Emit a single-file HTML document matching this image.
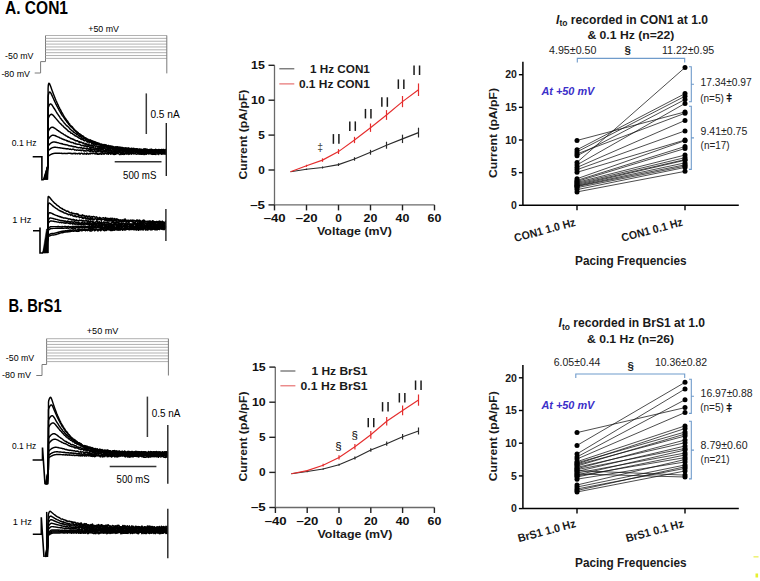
<!DOCTYPE html>
<html><head><meta charset="utf-8"><style>
html,body{margin:0;padding:0;background:#fff;}
svg{display:block;font-family:"Liberation Sans", sans-serif;}
</style></head><body>
<svg width="760" height="581" viewBox="0 0 760 581">
<rect width="760" height="581" fill="#fff"/>
<text x="5" y="14" font-size="17.8" font-weight="bold" fill="#000" text-anchor="start" textLength="63" lengthAdjust="spacingAndGlyphs" >A. CON1</text>
<text x="8.4" y="312.2" font-size="18" font-weight="bold" fill="#000" text-anchor="start" textLength="53.2" lengthAdjust="spacingAndGlyphs" >B. BrS1</text>
<path d="M34.7,73 H40.6 V61.6 H45.5 V35.5" stroke="#7a7a7a" stroke-width="1" fill="none" />
<line x1="45.5" y1="35.5" x2="166.8" y2="35.5" stroke="#a8a8a8" stroke-width="0.9"/>
<line x1="45.5" y1="38.3625" x2="166.8" y2="38.3625" stroke="#a8a8a8" stroke-width="0.9"/>
<line x1="45.5" y1="41.225" x2="166.8" y2="41.225" stroke="#a8a8a8" stroke-width="0.9"/>
<line x1="45.5" y1="44.0875" x2="166.8" y2="44.0875" stroke="#a8a8a8" stroke-width="0.9"/>
<line x1="45.5" y1="46.95" x2="166.8" y2="46.95" stroke="#a8a8a8" stroke-width="0.9"/>
<line x1="45.5" y1="49.8125" x2="166.8" y2="49.8125" stroke="#a8a8a8" stroke-width="0.9"/>
<line x1="45.5" y1="52.675" x2="166.8" y2="52.675" stroke="#a8a8a8" stroke-width="0.9"/>
<line x1="45.5" y1="55.537499999999994" x2="166.8" y2="55.537499999999994" stroke="#a8a8a8" stroke-width="0.9"/>
<line x1="45.5" y1="58.4" x2="166.8" y2="58.4" stroke="#a8a8a8" stroke-width="0.9"/>
<line x1="166.8" y1="35.5" x2="166.8" y2="73.4" stroke="#7a7a7a" stroke-width="1"/>
<text x="88.3" y="32" font-size="9.2" font-weight="normal" fill="#000" text-anchor="start" textLength="30.7" lengthAdjust="spacingAndGlyphs" >+50 mV</text>
<text x="5.1" y="59" font-size="9.2" font-weight="normal" fill="#000" text-anchor="start" textLength="28.4" lengthAdjust="spacingAndGlyphs" >-50 mV</text>
<text x="1.4" y="76.6" font-size="9.2" font-weight="normal" fill="#000" text-anchor="start" textLength="28.6" lengthAdjust="spacingAndGlyphs" >-80 mV</text>
<path d="M36.3,375.5 H42 V364.5 H46.6 V338.7" stroke="#7a7a7a" stroke-width="1" fill="none" />
<line x1="46.6" y1="338.7" x2="168.4" y2="338.7" stroke="#a8a8a8" stroke-width="0.9"/>
<line x1="46.6" y1="341.5625" x2="168.4" y2="341.5625" stroke="#a8a8a8" stroke-width="0.9"/>
<line x1="46.6" y1="344.425" x2="168.4" y2="344.425" stroke="#a8a8a8" stroke-width="0.9"/>
<line x1="46.6" y1="347.2875" x2="168.4" y2="347.2875" stroke="#a8a8a8" stroke-width="0.9"/>
<line x1="46.6" y1="350.15" x2="168.4" y2="350.15" stroke="#a8a8a8" stroke-width="0.9"/>
<line x1="46.6" y1="353.0125" x2="168.4" y2="353.0125" stroke="#a8a8a8" stroke-width="0.9"/>
<line x1="46.6" y1="355.875" x2="168.4" y2="355.875" stroke="#a8a8a8" stroke-width="0.9"/>
<line x1="46.6" y1="358.7375" x2="168.4" y2="358.7375" stroke="#a8a8a8" stroke-width="0.9"/>
<line x1="46.6" y1="361.6" x2="168.4" y2="361.6" stroke="#a8a8a8" stroke-width="0.9"/>
<line x1="168.4" y1="338.7" x2="168.4" y2="375.5" stroke="#7a7a7a" stroke-width="1"/>
<text x="86.8" y="334.2" font-size="9.2" font-weight="normal" fill="#000" text-anchor="start" textLength="31.6" lengthAdjust="spacingAndGlyphs" >+50 mV</text>
<text x="5.8" y="360.6" font-size="9.2" font-weight="normal" fill="#000" text-anchor="start" textLength="28.4" lengthAdjust="spacingAndGlyphs" >-50 mV</text>
<text x="2" y="377.7" font-size="9.2" font-weight="normal" fill="#000" text-anchor="start" textLength="29" lengthAdjust="spacingAndGlyphs" >-80 mV</text>
<path d="M32.7,156.8 H41.9 V179.7 H43.8" stroke="#000" stroke-width="1.6" fill="none" stroke-linejoin="miter"/>
<path d="M43.50,179.70 L47.90,165.70 L48.10,88.20 L48.30,85.22 L48.60,83.86 L48.90,83.24 L49.00,83.20 L49.60,83.84 L50.20,85.22 L50.80,86.84 L51.40,88.51 L52.00,90.17 L52.60,91.82 L53.20,93.43 L53.80,95.01 L54.40,96.55 L55.00,98.01 L55.60,99.42 L56.20,100.97 L56.80,102.19 L57.40,103.67 L57.90,104.71 L58.40,105.66 L58.90,106.87 L59.40,107.70 L59.90,108.85 L60.40,109.67 L60.90,110.62 L61.40,111.69 L61.90,112.79 L62.40,113.33 L62.90,114.24 L63.40,115.29 L63.90,116.30 L64.40,116.90 L64.90,117.58 L65.40,118.70 L65.90,118.87 L66.40,120.12 L66.90,120.46 L67.40,121.06 L67.90,121.71 L68.40,122.51 L68.90,123.53 L69.40,123.69 L69.90,124.62 L70.40,125.27 L70.90,125.64 L71.40,126.37 L71.90,126.52 L72.40,127.05 L72.90,127.72 L73.40,128.67 L73.90,128.95 L74.40,129.34 L74.90,130.09 L75.40,130.44 L75.90,130.75 L76.40,131.71 L76.90,132.06 L77.40,132.01 L77.90,132.79 L78.40,133.15 L78.90,133.94 L79.40,134.18 L79.90,134.06 L80.40,135.25 L80.90,134.59 L81.40,135.31 L81.90,136.07 L82.40,135.66 L82.90,136.42 L83.40,136.16 L83.90,137.30 L84.40,137.74 L84.90,137.79 L85.40,138.50 L85.90,138.02 L86.40,138.83 L86.90,138.97 L87.40,139.22 L87.90,139.31 L88.40,140.13 L88.90,140.54 L89.40,140.08 L89.90,140.61 L90.40,139.94 L90.90,141.13 L91.40,141.27 L91.90,142.00 L92.40,141.96 L92.90,141.36 L93.40,141.72 L93.90,142.34 L94.40,141.56 L94.90,142.41 L95.40,142.15 L95.90,142.26 L96.40,142.35 L96.90,143.58 L97.40,142.79 L97.90,143.13 L98.40,143.51 L98.90,144.38 L99.40,143.35 L99.90,144.05 L100.40,144.35 L100.90,144.99 L101.40,145.03 L101.90,145.23 L102.40,144.49 L102.90,144.82 L103.40,144.86 L103.90,145.77 L104.40,146.00 L104.90,144.91 L105.40,145.06 L105.90,145.26 L106.40,145.37 L106.90,145.85 L107.40,146.11 L107.90,145.73 L108.40,145.44 L108.90,146.16 L109.40,146.18 L109.90,146.57 L110.40,147.24 L110.90,146.93 L111.40,146.75 L111.90,146.99 L112.40,147.16 L112.90,146.31 L113.40,147.65 L113.90,147.55 L114.40,147.77 L114.90,147.72 L115.40,147.19 L115.90,147.27 L116.40,146.89 L116.90,147.75 L117.40,146.96 L117.90,147.03 L118.40,147.30 L118.90,147.30 L119.40,147.62 L119.90,147.25 L120.40,147.22 L120.90,147.51 L121.40,147.48 L121.90,147.93 L122.40,147.47 L122.90,148.80 L123.40,148.45 L123.90,147.80 L124.40,148.01 L124.90,148.19 L125.40,148.26 L125.90,147.94 L126.40,149.08 L126.90,149.33 L127.40,148.58 L127.90,148.65 L128.40,148.09 L128.90,148.15 L129.40,148.55 L129.90,148.47 L130.40,149.35 L130.90,148.38 L131.40,148.21 L131.90,149.63 L132.40,149.03 L132.90,148.49 L133.40,149.11 L133.90,148.37 L134.40,149.15 L134.90,149.85 L135.40,149.71 L135.90,149.48 L136.40,148.86 L136.90,149.04 L137.40,148.77 L137.90,149.70 L138.40,149.36 L138.90,149.75 L139.40,149.10 L139.90,148.97 L140.40,149.87 L140.90,150.15 L141.40,149.97 L141.90,149.92 L142.40,149.96 L142.90,149.86 L143.40,149.11 L143.90,149.57 L144.40,149.34 L144.90,148.87 L145.40,148.88 L145.90,149.28 L146.40,149.26 L146.90,149.93 L147.40,150.34 L147.90,149.59 L148.40,150.34 L148.90,150.43 L149.40,150.40 L149.90,149.53 L150.40,149.32 L150.90,149.35 L151.40,149.31 L151.90,149.34 L152.40,149.98 L152.90,150.41 L153.40,150.33 L153.90,149.80 L154.40,150.07 L154.90,150.30 L155.40,149.24 L155.90,150.11 L156.40,150.50 L156.90,150.31 L157.40,150.28 L157.90,149.88 L158.40,149.44 L158.90,150.36 L159.40,149.69 L159.90,150.40 L160.40,150.66 L160.90,149.81 L161.40,149.82 L161.90,150.65 L162.40,150.32 L162.90,149.50 L163.40,149.44 L163.90,149.48 L164.40,150.62 L164.90,150.48 L165.40,149.50 L165.90,150.52 L166.30,150.52" stroke="#000" stroke-width="1.45" fill="none" stroke-linejoin="round"/>
<path d="M44.00,179.70 L47.90,165.70 L48.10,97.00 L48.30,95.12 L48.60,93.99 L48.90,93.12 L49.20,92.50 L49.50,92.12 L49.80,92.00 L49.80,92.00 L50.40,92.40 L51.00,93.36 L51.60,94.58 L52.20,95.88 L52.80,97.22 L53.40,98.56 L54.00,99.88 L54.60,101.18 L55.20,102.45 L55.80,103.80 L56.40,104.95 L57.00,106.06 L57.60,107.28 L58.20,108.28 L58.70,109.16 L59.20,110.39 L59.70,111.16 L60.20,111.98 L60.70,113.00 L61.20,113.62 L61.70,114.63 L62.20,115.40 L62.70,115.89 L63.20,116.66 L63.70,117.42 L64.20,118.12 L64.70,119.02 L65.20,119.53 L65.70,120.30 L66.20,120.78 L66.70,121.92 L67.20,122.20 L67.70,122.89 L68.20,123.59 L68.70,124.41 L69.20,124.65 L69.70,125.59 L70.20,125.84 L70.70,126.41 L71.20,126.94 L71.70,127.04 L72.20,127.90 L72.70,128.18 L73.20,128.50 L73.70,129.68 L74.20,129.58 L74.70,130.32 L75.20,131.00 L75.70,131.28 L76.20,131.48 L76.70,132.09 L77.20,132.54 L77.70,133.18 L78.20,132.85 L78.70,133.72 L79.20,133.75 L79.70,134.14 L80.20,135.06 L80.70,135.11 L81.20,135.52 L81.70,136.09 L82.20,136.61 L82.70,136.36 L83.20,136.88 L83.70,137.06 L84.20,137.36 L84.70,137.89 L85.20,137.86 L85.70,138.25 L86.20,138.45 L86.70,139.36 L87.20,139.29 L87.70,139.81 L88.20,140.16 L88.70,139.42 L89.20,140.10 L89.70,140.91 L90.20,140.98 L90.70,140.15 L91.20,140.35 L91.70,141.04 L92.20,140.70 L92.70,141.16 L93.20,141.11 L93.70,142.20 L94.20,142.56 L94.70,142.92 L95.20,141.99 L95.70,143.01 L96.20,143.11 L96.70,142.50 L97.20,143.78 L97.70,144.07 L98.20,143.11 L98.70,144.37 L99.20,143.69 L99.70,143.97 L100.20,144.88 L100.70,144.78 L101.20,143.92 L101.70,144.46 L102.20,144.72 L102.70,144.59 L103.20,144.50 L103.70,144.81 L104.20,145.54 L104.70,144.61 L105.20,145.53 L105.70,145.47 L106.20,144.95 L106.70,145.53 L107.20,146.08 L107.70,146.02 L108.20,145.45 L108.70,146.93 L109.20,146.74 L109.70,147.11 L110.20,145.90 L110.70,146.24 L111.20,145.99 L111.70,147.18 L112.20,146.51 L112.70,146.38 L113.20,146.90 L113.70,147.72 L114.20,147.66 L114.70,146.89 L115.20,146.81 L115.70,148.03 L116.20,147.58 L116.70,147.85 L117.20,147.00 L117.70,147.02 L118.20,148.03 L118.70,147.71 L119.20,147.24 L119.70,148.60 L120.20,148.20 L120.70,148.51 L121.20,147.50 L121.70,148.71 L122.20,147.58 L122.70,148.83 L123.20,148.27 L123.70,148.15 L124.20,148.52 L124.70,149.13 L125.20,148.19 L125.70,148.03 L126.20,148.67 L126.70,148.29 L127.20,148.14 L127.70,148.26 L128.20,148.14 L128.70,148.40 L129.20,148.61 L129.70,148.64 L130.20,149.36 L130.70,148.69 L131.20,149.05 L131.70,148.60 L132.20,148.89 L132.70,148.43 L133.20,148.81 L133.70,148.49 L134.20,149.60 L134.70,149.36 L135.20,148.85 L135.70,149.31 L136.20,150.03 L136.70,148.81 L137.20,149.91 L137.70,149.36 L138.20,149.48 L138.70,150.02 L139.20,149.38 L139.70,149.58 L140.20,149.87 L140.70,150.34 L141.20,149.40 L141.70,150.16 L142.20,150.00 L142.70,149.91 L143.20,149.59 L143.70,149.52 L144.20,149.10 L144.70,149.24 L145.20,149.17 L145.70,150.19 L146.20,149.48 L146.70,149.36 L147.20,149.26 L147.70,150.42 L148.20,150.48 L148.70,150.20 L149.20,149.63 L149.70,149.59 L150.20,149.68 L150.70,149.94 L151.20,149.51 L151.70,149.95 L152.20,149.69 L152.70,150.76 L153.20,150.79 L153.70,150.16 L154.20,149.72 L154.70,150.82 L155.20,149.85 L155.70,149.93 L156.20,149.41 L156.70,149.99 L157.20,150.14 L157.70,150.19 L158.20,149.75 L158.70,150.22 L159.20,149.48 L159.70,149.88 L160.20,149.63 L160.70,150.10 L161.20,149.58 L161.70,149.56 L162.20,149.99 L162.70,149.89 L163.20,150.43 L163.70,150.35 L164.20,150.69 L164.70,150.56 L165.20,150.66 L165.70,150.91 L166.20,150.19 L166.30,150.19" stroke="#000" stroke-width="1.45" fill="none" stroke-linejoin="round"/>
<path d="M44.50,179.70 L47.90,165.70 L48.10,108.90 L48.30,107.53 L48.60,106.64 L48.90,105.88 L49.20,105.24 L49.50,104.73 L49.80,104.34 L50.10,104.07 L50.40,103.93 L50.60,103.90 L51.20,104.14 L51.80,104.76 L52.40,105.60 L53.00,106.53 L53.60,107.51 L54.20,108.50 L54.80,109.49 L55.40,110.47 L56.00,111.44 L56.60,112.35 L57.20,113.45 L57.80,114.15 L58.40,115.20 L59.00,116.06 L59.50,116.57 L60.00,117.54 L60.50,118.26 L61.00,118.84 L61.50,119.54 L62.00,120.23 L62.50,120.57 L63.00,121.36 L63.50,121.96 L64.00,122.73 L64.50,123.30 L65.00,123.89 L65.50,124.33 L66.00,125.06 L66.50,125.48 L67.00,126.02 L67.50,126.25 L68.00,126.62 L68.50,127.17 L69.00,127.81 L69.50,128.10 L70.00,129.10 L70.50,129.35 L71.00,129.85 L71.50,130.29 L72.00,130.77 L72.50,131.04 L73.00,131.04 L73.50,132.12 L74.00,132.48 L74.50,132.65 L75.00,133.06 L75.50,133.55 L76.00,133.35 L76.50,134.35 L77.00,134.23 L77.50,134.38 L78.00,134.91 L78.50,135.72 L79.00,135.48 L79.50,136.37 L80.00,136.95 L80.50,136.72 L81.00,136.89 L81.50,137.29 L82.00,137.81 L82.50,138.19 L83.00,138.29 L83.50,138.59 L84.00,138.14 L84.50,138.48 L85.00,138.86 L85.50,139.74 L86.00,139.41 L86.50,139.99 L87.00,139.47 L87.50,139.75 L88.00,140.26 L88.50,141.04 L89.00,141.29 L89.50,141.47 L90.00,141.11 L90.50,141.64 L91.00,141.76 L91.50,141.96 L92.00,141.62 L92.50,142.97 L93.00,142.11 L93.50,143.45 L94.00,143.56 L94.50,142.35 L95.00,143.18 L95.50,143.88 L96.00,144.26 L96.50,143.64 L97.00,143.52 L97.50,143.58 L98.00,144.83 L98.50,143.87 L99.00,144.57 L99.50,144.05 L100.00,144.75 L100.50,145.53 L101.00,144.43 L101.50,145.58 L102.00,145.24 L102.50,145.93 L103.00,145.77 L103.50,145.18 L104.00,146.29 L104.50,145.79 L105.00,145.20 L105.50,145.28 L106.00,146.12 L106.50,146.16 L107.00,146.03 L107.50,145.89 L108.00,146.29 L108.50,146.34 L109.00,147.22 L109.50,146.06 L110.00,147.27 L110.50,147.49 L111.00,146.49 L111.50,147.79 L112.00,147.55 L112.50,147.91 L113.00,147.07 L113.50,147.27 L114.00,147.38 L114.50,148.36 L115.00,147.82 L115.50,147.54 L116.00,147.71 L116.50,147.55 L117.00,147.28 L117.50,147.42 L118.00,148.59 L118.50,147.83 L119.00,148.86 L119.50,147.89 L120.00,147.97 L120.50,148.40 L121.00,147.97 L121.50,148.30 L122.00,149.23 L122.50,149.18 L123.00,149.12 L123.50,148.90 L124.00,149.37 L124.50,149.46 L125.00,148.92 L125.50,149.22 L126.00,148.26 L126.50,149.33 L127.00,148.95 L127.50,149.45 L128.00,149.33 L128.50,148.83 L129.00,148.52 L129.50,149.87 L130.00,148.71 L130.50,149.27 L131.00,149.11 L131.50,149.08 L132.00,149.78 L132.50,150.17 L133.00,149.13 L133.50,149.75 L134.00,149.25 L134.50,149.67 L135.00,149.46 L135.50,149.15 L136.00,149.17 L136.50,149.27 L137.00,150.34 L137.50,149.76 L138.00,149.37 L138.50,150.43 L139.00,150.59 L139.50,149.79 L140.00,149.35 L140.50,149.46 L141.00,149.33 L141.50,149.73 L142.00,149.38 L142.50,149.62 L143.00,149.67 L143.50,150.16 L144.00,150.66 L144.50,150.47 L145.00,149.99 L145.50,150.01 L146.00,150.20 L146.50,150.00 L147.00,149.96 L147.50,149.56 L148.00,149.90 L148.50,150.96 L149.00,149.71 L149.50,150.29 L150.00,150.50 L150.50,150.87 L151.00,149.91 L151.50,150.01 L152.00,149.99 L152.50,150.23 L153.00,150.32 L153.50,151.09 L154.00,150.95 L154.50,151.00 L155.00,149.74 L155.50,149.77 L156.00,150.80 L156.50,151.09 L157.00,150.47 L157.50,150.65 L158.00,149.78 L158.50,150.38 L159.00,151.19 L159.50,151.05 L160.00,151.11 L160.50,151.30 L161.00,150.22 L161.50,150.02 L162.00,150.10 L162.50,150.66 L163.00,150.91 L163.50,151.31 L164.00,150.99 L164.50,150.89 L165.00,151.07 L165.50,150.62 L166.00,150.77 L166.30,150.77" stroke="#000" stroke-width="1.45" fill="none" stroke-linejoin="round"/>
<path d="M45.00,179.70 L47.90,165.70 L48.10,119.30 L48.30,118.22 L48.60,117.50 L48.90,116.85 L49.20,116.28 L49.50,115.77 L49.80,115.34 L50.10,114.99 L50.40,114.71 L50.70,114.50 L51.00,114.37 L51.30,114.30 L51.40,114.30 L52.00,114.45 L52.60,114.84 L53.20,115.39 L53.80,116.03 L54.40,116.72 L55.00,117.42 L55.60,118.14 L56.20,118.85 L56.80,119.56 L57.40,120.15 L58.00,121.01 L58.60,121.55 L59.20,122.41 L59.80,122.98 L60.30,123.41 L60.80,123.87 L61.30,124.42 L61.80,125.07 L62.30,125.60 L62.80,125.84 L63.30,126.30 L63.80,126.97 L64.30,127.46 L64.80,127.82 L65.30,128.18 L65.80,128.82 L66.30,128.92 L66.80,129.50 L67.30,130.01 L67.80,130.72 L68.30,130.93 L68.80,131.48 L69.30,131.60 L69.80,131.81 L70.30,132.18 L70.80,133.06 L71.30,133.23 L71.80,133.28 L72.30,133.40 L72.80,134.11 L73.30,134.58 L73.80,134.69 L74.30,134.87 L74.80,135.54 L75.30,136.08 L75.80,135.75 L76.30,135.86 L76.80,136.43 L77.30,136.79 L77.80,137.32 L78.30,137.11 L78.80,137.99 L79.30,138.20 L79.80,138.21 L80.30,138.14 L80.80,139.22 L81.30,138.74 L81.80,139.55 L82.30,139.11 L82.80,139.32 L83.30,140.19 L83.80,139.85 L84.30,140.87 L84.80,140.52 L85.30,140.34 L85.80,140.58 L86.30,141.03 L86.80,141.56 L87.30,142.14 L87.80,141.24 L88.30,141.76 L88.80,141.69 L89.30,142.94 L89.80,141.93 L90.30,141.96 L90.80,142.14 L91.30,142.79 L91.80,143.71 L92.30,143.85 L92.80,143.78 L93.30,144.33 L93.80,144.38 L94.30,143.63 L94.80,143.56 L95.30,144.82 L95.80,144.68 L96.30,143.74 L96.80,144.83 L97.30,144.53 L97.80,144.65 L98.30,144.72 L98.80,144.60 L99.30,144.47 L99.80,145.00 L100.30,145.23 L100.80,146.25 L101.30,145.12 L101.80,146.49 L102.30,145.46 L102.80,145.79 L103.30,146.59 L103.80,146.70 L104.30,146.21 L104.80,145.74 L105.30,146.47 L105.80,146.41 L106.30,147.33 L106.80,146.33 L107.30,146.67 L107.80,147.56 L108.30,146.35 L108.80,147.00 L109.30,147.69 L109.80,147.70 L110.30,146.69 L110.80,146.76 L111.30,146.88 L111.80,148.24 L112.30,147.32 L112.80,148.13 L113.30,148.43 L113.80,147.66 L114.30,147.63 L114.80,148.72 L115.30,148.28 L115.80,147.81 L116.30,148.56 L116.80,148.02 L117.30,148.02 L117.80,147.67 L118.30,148.86 L118.80,149.15 L119.30,148.79 L119.80,149.31 L120.30,147.98 L120.80,148.35 L121.30,148.76 L121.80,149.54 L122.30,149.58 L122.80,148.78 L123.30,148.63 L123.80,148.94 L124.30,149.09 L124.80,149.78 L125.30,148.71 L125.80,149.68 L126.30,149.63 L126.80,149.80 L127.30,149.77 L127.80,149.56 L128.30,149.18 L128.80,149.21 L129.30,149.31 L129.80,149.98 L130.30,148.96 L130.80,149.17 L131.30,150.04 L131.80,149.32 L132.30,149.08 L132.80,149.07 L133.30,149.88 L133.80,149.57 L134.30,150.58 L134.80,150.47 L135.30,150.66 L135.80,149.60 L136.30,149.36 L136.80,149.41 L137.30,150.04 L137.80,150.38 L138.30,150.02 L138.80,149.72 L139.30,150.03 L139.80,150.36 L140.30,150.46 L140.80,150.60 L141.30,150.77 L141.80,150.52 L142.30,149.73 L142.80,150.83 L143.30,150.03 L143.80,150.46 L144.30,150.20 L144.80,150.76 L145.30,149.98 L145.80,150.07 L146.30,150.09 L146.80,149.97 L147.30,151.08 L147.80,150.64 L148.30,150.28 L148.80,150.41 L149.30,151.32 L149.80,150.61 L150.30,150.21 L150.80,151.09 L151.30,150.88 L151.80,151.40 L152.30,150.08 L152.80,150.66 L153.30,151.19 L153.80,151.24 L154.30,151.36 L154.80,150.07 L155.30,150.46 L155.80,150.21 L156.30,150.33 L156.80,151.52 L157.30,150.95 L157.80,151.48 L158.30,150.66 L158.80,151.41 L159.30,150.80 L159.80,150.53 L160.30,151.31 L160.80,151.58 L161.30,150.33 L161.80,151.08 L162.30,151.12 L162.80,150.53 L163.30,150.77 L163.80,150.44 L164.30,150.54 L164.80,150.63 L165.30,151.15 L165.80,151.24 L166.30,150.58 L166.30,150.58" stroke="#000" stroke-width="1.45" fill="none" stroke-linejoin="round"/>
<path d="M45.50,179.70 L47.90,165.70 L48.10,132.20 L48.30,131.31 L48.60,130.70 L48.90,130.14 L49.20,129.63 L49.50,129.17 L49.80,128.76 L50.10,128.39 L50.40,128.08 L50.70,127.81 L51.00,127.59 L51.30,127.42 L51.60,127.30 L51.90,127.22 L52.20,127.20 L52.20,127.20 L52.80,127.28 L53.40,127.49 L54.00,127.80 L54.60,128.17 L55.20,128.58 L55.80,129.00 L56.40,129.43 L57.00,129.87 L57.60,130.30 L58.20,130.62 L58.80,131.12 L59.40,131.63 L60.00,131.91 L60.60,132.35 L61.10,132.65 L61.60,133.18 L62.10,133.42 L62.60,133.56 L63.10,133.88 L63.60,134.31 L64.10,134.68 L64.60,135.03 L65.10,135.06 L65.60,135.38 L66.10,135.94 L66.60,136.07 L67.10,136.27 L67.60,136.55 L68.10,137.20 L68.60,137.08 L69.10,137.50 L69.60,137.61 L70.10,137.90 L70.60,138.45 L71.10,138.80 L71.60,138.58 L72.10,138.69 L72.60,139.32 L73.10,139.13 L73.60,139.19 L74.10,140.13 L74.60,139.95 L75.10,140.50 L75.60,140.35 L76.10,140.98 L76.60,140.80 L77.10,140.71 L77.60,140.76 L78.10,141.46 L78.60,141.73 L79.10,142.19 L79.60,141.53 L80.10,142.26 L80.60,142.17 L81.10,142.48 L81.60,142.25 L82.10,142.56 L82.60,142.99 L83.10,143.61 L83.60,142.82 L84.10,143.42 L84.60,143.95 L85.10,144.30 L85.60,143.49 L86.10,143.54 L86.60,144.72 L87.10,144.91 L87.60,144.40 L88.10,143.95 L88.60,145.27 L89.10,144.66 L89.60,145.50 L90.10,145.23 L90.60,145.65 L91.10,144.80 L91.60,145.84 L92.10,145.12 L92.60,145.50 L93.10,146.27 L93.60,146.36 L94.10,145.49 L94.60,145.65 L95.10,146.03 L95.60,146.31 L96.10,146.20 L96.60,145.91 L97.10,146.19 L97.60,147.00 L98.10,147.35 L98.60,146.16 L99.10,147.03 L99.60,147.41 L100.10,146.42 L100.60,147.70 L101.10,146.71 L101.60,147.51 L102.10,147.52 L102.60,147.71 L103.10,147.31 L103.60,147.55 L104.10,147.87 L104.60,147.71 L105.10,148.13 L105.60,147.89 L106.10,147.94 L106.60,147.39 L107.10,148.35 L107.60,148.22 L108.10,147.90 L108.60,148.76 L109.10,148.85 L109.60,148.43 L110.10,148.07 L110.60,148.57 L111.10,148.08 L111.60,148.17 L112.10,148.68 L112.60,148.22 L113.10,148.80 L113.60,148.96 L114.10,148.31 L114.60,149.25 L115.10,148.47 L115.60,149.50 L116.10,149.61 L116.60,149.26 L117.10,148.62 L117.60,149.34 L118.10,149.20 L118.60,150.10 L119.10,148.92 L119.60,150.05 L120.10,150.30 L120.60,149.94 L121.10,150.11 L121.60,149.22 L122.10,150.44 L122.60,149.74 L123.10,150.48 L123.60,150.45 L124.10,149.36 L124.60,150.34 L125.10,150.58 L125.60,149.32 L126.10,149.78 L126.60,150.43 L127.10,149.56 L127.60,150.70 L128.10,149.80 L128.60,150.64 L129.10,149.66 L129.60,150.23 L130.10,150.89 L130.60,149.85 L131.10,149.96 L131.60,150.35 L132.10,150.10 L132.60,149.70 L133.10,149.95 L133.60,149.94 L134.10,151.13 L134.60,150.77 L135.10,151.12 L135.60,150.05 L136.10,151.00 L136.60,150.02 L137.10,150.67 L137.60,150.85 L138.10,150.46 L138.60,151.25 L139.10,150.79 L139.60,150.85 L140.10,151.33 L140.60,150.18 L141.10,151.53 L141.60,151.01 L142.10,150.67 L142.60,151.30 L143.10,150.52 L143.60,151.62 L144.10,151.02 L144.60,150.71 L145.10,151.34 L145.60,150.87 L146.10,150.49 L146.60,151.36 L147.10,150.33 L147.60,151.50 L148.10,150.67 L148.60,151.26 L149.10,151.79 L149.60,151.21 L150.10,151.34 L150.60,150.83 L151.10,150.38 L151.60,150.44 L152.10,150.63 L152.60,151.34 L153.10,151.08 L153.60,151.21 L154.10,151.80 L154.60,150.66 L155.10,150.82 L155.60,151.47 L156.10,150.53 L156.60,150.52 L157.10,151.06 L157.60,150.69 L158.10,151.08 L158.60,150.89 L159.10,151.44 L159.60,151.46 L160.10,150.89 L160.60,151.53 L161.10,151.32 L161.60,150.82 L162.10,152.03 L162.60,151.00 L163.10,150.87 L163.60,150.80 L164.10,151.62 L164.60,151.98 L165.10,151.85 L165.60,151.29 L166.10,151.09 L166.30,151.09" stroke="#000" stroke-width="1.45" fill="none" stroke-linejoin="round"/>
<path d="M46.00,179.70 L47.90,165.70 L48.10,140.20 L48.30,139.45 L48.60,138.92 L48.90,138.43 L49.20,137.98 L49.50,137.55 L49.80,137.17 L50.10,136.82 L50.40,136.50 L50.70,136.22 L51.00,135.97 L51.30,135.76 L51.60,135.58 L51.90,135.43 L52.20,135.32 L52.50,135.25 L52.80,135.21 L53.00,135.20 L53.60,135.24 L54.20,135.37 L54.80,135.55 L55.40,135.77 L56.00,136.02 L56.60,136.29 L57.20,136.56 L57.80,136.84 L58.40,137.12 L59.00,137.29 L59.60,137.71 L60.20,137.97 L60.80,138.18 L61.40,138.54 L61.90,138.69 L62.40,139.08 L62.90,139.23 L63.40,139.26 L63.90,139.73 L64.40,139.58 L64.90,139.99 L65.40,140.13 L65.90,140.24 L66.40,140.34 L66.90,140.90 L67.40,140.68 L67.90,141.16 L68.40,141.57 L68.90,141.28 L69.40,141.48 L69.90,141.91 L70.40,142.02 L70.90,142.28 L71.40,142.57 L71.90,142.28 L72.40,142.53 L72.90,142.68 L73.40,142.64 L73.90,143.44 L74.40,143.52 L74.90,143.62 L75.40,143.17 L75.90,144.02 L76.40,144.08 L76.90,143.98 L77.40,144.36 L77.90,144.23 L78.40,144.15 L78.90,144.16 L79.40,144.40 L79.90,144.33 L80.40,144.75 L80.90,145.30 L81.40,145.37 L81.90,145.65 L82.40,145.62 L82.90,145.24 L83.40,145.68 L83.90,145.65 L84.40,146.18 L84.90,145.97 L85.40,145.76 L85.90,146.33 L86.40,146.83 L86.90,145.99 L87.40,146.94 L87.90,145.91 L88.40,146.32 L88.90,146.38 L89.40,147.16 L89.90,147.53 L90.40,147.35 L90.90,146.85 L91.40,147.73 L91.90,147.01 L92.40,146.96 L92.90,148.04 L93.40,147.70 L93.90,147.88 L94.40,147.91 L94.90,148.46 L95.40,147.77 L95.90,148.40 L96.40,148.26 L96.90,148.57 L97.40,148.01 L97.90,148.51 L98.40,148.35 L98.90,148.02 L99.40,147.94 L99.90,148.62 L100.40,147.87 L100.90,149.18 L101.40,148.10 L101.90,147.98 L102.40,148.16 L102.90,149.45 L103.40,148.63 L103.90,148.38 L104.40,148.27 L104.90,148.34 L105.40,149.38 L105.90,149.34 L106.40,149.49 L106.90,149.60 L107.40,148.64 L107.90,149.48 L108.40,149.19 L108.90,149.92 L109.40,149.97 L109.90,150.12 L110.40,148.93 L110.90,150.18 L111.40,150.29 L111.90,150.38 L112.40,149.17 L112.90,149.36 L113.40,149.26 L113.90,149.18 L114.40,150.44 L114.90,150.43 L115.40,150.20 L115.90,150.52 L116.40,150.27 L116.90,149.79 L117.40,149.54 L117.90,149.58 L118.40,150.60 L118.90,149.81 L119.40,150.01 L119.90,150.20 L120.40,149.63 L120.90,150.02 L121.40,150.09 L121.90,150.77 L122.40,150.28 L122.90,150.24 L123.40,151.23 L123.90,150.57 L124.40,151.12 L124.90,150.80 L125.40,149.95 L125.90,150.55 L126.40,150.61 L126.90,151.14 L127.40,150.53 L127.90,151.09 L128.40,150.86 L128.90,150.41 L129.40,151.40 L129.90,150.27 L130.40,151.38 L130.90,150.43 L131.40,150.20 L131.90,150.52 L132.40,151.39 L132.90,151.73 L133.40,150.29 L133.90,151.04 L134.40,151.06 L134.90,151.54 L135.40,150.64 L135.90,151.13 L136.40,150.93 L136.90,151.67 L137.40,150.83 L137.90,151.88 L138.40,150.91 L138.90,150.82 L139.40,151.56 L139.90,151.28 L140.40,150.71 L140.90,151.52 L141.40,150.70 L141.90,151.78 L142.40,151.66 L142.90,151.81 L143.40,151.59 L143.90,151.19 L144.40,151.28 L144.90,151.28 L145.40,152.04 L145.90,150.85 L146.40,152.06 L146.90,150.78 L147.40,151.07 L147.90,151.16 L148.40,152.13 L148.90,151.55 L149.40,151.38 L149.90,152.15 L150.40,151.18 L150.90,151.54 L151.40,151.65 L151.90,152.00 L152.40,152.01 L152.90,151.86 L153.40,151.42 L153.90,151.40 L154.40,151.15 L154.90,152.20 L155.40,151.94 L155.90,152.07 L156.40,151.22 L156.90,151.63 L157.40,152.14 L157.90,151.86 L158.40,151.19 L158.90,151.70 L159.40,152.35 L159.90,151.38 L160.40,151.32 L160.90,151.50 L161.40,152.11 L161.90,152.33 L162.40,151.30 L162.90,151.31 L163.40,151.46 L163.90,151.58 L164.40,151.88 L164.90,151.35 L165.40,151.61 L165.90,151.41 L166.30,151.41" stroke="#000" stroke-width="1.45" fill="none" stroke-linejoin="round"/>
<path d="M46.50,179.70 L47.90,165.70 L48.10,146.52 L48.30,145.93 L48.60,145.51 L48.90,145.12 L49.20,144.75 L49.50,144.40 L49.80,144.08 L50.10,143.78 L50.40,143.50 L50.70,143.25 L51.00,143.02 L51.30,142.81 L51.60,142.63 L51.90,142.47 L52.20,142.33 L52.50,142.22 L52.80,142.13 L53.10,142.06 L53.40,142.02 L53.70,142.00 L53.80,142.00 L54.40,142.02 L55.00,142.09 L55.60,142.19 L56.20,142.31 L56.80,142.45 L57.40,142.60 L58.00,142.76 L58.60,142.92 L59.20,143.09 L59.80,143.36 L60.40,143.47 L61.00,143.47 L61.60,143.88 L62.20,143.77 L62.70,143.99 L63.20,144.33 L63.70,144.40 L64.20,144.51 L64.70,144.52 L65.20,144.54 L65.70,144.86 L66.20,144.73 L66.70,144.89 L67.20,145.10 L67.70,145.03 L68.20,145.33 L68.70,145.66 L69.20,145.72 L69.70,145.72 L70.20,145.91 L70.70,145.91 L71.20,145.81 L71.70,146.21 L72.20,146.18 L72.70,146.52 L73.20,146.74 L73.70,146.49 L74.20,146.70 L74.70,146.93 L75.20,146.76 L75.70,146.70 L76.20,147.20 L76.70,147.43 L77.20,147.43 L77.70,147.45 L78.20,147.68 L78.70,147.61 L79.20,147.66 L79.70,147.56 L80.20,147.50 L80.70,147.90 L81.20,147.43 L81.70,147.84 L82.20,148.30 L82.70,148.30 L83.20,148.29 L83.70,147.93 L84.20,148.20 L84.70,148.30 L85.20,148.57 L85.70,148.38 L86.20,148.77 L86.70,149.15 L87.20,148.29 L87.70,148.95 L88.20,149.17 L88.70,148.73 L89.20,148.92 L89.70,149.64 L90.20,148.42 L90.70,149.17 L91.20,148.69 L91.70,149.63 L92.20,149.92 L92.70,149.36 L93.20,148.80 L93.70,149.55 L94.20,149.56 L94.70,149.87 L95.20,149.61 L95.70,149.85 L96.20,150.19 L96.70,149.77 L97.20,149.65 L97.70,150.51 L98.20,149.45 L98.70,150.20 L99.20,149.81 L99.70,150.41 L100.20,149.49 L100.70,150.83 L101.20,149.93 L101.70,149.52 L102.20,149.89 L102.70,150.11 L103.20,149.57 L103.70,150.22 L104.20,150.26 L104.70,150.72 L105.20,150.23 L105.70,150.14 L106.20,150.11 L106.70,150.92 L107.20,151.26 L107.70,150.67 L108.20,150.24 L108.70,151.15 L109.20,150.57 L109.70,150.33 L110.20,150.24 L110.70,151.24 L111.20,151.32 L111.70,151.09 L112.20,150.87 L112.70,151.04 L113.20,150.56 L113.70,151.70 L114.20,150.81 L114.70,151.26 L115.20,151.56 L115.70,151.58 L116.20,151.09 L116.70,150.85 L117.20,151.26 L117.70,150.65 L118.20,151.74 L118.70,151.04 L119.20,151.81 L119.70,150.96 L120.20,151.15 L120.70,150.98 L121.20,151.27 L121.70,150.93 L122.20,150.67 L122.70,151.77 L123.20,151.13 L123.70,151.10 L124.20,151.21 L124.70,151.49 L125.20,151.44 L125.70,151.77 L126.20,151.82 L126.70,151.39 L127.20,152.26 L127.70,152.17 L128.20,150.99 L128.70,152.17 L129.20,152.30 L129.70,152.13 L130.20,151.19 L130.70,152.24 L131.20,151.96 L131.70,151.05 L132.20,151.06 L132.70,152.48 L133.20,152.06 L133.70,151.46 L134.20,151.25 L134.70,151.33 L135.20,151.48 L135.70,152.31 L136.20,151.68 L136.70,151.40 L137.20,152.54 L137.70,152.39 L138.20,151.46 L138.70,152.56 L139.20,152.15 L139.70,152.42 L140.20,152.27 L140.70,152.62 L141.20,152.47 L141.70,152.56 L142.20,151.61 L142.70,152.36 L143.20,152.13 L143.70,152.46 L144.20,152.01 L144.70,152.69 L145.20,152.21 L145.70,151.78 L146.20,151.75 L146.70,151.62 L147.20,152.16 L147.70,151.52 L148.20,152.14 L148.70,151.66 L149.20,152.19 L149.70,152.21 L150.20,152.28 L150.70,152.78 L151.20,151.50 L151.70,152.76 L152.20,152.21 L152.70,152.36 L153.20,152.52 L153.70,152.80 L154.20,152.10 L154.70,152.18 L155.20,153.00 L155.70,151.68 L156.20,152.53 L156.70,152.53 L157.20,151.63 L157.70,152.51 L158.20,152.63 L158.70,153.01 L159.20,152.11 L159.70,153.09 L160.20,152.39 L160.70,152.36 L161.20,152.99 L161.70,151.70 L162.20,152.73 L162.70,152.60 L163.20,152.17 L163.70,152.97 L164.20,152.23 L164.70,152.40 L165.20,152.48 L165.70,152.85 L166.20,152.02 L166.30,152.02" stroke="#000" stroke-width="1.45" fill="none" stroke-linejoin="round"/>
<path d="M47.00,179.70 L47.90,165.70 L48.10,151.19 L48.30,150.74 L48.60,150.42 L48.90,150.11 L49.20,149.83 L49.50,149.55 L49.80,149.30 L50.10,149.05 L50.40,148.83 L50.70,148.62 L51.00,148.42 L51.30,148.24 L51.60,148.08 L51.90,147.93 L52.20,147.80 L52.50,147.68 L52.80,147.58 L53.10,147.49 L53.40,147.42 L53.70,147.37 L54.00,147.33 L54.30,147.31 L54.60,147.30 L54.60,147.30 L55.20,147.31 L55.80,147.34 L56.40,147.39 L57.00,147.45 L57.60,147.52 L58.20,147.60 L58.80,147.68 L59.40,147.76 L60.00,147.84 L60.60,147.91 L61.20,147.99 L61.80,148.11 L62.40,148.28 L63.00,148.20 L63.50,148.45 L64.00,148.37 L64.50,148.48 L65.00,148.45 L65.50,148.61 L66.00,148.88 L66.50,148.81 L67.00,148.94 L67.50,148.79 L68.00,148.84 L68.50,148.89 L69.00,149.10 L69.50,149.19 L70.00,149.34 L70.50,148.96 L71.00,149.43 L71.50,149.60 L72.00,149.44 L72.50,149.16 L73.00,149.38 L73.50,149.23 L74.00,149.40 L74.50,150.00 L75.00,149.82 L75.50,149.91 L76.00,150.07 L76.50,150.22 L77.00,150.03 L77.50,150.09 L78.00,150.15 L78.50,150.26 L79.00,150.22 L79.50,150.34 L80.00,149.95 L80.50,150.43 L81.00,150.27 L81.50,150.62 L82.00,149.98 L82.50,150.10 L83.00,149.98 L83.50,150.82 L84.00,151.02 L84.50,150.77 L85.00,150.49 L85.50,151.05 L86.00,151.05 L86.50,150.83 L87.00,150.50 L87.50,150.58 L88.00,150.76 L88.50,150.67 L89.00,150.84 L89.50,151.15 L90.00,151.58 L90.50,150.44 L91.00,151.16 L91.50,150.46 L92.00,150.60 L92.50,151.60 L93.00,151.30 L93.50,151.84 L94.00,151.18 L94.50,150.56 L95.00,151.15 L95.50,151.48 L96.00,152.03 L96.50,152.12 L97.00,151.39 L97.50,151.32 L98.00,150.89 L98.50,151.73 L99.00,151.10 L99.50,151.04 L100.00,150.86 L100.50,150.87 L101.00,151.91 L101.50,151.09 L102.00,152.38 L102.50,151.09 L103.00,152.28 L103.50,151.20 L104.00,151.05 L104.50,152.13 L105.00,151.43 L105.50,152.19 L106.00,151.39 L106.50,151.21 L107.00,152.32 L107.50,152.24 L108.00,152.48 L108.50,152.31 L109.00,151.36 L109.50,152.20 L110.00,152.34 L110.50,151.98 L111.00,152.71 L111.50,151.71 L112.00,152.79 L112.50,152.44 L113.00,151.40 L113.50,151.42 L114.00,152.39 L114.50,152.66 L115.00,151.57 L115.50,151.93 L116.00,152.57 L116.50,151.74 L117.00,152.80 L117.50,152.25 L118.00,151.63 L118.50,152.11 L119.00,152.43 L119.50,152.24 L120.00,152.61 L120.50,151.83 L121.00,152.82 L121.50,152.18 L122.00,152.62 L122.50,152.61 L123.00,152.30 L123.50,152.27 L124.00,152.88 L124.50,153.13 L125.00,152.90 L125.50,152.59 L126.00,152.19 L126.50,151.85 L127.00,153.24 L127.50,152.84 L128.00,153.04 L128.50,152.31 L129.00,152.73 L129.50,153.30 L130.00,153.09 L130.50,152.75 L131.00,152.32 L131.50,152.51 L132.00,153.21 L132.50,152.46 L133.00,152.93 L133.50,152.81 L134.00,153.26 L134.50,153.14 L135.00,152.36 L135.50,151.95 L136.00,152.35 L136.50,152.60 L137.00,152.85 L137.50,153.20 L138.00,153.32 L138.50,152.06 L139.00,153.25 L139.50,153.23 L140.00,153.32 L140.50,152.89 L141.00,152.45 L141.50,153.32 L142.00,153.26 L142.50,153.09 L143.00,153.44 L143.50,152.59 L144.00,152.21 L144.50,152.92 L145.00,153.29 L145.50,152.40 L146.00,153.23 L146.50,153.51 L147.00,152.47 L147.50,153.04 L148.00,153.15 L148.50,152.84 L149.00,152.45 L149.50,152.53 L150.00,153.28 L150.50,153.35 L151.00,152.86 L151.50,152.30 L152.00,153.39 L152.50,153.34 L153.00,152.54 L153.50,153.06 L154.00,153.54 L154.50,153.53 L155.00,152.99 L155.50,152.93 L156.00,153.10 L156.50,152.51 L157.00,152.52 L157.50,152.50 L158.00,153.29 L158.50,152.79 L159.00,153.09 L159.50,152.86 L160.00,153.03 L160.50,152.48 L161.00,152.33 L161.50,153.76 L162.00,152.83 L162.50,152.44 L163.00,153.23 L163.50,153.47 L164.00,152.52 L164.50,153.19 L165.00,152.81 L165.50,153.08 L166.00,152.33 L166.30,152.33" stroke="#000" stroke-width="1.45" fill="none" stroke-linejoin="round"/>
<path d="M47.50,179.70 L47.90,165.70 L48.10,156.47 L48.30,156.14 L48.60,155.90 L48.90,155.68 L49.20,155.46 L49.50,155.26 L49.80,155.07 L50.10,154.88 L50.40,154.71 L50.70,154.54 L51.00,154.39 L51.30,154.25 L51.60,154.11 L51.90,153.99 L52.20,153.88 L52.50,153.77 L52.80,153.68 L53.10,153.60 L53.40,153.53 L53.70,153.46 L54.00,153.41 L54.30,153.37 L54.60,153.34 L54.90,153.31 L55.20,153.30 L55.40,153.30 L56.00,153.30 L56.60,153.30 L57.20,153.31 L57.80,153.31 L58.40,153.32 L59.00,153.33 L59.60,153.33 L60.20,153.34 L60.80,153.35 L61.40,153.25 L62.00,153.49 L62.60,153.47 L63.20,153.38 L63.80,153.41 L64.30,153.32 L64.80,153.50 L65.30,153.38 L65.80,153.59 L66.30,153.53 L66.80,153.56 L67.30,153.64 L67.80,153.33 L68.30,153.22 L68.80,153.30 L69.30,153.29 L69.80,153.24 L70.30,153.22 L70.80,153.51 L71.30,153.70 L71.80,153.46 L72.30,153.78 L72.80,153.77 L73.30,153.21 L73.80,153.58 L74.30,153.44 L74.80,153.24 L75.30,153.87 L75.80,153.34 L76.30,153.59 L76.80,153.65 L77.30,153.92 L77.80,153.69 L78.30,153.46 L78.80,153.51 L79.30,153.26 L79.80,154.00 L80.30,154.03 L80.80,153.31 L81.30,153.13 L81.80,153.35 L82.30,153.44 L82.80,154.01 L83.30,154.02 L83.80,153.96 L84.30,153.12 L84.80,153.93 L85.30,153.85 L85.80,153.79 L86.30,154.19 L86.80,153.10 L87.30,153.21 L87.80,153.94 L88.30,154.18 L88.80,153.86 L89.30,153.39 L89.80,153.77 L90.30,153.99 L90.80,153.13 L91.30,153.42 L91.80,153.33 L92.30,153.15 L92.80,153.64 L93.30,153.20 L93.80,153.30 L94.30,153.16 L94.80,153.94 L95.30,152.96 L95.80,154.01 L96.30,153.23 L96.80,153.00 L97.30,154.34 L97.80,153.28 L98.30,154.35 L98.80,154.25 L99.30,154.29 L99.80,153.17 L100.30,153.63 L100.80,153.11 L101.30,154.36 L101.80,154.23 L102.30,153.91 L102.80,153.65 L103.30,153.49 L103.80,154.21 L104.30,153.70 L104.80,153.93 L105.30,153.20 L105.80,153.32 L106.30,153.08 L106.80,154.06 L107.30,153.83 L107.80,153.21 L108.30,154.31 L108.80,153.40 L109.30,153.62 L109.80,153.24 L110.30,153.41 L110.80,154.27 L111.30,153.51 L111.80,153.27 L112.30,153.75 L112.80,153.49 L113.30,154.37 L113.80,153.19 L114.30,154.49 L114.80,153.11 L115.30,154.37 L115.80,154.03 L116.30,153.35 L116.80,153.75 L117.30,153.46 L117.80,153.42 L118.30,153.34 L118.80,153.58 L119.30,154.53 L119.80,154.54 L120.30,154.43 L120.80,153.19 L121.30,153.48 L121.80,154.39 L122.30,153.13 L122.80,154.14 L123.30,153.49 L123.80,154.52 L124.30,153.08 L124.80,154.27 L125.30,153.57 L125.80,153.27 L126.30,153.06 L126.80,154.31 L127.30,153.85 L127.80,153.34 L128.30,153.72 L128.80,154.43 L129.30,153.39 L129.80,153.92 L130.30,153.28 L130.80,153.34 L131.30,154.23 L131.80,154.14 L132.30,153.37 L132.80,153.19 L133.30,153.21 L133.80,153.99 L134.30,153.82 L134.80,153.49 L135.30,153.39 L135.80,154.00 L136.30,154.14 L136.80,154.30 L137.30,153.96 L137.80,153.39 L138.30,153.18 L138.80,154.18 L139.30,153.70 L139.80,154.17 L140.30,153.17 L140.80,154.30 L141.30,153.59 L141.80,154.35 L142.30,154.39 L142.80,153.83 L143.30,153.12 L143.80,154.46 L144.30,153.81 L144.80,154.40 L145.30,153.50 L145.80,153.38 L146.30,154.35 L146.80,153.65 L147.30,153.34 L147.80,153.66 L148.30,153.99 L148.80,153.11 L149.30,153.88 L149.80,153.77 L150.30,153.88 L150.80,153.28 L151.30,154.18 L151.80,154.33 L152.30,154.40 L152.80,153.59 L153.30,154.17 L153.80,153.68 L154.30,154.23 L154.80,153.20 L155.30,154.42 L155.80,154.54 L156.30,153.85 L156.80,153.88 L157.30,153.91 L157.80,153.92 L158.30,153.14 L158.80,154.56 L159.30,153.45 L159.80,153.39 L160.30,153.27 L160.80,153.49 L161.30,154.34 L161.80,153.16 L162.30,153.26 L162.80,154.17 L163.30,153.41 L163.80,153.14 L164.30,154.02 L164.80,153.98 L165.30,153.90 L165.80,154.17 L166.30,153.27 L166.30,153.27" stroke="#000" stroke-width="1.45" fill="none" stroke-linejoin="round"/>
<line x1="166.3" y1="123" x2="166.3" y2="176" stroke="#222" stroke-width="1.4"/>
<path d="M42.7,253 L46.5,229 L48.3,229 L48.3,253 Z" stroke="#000" stroke-width="0.5" fill="#000" />
<path d="M33,230.7 H40 V227.4 V253 H43" stroke="#000" stroke-width="1.6" fill="none" stroke-linejoin="miter"/>
<path d="M42.80,253.00 L47.70,239.00 L47.90,201.40 L48.10,196.96 L48.30,196.40 L48.90,196.69 L49.50,197.31 L50.10,198.03 L50.70,198.77 L51.30,199.49 L51.90,200.19 L52.50,200.87 L53.10,201.52 L53.70,202.15 L54.30,202.86 L54.90,203.40 L55.50,203.72 L56.10,204.27 L56.70,204.92 L57.20,205.33 L57.70,205.63 L58.20,205.92 L58.70,206.43 L59.20,206.64 L59.70,207.24 L60.20,207.73 L60.70,207.62 L61.20,208.20 L61.70,208.62 L62.20,208.52 L62.70,209.27 L63.20,209.63 L63.70,209.49 L64.20,209.77 L64.70,210.36 L65.20,210.34 L65.70,210.47 L66.20,211.18 L66.70,211.26 L67.20,211.06 L67.70,211.17 L68.20,211.46 L68.70,211.75 L69.20,212.51 L69.70,212.52 L70.20,212.83 L70.70,212.90 L71.20,213.11 L71.70,212.36 L72.20,213.06 L72.70,213.75 L73.20,213.89 L73.70,213.18 L74.20,213.54 L74.70,213.95 L75.20,213.73 L75.70,214.09 L76.20,213.57 L76.70,214.21 L77.20,214.43 L77.70,213.84 L78.20,214.12 L78.70,215.49 L79.20,215.31 L79.70,215.68 L80.20,215.31 L80.70,215.71 L81.20,215.94 L81.70,216.05 L82.20,214.72 L82.70,215.84 L83.20,215.28 L83.70,216.10 L84.20,215.47 L84.70,216.04 L85.20,216.83 L85.70,216.36 L86.20,215.74 L86.70,216.33 L87.20,216.25 L87.70,217.34 L88.20,216.11 L88.70,216.22 L89.20,216.97 L89.70,215.99 L90.20,217.01 L90.70,217.80 L91.20,216.99 L91.70,216.57 L92.20,217.03 L92.70,217.23 L93.20,216.52 L93.70,216.54 L94.20,216.61 L94.70,217.00 L95.20,217.29 L95.70,217.11 L96.20,217.08 L96.70,216.83 L97.20,217.80 L97.70,218.44 L98.20,218.04 L98.70,218.01 L99.20,218.23 L99.70,217.38 L100.20,218.45 L100.70,218.01 L101.20,218.23 L101.70,218.41 L102.20,218.17 L102.70,217.91 L103.20,217.82 L103.70,217.83 L104.20,218.46 L104.70,218.24 L105.20,218.70 L105.70,217.59 L106.20,218.32 L106.70,219.38 L107.20,218.18 L107.70,218.86 L108.20,218.77 L108.70,218.40 L109.20,219.85 L109.70,218.51 L110.20,219.51 L110.70,218.32 L111.20,218.18 L111.70,219.83 L112.20,219.00 L112.70,218.29 L113.20,218.98 L113.70,219.12 L114.20,219.75 L114.70,218.54 L115.20,218.81 L115.70,220.31 L116.20,219.91 L116.70,218.77 L117.20,219.18 L117.70,219.24 L118.20,219.92 L118.70,219.84 L119.20,220.34 L119.70,220.32 L120.20,219.75 L120.70,220.22 L121.20,220.27 L121.70,220.33 L122.20,219.80 L122.70,220.45 L123.20,220.33 L123.70,220.77 L124.20,219.23 L124.70,220.75 L125.20,219.05 L125.70,220.60 L126.20,220.27 L126.70,220.13 L127.20,221.09 L127.70,220.34 L128.20,220.06 L128.70,220.82 L129.20,221.03 L129.70,220.53 L130.20,220.10 L130.70,220.27 L131.20,220.31 L131.70,220.87 L132.20,220.04 L132.70,220.26 L133.20,220.62 L133.70,220.31 L134.20,220.21 L134.70,221.17 L135.20,221.32 L135.70,220.64 L136.20,220.56 L136.70,220.07 L137.20,220.33 L137.70,220.04 L138.20,220.93 L138.70,220.96 L139.20,220.00 L139.70,221.69 L140.20,220.52 L140.70,221.59 L141.20,221.60 L141.70,221.87 L142.20,220.38 L142.70,220.85 L143.20,221.84 L143.70,220.07 L144.20,220.16 L144.70,221.22 L145.20,221.11 L145.70,221.98 L146.20,221.71 L146.70,221.26 L147.20,222.20 L147.70,221.26 L148.20,221.28 L148.70,221.64 L149.20,221.07 L149.70,221.03 L150.20,221.52 L150.70,221.06 L151.20,222.27 L151.70,221.75 L152.20,221.47 L152.70,220.64 L153.20,221.21 L153.70,221.28 L154.20,221.62 L154.70,221.67 L155.20,222.30 L155.70,222.49 L156.20,221.55 L156.70,221.48 L157.20,221.87 L157.70,222.63 L158.20,221.34 L158.70,221.74 L159.20,222.33 L159.70,221.05 L160.20,221.37 L160.70,222.71 L161.20,222.42 L161.70,221.81 L162.20,221.02 L162.70,222.61 L163.20,222.22 L163.70,222.50 L164.20,222.85 L164.70,222.67 L165.20,221.75 L165.70,221.24 L165.90,221.24" stroke="#000" stroke-width="1.45" fill="none" stroke-linejoin="round"/>
<path d="M43.42,253.00 L47.70,239.00 L47.90,208.00 L48.10,205.22 L48.40,203.87 L48.70,203.14 L48.90,203.00 L49.50,203.16 L50.10,203.55 L50.70,204.04 L51.30,204.55 L51.90,205.07 L52.50,205.59 L53.10,206.09 L53.70,206.58 L54.30,207.05 L54.90,207.44 L55.50,207.95 L56.10,208.37 L56.70,208.65 L57.30,209.04 L57.80,209.54 L58.30,209.84 L58.80,210.02 L59.30,210.64 L59.80,210.73 L60.30,210.67 L60.80,211.14 L61.30,211.63 L61.80,211.57 L62.30,212.07 L62.80,211.83 L63.30,212.26 L63.80,212.87 L64.30,212.89 L64.80,213.17 L65.30,212.99 L65.80,213.43 L66.30,213.67 L66.80,213.59 L67.30,214.12 L67.80,214.18 L68.30,214.81 L68.80,214.56 L69.30,214.56 L69.80,214.41 L70.30,214.59 L70.80,215.38 L71.30,214.80 L71.80,214.92 L72.30,215.13 L72.80,215.67 L73.30,216.17 L73.80,216.04 L74.30,216.41 L74.80,215.58 L75.30,215.61 L75.80,216.74 L76.30,216.24 L76.80,216.89 L77.30,216.49 L77.80,216.32 L78.30,216.55 L78.80,216.40 L79.30,217.70 L79.80,217.31 L80.30,217.04 L80.80,217.28 L81.30,217.27 L81.80,216.80 L82.30,218.27 L82.80,217.84 L83.30,218.57 L83.80,217.75 L84.30,218.15 L84.80,217.56 L85.30,217.25 L85.80,218.95 L86.30,218.89 L86.80,217.95 L87.30,219.13 L87.80,219.05 L88.30,218.11 L88.80,218.76 L89.30,219.54 L89.80,218.68 L90.30,219.64 L90.80,218.29 L91.30,218.64 L91.80,219.36 L92.30,218.42 L92.80,218.65 L93.30,219.84 L93.80,219.11 L94.30,219.78 L94.80,218.73 L95.30,218.64 L95.80,219.06 L96.30,218.77 L96.80,220.39 L97.30,219.08 L97.80,219.67 L98.30,218.82 L98.80,219.70 L99.30,219.45 L99.80,219.53 L100.30,218.90 L100.80,219.06 L101.30,220.51 L101.80,219.60 L102.30,219.43 L102.80,219.36 L103.30,219.59 L103.80,219.54 L104.30,219.17 L104.80,220.47 L105.30,219.86 L105.80,219.53 L106.30,220.67 L106.80,219.48 L107.30,219.87 L107.80,221.03 L108.30,219.66 L108.80,220.32 L109.30,221.14 L109.80,221.12 L110.30,219.86 L110.80,220.28 L111.30,221.05 L111.80,220.39 L112.30,221.59 L112.80,220.12 L113.30,221.64 L113.80,220.78 L114.30,220.25 L114.80,220.74 L115.30,220.12 L115.80,221.31 L116.30,220.44 L116.80,221.75 L117.30,221.16 L117.80,220.75 L118.30,220.53 L118.80,221.29 L119.30,220.52 L119.80,221.87 L120.30,220.40 L120.80,221.21 L121.30,221.29 L121.80,220.78 L122.30,221.81 L122.80,221.06 L123.30,221.63 L123.80,221.48 L124.30,220.99 L124.80,221.17 L125.30,220.59 L125.80,220.80 L126.30,222.17 L126.80,221.14 L127.30,221.84 L127.80,220.76 L128.30,221.69 L128.80,221.31 L129.30,221.61 L129.80,221.23 L130.30,220.79 L130.80,221.31 L131.30,221.16 L131.80,220.98 L132.30,222.19 L132.80,221.34 L133.30,221.60 L133.80,222.64 L134.30,222.39 L134.80,222.63 L135.30,222.61 L135.80,221.17 L136.30,221.48 L136.80,221.01 L137.30,222.33 L137.80,222.31 L138.30,221.71 L138.80,221.85 L139.30,222.37 L139.80,222.47 L140.30,221.59 L140.80,222.80 L141.30,221.83 L141.80,222.40 L142.30,221.53 L142.80,221.42 L143.30,223.03 L143.80,222.69 L144.30,222.67 L144.80,221.34 L145.30,221.36 L145.80,221.62 L146.30,221.71 L146.80,221.94 L147.30,222.11 L147.80,221.45 L148.30,222.01 L148.80,222.68 L149.30,221.78 L149.80,223.12 L150.30,222.59 L150.80,222.90 L151.30,222.00 L151.80,222.37 L152.30,222.89 L152.80,222.24 L153.30,221.56 L153.80,223.24 L154.30,223.14 L154.80,222.17 L155.30,221.70 L155.80,223.34 L156.30,222.86 L156.80,221.76 L157.30,222.17 L157.80,221.92 L158.30,223.29 L158.80,222.14 L159.30,223.57 L159.80,223.25 L160.30,221.94 L160.80,223.17 L161.30,222.58 L161.80,223.31 L162.30,223.48 L162.80,222.40 L163.30,222.03 L163.80,223.76 L164.30,222.73 L164.80,223.76 L165.30,223.29 L165.80,223.40 L165.90,223.40" stroke="#000" stroke-width="1.45" fill="none" stroke-linejoin="round"/>
<path d="M44.05,253.00 L47.70,239.00 L47.90,217.54 L48.10,215.63 L48.40,214.51 L48.70,213.66 L49.00,213.07 L49.30,212.76 L49.50,212.70 L50.10,212.77 L50.70,212.95 L51.30,213.19 L51.90,213.46 L52.50,213.74 L53.10,214.01 L53.70,214.29 L54.30,214.56 L54.90,214.82 L55.50,215.17 L56.10,215.36 L56.70,215.54 L57.30,215.61 L57.90,216.09 L58.40,216.16 L58.90,216.37 L59.40,216.75 L59.90,216.51 L60.40,217.01 L60.90,216.76 L61.40,217.29 L61.90,217.51 L62.40,217.31 L62.90,217.63 L63.40,218.06 L63.90,217.97 L64.40,218.03 L64.90,217.93 L65.40,217.90 L65.90,218.25 L66.40,218.40 L66.90,218.33 L67.40,218.53 L67.90,218.47 L68.40,219.10 L68.90,219.18 L69.40,218.85 L69.90,218.94 L70.40,219.31 L70.90,219.33 L71.40,219.95 L71.90,219.39 L72.40,219.41 L72.90,220.18 L73.40,219.38 L73.90,219.96 L74.40,219.75 L74.90,220.43 L75.40,220.17 L75.90,220.52 L76.40,219.80 L76.90,220.54 L77.40,220.52 L77.90,220.39 L78.40,220.89 L78.90,221.05 L79.40,220.05 L79.90,220.36 L80.40,220.53 L80.90,220.34 L81.40,220.15 L81.90,220.55 L82.40,220.46 L82.90,221.35 L83.40,220.97 L83.90,220.44 L84.40,220.85 L84.90,221.15 L85.40,221.00 L85.90,220.69 L86.40,220.55 L86.90,220.47 L87.40,222.36 L87.90,221.95 L88.40,220.70 L88.90,221.98 L89.40,222.55 L89.90,221.75 L90.40,220.88 L90.90,221.68 L91.40,221.61 L91.90,221.15 L92.40,221.90 L92.90,220.86 L93.40,222.72 L93.90,222.20 L94.40,222.20 L94.90,222.85 L95.40,222.32 L95.90,221.54 L96.40,221.56 L96.90,221.38 L97.40,221.19 L97.90,222.71 L98.40,222.87 L98.90,221.81 L99.40,221.62 L99.90,222.55 L100.40,222.99 L100.90,223.18 L101.40,221.69 L101.90,222.95 L102.40,223.07 L102.90,222.92 L103.40,222.11 L103.90,221.85 L104.40,223.16 L104.90,222.17 L105.40,222.29 L105.90,222.68 L106.40,222.34 L106.90,223.29 L107.40,222.13 L107.90,221.75 L108.40,222.83 L108.90,222.97 L109.40,223.38 L109.90,223.17 L110.40,223.59 L110.90,223.69 L111.40,222.81 L111.90,222.84 L112.40,222.17 L112.90,222.48 L113.40,223.06 L113.90,222.08 L114.40,223.31 L114.90,222.28 L115.40,222.86 L115.90,223.93 L116.40,222.19 L116.90,222.11 L117.40,222.93 L117.90,222.45 L118.40,223.53 L118.90,222.11 L119.40,223.80 L119.90,223.85 L120.40,223.73 L120.90,223.02 L121.40,222.75 L121.90,223.52 L122.40,223.25 L122.90,223.08 L123.40,222.93 L123.90,223.14 L124.40,223.61 L124.90,223.95 L125.40,224.12 L125.90,222.65 L126.40,222.93 L126.90,223.24 L127.40,223.50 L127.90,223.08 L128.40,222.79 L128.90,222.58 L129.40,223.07 L129.90,223.36 L130.40,224.40 L130.90,224.29 L131.40,224.21 L131.90,224.45 L132.40,224.43 L132.90,223.76 L133.40,224.16 L133.90,222.67 L134.40,223.92 L134.90,223.79 L135.40,223.18 L135.90,223.74 L136.40,224.52 L136.90,223.59 L137.40,223.93 L137.90,223.25 L138.40,223.35 L138.90,224.44 L139.40,222.74 L139.90,223.08 L140.40,224.07 L140.90,223.62 L141.40,222.90 L141.90,224.07 L142.40,223.50 L142.90,223.93 L143.40,223.61 L143.90,223.85 L144.40,223.93 L144.90,223.60 L145.40,223.05 L145.90,223.19 L146.40,224.62 L146.90,223.95 L147.40,223.09 L147.90,224.60 L148.40,223.39 L148.90,223.09 L149.40,223.97 L149.90,223.42 L150.40,223.90 L150.90,224.04 L151.40,223.40 L151.90,224.10 L152.40,223.19 L152.90,224.00 L153.40,224.16 L153.90,223.15 L154.40,223.82 L154.90,223.16 L155.40,223.90 L155.90,224.76 L156.40,224.14 L156.90,224.48 L157.40,224.57 L157.90,223.30 L158.40,225.06 L158.90,224.53 L159.40,223.30 L159.90,224.76 L160.40,223.89 L160.90,223.46 L161.40,225.05 L161.90,224.26 L162.40,224.69 L162.90,223.43 L163.40,224.71 L163.90,223.28 L164.40,223.65 L164.90,223.93 L165.40,223.22 L165.90,223.22" stroke="#000" stroke-width="1.45" fill="none" stroke-linejoin="round"/>
<path d="M44.67,253.00 L47.70,239.00 L47.90,222.20 L48.10,220.92 L48.40,220.11 L48.70,219.43 L49.00,218.88 L49.30,218.47 L49.60,218.18 L49.90,218.03 L50.10,218.00 L50.70,218.03 L51.30,218.13 L51.90,218.25 L52.50,218.40 L53.10,218.56 L53.70,218.72 L54.30,218.88 L54.90,219.03 L55.50,219.19 L56.10,219.37 L56.70,219.39 L57.30,219.56 L57.90,219.85 L58.50,219.87 L59.00,220.19 L59.50,220.18 L60.00,220.41 L60.50,220.36 L61.00,220.65 L61.50,220.73 L62.00,220.42 L62.50,220.86 L63.00,220.69 L63.50,221.06 L64.00,221.09 L64.50,221.28 L65.00,220.85 L65.50,221.11 L66.00,221.47 L66.50,221.73 L67.00,221.62 L67.50,221.10 L68.00,221.66 L68.50,221.27 L69.00,221.75 L69.50,222.06 L70.00,221.44 L70.50,222.32 L71.00,222.13 L71.50,221.74 L72.00,221.73 L72.50,222.06 L73.00,222.56 L73.50,222.32 L74.00,221.81 L74.50,221.74 L75.00,221.89 L75.50,222.80 L76.00,222.06 L76.50,222.58 L77.00,222.27 L77.50,222.86 L78.00,222.48 L78.50,222.18 L79.00,223.27 L79.50,222.82 L80.00,223.09 L80.50,223.31 L81.00,223.57 L81.50,222.15 L82.00,222.70 L82.50,222.42 L83.00,223.02 L83.50,223.68 L84.00,223.59 L84.50,222.32 L85.00,222.59 L85.50,223.74 L86.00,223.53 L86.50,223.04 L87.00,223.22 L87.50,222.66 L88.00,223.98 L88.50,223.15 L89.00,224.11 L89.50,223.62 L90.00,222.59 L90.50,223.12 L91.00,222.92 L91.50,224.29 L92.00,223.71 L92.50,222.64 L93.00,222.92 L93.50,223.32 L94.00,223.56 L94.50,223.80 L95.00,223.44 L95.50,223.40 L96.00,222.72 L96.50,223.89 L97.00,223.42 L97.50,222.81 L98.00,223.71 L98.50,224.78 L99.00,222.92 L99.50,223.14 L100.00,224.21 L100.50,223.43 L101.00,223.45 L101.50,223.92 L102.00,223.46 L102.50,224.09 L103.00,224.03 L103.50,224.90 L104.00,224.99 L104.50,223.09 L105.00,224.16 L105.50,224.59 L106.00,224.81 L106.50,224.63 L107.00,224.36 L107.50,224.38 L108.00,223.85 L108.50,223.70 L109.00,224.75 L109.50,224.92 L110.00,225.06 L110.50,224.56 L111.00,223.82 L111.50,224.75 L112.00,224.72 L112.50,224.27 L113.00,224.53 L113.50,223.98 L114.00,224.39 L114.50,224.11 L115.00,223.43 L115.50,224.00 L116.00,223.98 L116.50,225.33 L117.00,224.32 L117.50,224.11 L118.00,223.87 L118.50,223.87 L119.00,224.11 L119.50,223.69 L120.00,223.44 L120.50,225.18 L121.00,224.36 L121.50,224.35 L122.00,224.61 L122.50,224.09 L123.00,223.83 L123.50,223.64 L124.00,224.12 L124.50,224.14 L125.00,224.99 L125.50,224.65 L126.00,225.43 L126.50,224.24 L127.00,225.42 L127.50,224.75 L128.00,223.75 L128.50,223.96 L129.00,224.77 L129.50,225.59 L130.00,224.34 L130.50,225.19 L131.00,224.50 L131.50,225.39 L132.00,223.80 L132.50,224.64 L133.00,225.48 L133.50,224.24 L134.00,224.21 L134.50,223.75 L135.00,224.04 L135.50,224.26 L136.00,225.14 L136.50,224.18 L137.00,224.55 L137.50,224.15 L138.00,224.97 L138.50,225.50 L139.00,225.07 L139.50,224.18 L140.00,225.26 L140.50,225.73 L141.00,225.01 L141.50,223.97 L142.00,225.44 L142.50,225.58 L143.00,224.52 L143.50,224.12 L144.00,224.23 L144.50,224.93 L145.00,225.62 L145.50,225.15 L146.00,225.72 L146.50,224.31 L147.00,224.55 L147.50,225.40 L148.00,225.20 L148.50,224.72 L149.00,225.28 L149.50,224.60 L150.00,224.05 L150.50,224.77 L151.00,224.03 L151.50,225.20 L152.00,224.63 L152.50,224.95 L153.00,225.16 L153.50,224.49 L154.00,224.91 L154.50,224.01 L155.00,225.84 L155.50,225.13 L156.00,225.98 L156.50,224.12 L157.00,225.24 L157.50,225.47 L158.00,224.68 L158.50,224.22 L159.00,224.35 L159.50,224.33 L160.00,225.58 L160.50,224.23 L161.00,225.69 L161.50,224.91 L162.00,225.15 L162.50,225.25 L163.00,225.19 L163.50,225.40 L164.00,225.29 L164.50,224.76 L165.00,225.58 L165.50,224.62 L165.90,224.62" stroke="#000" stroke-width="1.45" fill="none" stroke-linejoin="round"/>
<path d="M45.30,253.00 L47.70,239.00 L47.90,224.84 L48.10,223.88 L48.40,223.26 L48.70,222.71 L49.00,222.23 L49.30,221.84 L49.60,221.52 L49.90,221.27 L50.20,221.11 L50.50,221.02 L50.70,221.00 L51.30,221.02 L51.90,221.07 L52.50,221.15 L53.10,221.24 L53.70,221.33 L54.30,221.43 L54.90,221.53 L55.50,221.63 L56.10,221.73 L56.70,221.90 L57.30,222.02 L57.90,222.12 L58.50,222.04 L59.10,222.32 L59.60,222.49 L60.10,222.33 L60.60,222.31 L61.10,222.50 L61.60,222.79 L62.10,222.41 L62.60,222.39 L63.10,222.73 L63.60,222.90 L64.10,223.05 L64.60,222.82 L65.10,223.33 L65.60,222.83 L66.10,223.28 L66.60,222.81 L67.10,222.80 L67.60,222.93 L68.10,222.90 L68.60,223.33 L69.10,223.43 L69.60,223.12 L70.10,223.89 L70.60,223.38 L71.10,223.19 L71.60,223.26 L72.10,223.89 L72.60,224.13 L73.10,223.33 L73.60,223.21 L74.10,224.11 L74.60,223.51 L75.10,224.44 L75.60,223.89 L76.10,224.10 L76.60,223.75 L77.10,224.38 L77.60,223.96 L78.10,223.81 L78.60,224.64 L79.10,223.55 L79.60,224.47 L80.10,223.53 L80.60,224.41 L81.10,224.07 L81.60,224.81 L82.10,223.58 L82.60,224.40 L83.10,224.18 L83.60,225.04 L84.10,225.11 L84.60,224.61 L85.10,223.94 L85.60,224.01 L86.10,224.04 L86.60,224.36 L87.10,224.01 L87.60,223.98 L88.10,225.03 L88.60,224.84 L89.10,224.20 L89.60,225.57 L90.10,224.06 L90.60,224.78 L91.10,223.97 L91.60,225.40 L92.10,225.43 L92.60,224.25 L93.10,225.23 L93.60,225.39 L94.10,224.33 L94.60,224.44 L95.10,224.77 L95.60,225.59 L96.10,224.15 L96.60,225.21 L97.10,225.05 L97.60,224.78 L98.10,225.04 L98.60,225.66 L99.10,224.33 L99.60,225.69 L100.10,224.66 L100.60,225.51 L101.10,225.69 L101.60,224.34 L102.10,225.72 L102.60,225.99 L103.10,224.61 L103.60,224.08 L104.10,224.26 L104.60,226.00 L105.10,224.08 L105.60,225.90 L106.10,224.39 L106.60,225.57 L107.10,224.30 L107.60,224.46 L108.10,225.49 L108.60,224.32 L109.10,224.83 L109.60,226.00 L110.10,225.60 L110.60,225.94 L111.10,226.15 L111.60,224.26 L112.10,224.68 L112.60,225.80 L113.10,225.61 L113.60,224.31 L114.10,225.26 L114.60,224.72 L115.10,225.12 L115.60,224.48 L116.10,224.32 L116.60,226.27 L117.10,224.93 L117.60,226.06 L118.10,224.56 L118.60,225.30 L119.10,224.60 L119.60,225.20 L120.10,224.70 L120.60,225.73 L121.10,224.66 L121.60,225.85 L122.10,225.38 L122.60,224.61 L123.10,225.10 L123.60,225.39 L124.10,226.24 L124.60,225.11 L125.10,224.85 L125.60,226.36 L126.10,226.20 L126.60,225.90 L127.10,224.99 L127.60,224.81 L128.10,224.99 L128.60,224.61 L129.10,224.56 L129.60,225.50 L130.10,225.30 L130.60,225.61 L131.10,225.23 L131.60,224.53 L132.10,225.89 L132.60,225.83 L133.10,225.61 L133.60,225.63 L134.10,225.92 L134.60,226.51 L135.10,226.30 L135.60,225.99 L136.10,225.36 L136.60,225.20 L137.10,225.41 L137.60,226.52 L138.10,225.36 L138.60,225.36 L139.10,225.41 L139.60,224.88 L140.10,226.60 L140.60,224.62 L141.10,225.83 L141.60,226.47 L142.10,225.13 L142.60,225.85 L143.10,225.39 L143.60,225.12 L144.10,225.04 L144.60,224.88 L145.10,226.34 L145.60,226.23 L146.10,226.48 L146.60,224.77 L147.10,226.06 L147.60,225.33 L148.10,225.97 L148.60,225.78 L149.10,225.32 L149.60,226.64 L150.10,224.70 L150.60,226.20 L151.10,226.42 L151.60,225.73 L152.10,225.90 L152.60,226.71 L153.10,225.20 L153.60,225.99 L154.10,226.22 L154.60,225.50 L155.10,226.17 L155.60,225.53 L156.10,225.80 L156.60,225.98 L157.10,226.11 L157.60,225.41 L158.10,226.02 L158.60,225.86 L159.10,225.22 L159.60,226.00 L160.10,225.31 L160.60,226.60 L161.10,225.74 L161.60,226.24 L162.10,225.84 L162.60,225.75 L163.10,225.25 L163.60,225.09 L164.10,226.67 L164.60,225.87 L165.10,225.87 L165.60,225.88 L165.90,225.88" stroke="#000" stroke-width="1.45" fill="none" stroke-linejoin="round"/>
<path d="M45.92,253.00 L47.70,239.00 L47.90,229.77 L48.10,229.10 L48.40,228.66 L48.70,228.25 L49.00,227.89 L49.30,227.58 L49.60,227.31 L49.90,227.08 L50.20,226.90 L50.50,226.76 L50.80,226.66 L51.10,226.61 L51.30,226.60 L51.90,226.60 L52.50,226.60 L53.10,226.60 L53.70,226.61 L54.30,226.61 L54.90,226.61 L55.50,226.62 L56.10,226.62 L56.70,226.63 L57.30,226.72 L57.90,226.55 L58.50,226.52 L59.10,226.76 L59.70,226.63 L60.20,226.71 L60.70,226.80 L61.20,226.85 L61.70,226.84 L62.20,226.41 L62.70,226.59 L63.20,226.86 L63.70,226.86 L64.20,226.42 L64.70,226.43 L65.20,226.50 L65.70,226.39 L66.20,226.57 L66.70,226.91 L67.20,226.69 L67.70,226.64 L68.20,226.33 L68.70,226.59 L69.20,227.13 L69.70,226.87 L70.20,226.64 L70.70,226.67 L71.20,226.99 L71.70,226.96 L72.20,226.33 L72.70,226.89 L73.20,226.55 L73.70,226.72 L74.20,226.40 L74.70,226.55 L75.20,226.51 L75.70,226.56 L76.20,226.11 L76.70,226.33 L77.20,226.80 L77.70,226.13 L78.20,226.28 L78.70,227.01 L79.20,226.40 L79.70,226.46 L80.20,226.34 L80.70,227.21 L81.20,226.11 L81.70,226.93 L82.20,227.27 L82.70,226.25 L83.20,226.60 L83.70,227.20 L84.20,226.92 L84.70,226.51 L85.20,225.95 L85.70,226.63 L86.20,226.50 L86.70,227.10 L87.20,226.36 L87.70,226.56 L88.20,227.00 L88.70,227.31 L89.20,226.45 L89.70,226.51 L90.20,226.89 L90.70,227.57 L91.20,226.12 L91.70,227.68 L92.20,227.16 L92.70,226.48 L93.20,227.07 L93.70,226.40 L94.20,225.88 L94.70,227.25 L95.20,226.50 L95.70,226.79 L96.20,226.74 L96.70,227.55 L97.20,227.26 L97.70,225.80 L98.20,226.93 L98.70,226.67 L99.20,226.67 L99.70,227.43 L100.20,226.58 L100.70,226.69 L101.20,227.53 L101.70,226.63 L102.20,226.73 L102.70,226.77 L103.20,227.40 L103.70,227.09 L104.20,227.23 L104.70,226.55 L105.20,225.83 L105.70,227.11 L106.20,226.86 L106.70,227.29 L107.20,227.29 L107.70,225.99 L108.20,226.20 L108.70,225.91 L109.20,227.39 L109.70,225.96 L110.20,225.93 L110.70,227.26 L111.20,226.89 L111.70,225.87 L112.20,227.12 L112.70,227.18 L113.20,226.72 L113.70,225.87 L114.20,227.14 L114.70,226.60 L115.20,226.93 L115.70,227.76 L116.20,227.39 L116.70,227.50 L117.20,226.05 L117.70,226.43 L118.20,226.80 L118.70,225.77 L119.20,227.74 L119.70,226.31 L120.20,226.29 L120.70,226.39 L121.20,226.27 L121.70,227.48 L122.20,226.88 L122.70,226.79 L123.20,226.61 L123.70,225.87 L124.20,226.37 L124.70,227.50 L125.20,227.37 L125.70,227.48 L126.20,226.28 L126.70,226.17 L127.20,225.87 L127.70,226.84 L128.20,226.52 L128.70,226.70 L129.20,226.75 L129.70,226.94 L130.20,226.50 L130.70,227.37 L131.20,226.17 L131.70,227.61 L132.20,226.88 L132.70,225.87 L133.20,226.40 L133.70,226.84 L134.20,226.59 L134.70,226.90 L135.20,226.42 L135.70,226.32 L136.20,227.36 L136.70,226.35 L137.20,227.19 L137.70,227.38 L138.20,226.96 L138.70,226.68 L139.20,227.64 L139.70,226.66 L140.20,227.53 L140.70,225.89 L141.20,226.64 L141.70,227.05 L142.20,225.87 L142.70,227.50 L143.20,225.92 L143.70,226.97 L144.20,226.14 L144.70,227.62 L145.20,226.90 L145.70,227.38 L146.20,226.77 L146.70,227.12 L147.20,227.13 L147.70,226.37 L148.20,226.20 L148.70,227.45 L149.20,226.07 L149.70,227.61 L150.20,226.19 L150.70,225.98 L151.20,225.97 L151.70,227.35 L152.20,227.68 L152.70,226.61 L153.20,227.10 L153.70,226.29 L154.20,227.59 L154.70,227.15 L155.20,226.09 L155.70,225.89 L156.20,227.17 L156.70,225.86 L157.20,227.45 L157.70,226.37 L158.20,226.24 L158.70,226.94 L159.20,226.42 L159.70,226.90 L160.20,226.09 L160.70,227.60 L161.20,226.43 L161.70,227.46 L162.20,226.08 L162.70,227.38 L163.20,227.74 L163.70,226.56 L164.20,225.85 L164.70,226.54 L165.20,227.06 L165.70,226.23 L165.90,226.23" stroke="#000" stroke-width="1.45" fill="none" stroke-linejoin="round"/>
<path d="M46.55,253.00 L47.70,239.00 L47.90,231.35 L48.10,230.82 L48.40,230.45 L48.70,230.11 L49.00,229.81 L49.30,229.53 L49.60,229.29 L49.90,229.07 L50.20,228.88 L50.50,228.73 L50.80,228.60 L51.10,228.51 L51.40,228.44 L51.70,228.41 L51.90,228.40 L52.50,228.40 L53.10,228.39 L53.70,228.38 L54.30,228.36 L54.90,228.35 L55.50,228.33 L56.10,228.31 L56.70,228.29 L57.30,228.27 L57.90,228.27 L58.50,228.10 L59.10,228.20 L59.70,228.29 L60.30,228.15 L60.80,228.25 L61.30,227.97 L61.80,228.30 L62.30,227.93 L62.80,228.34 L63.30,228.38 L63.80,228.35 L64.30,228.09 L64.80,227.93 L65.30,227.95 L65.80,228.21 L66.30,228.02 L66.80,228.34 L67.30,227.69 L67.80,227.98 L68.30,228.28 L68.80,228.06 L69.30,228.00 L69.80,227.58 L70.30,227.61 L70.80,227.72 L71.30,228.31 L71.80,228.26 L72.30,227.63 L72.80,228.34 L73.30,227.39 L73.80,227.99 L74.30,228.40 L74.80,227.69 L75.30,228.38 L75.80,228.04 L76.30,227.29 L76.80,227.63 L77.30,227.76 L77.80,227.49 L78.30,228.13 L78.80,227.37 L79.30,228.19 L79.80,227.51 L80.30,227.17 L80.80,227.86 L81.30,227.18 L81.80,227.84 L82.30,228.20 L82.80,227.90 L83.30,227.69 L83.80,227.00 L84.30,227.76 L84.80,227.07 L85.30,227.97 L85.80,227.10 L86.30,227.85 L86.80,227.45 L87.30,227.48 L87.80,227.99 L88.30,227.09 L88.80,227.08 L89.30,228.51 L89.80,227.36 L90.30,228.34 L90.80,228.40 L91.30,227.63 L91.80,226.97 L92.30,226.85 L92.80,228.42 L93.30,226.89 L93.80,227.64 L94.30,227.72 L94.80,226.88 L95.30,227.57 L95.80,226.96 L96.30,227.70 L96.80,227.64 L97.30,227.36 L97.80,227.02 L98.30,227.42 L98.80,227.02 L99.30,226.86 L99.80,227.09 L100.30,228.35 L100.80,227.60 L101.30,228.38 L101.80,226.63 L102.30,228.48 L102.80,227.57 L103.30,228.17 L103.80,227.72 L104.30,227.96 L104.80,227.04 L105.30,228.08 L105.80,226.88 L106.30,227.10 L106.80,226.63 L107.30,227.35 L107.80,227.60 L108.30,227.14 L108.80,228.34 L109.30,226.72 L109.80,227.71 L110.30,227.02 L110.80,227.74 L111.30,228.11 L111.80,227.96 L112.30,226.67 L112.80,227.03 L113.30,227.73 L113.80,228.50 L114.30,226.61 L114.80,227.77 L115.30,227.91 L115.80,228.16 L116.30,227.21 L116.80,228.14 L117.30,227.44 L117.80,228.36 L118.30,226.54 L118.80,228.39 L119.30,227.34 L119.80,227.32 L120.30,226.68 L120.80,227.00 L121.30,227.97 L121.80,227.86 L122.30,226.80 L122.80,227.19 L123.30,226.78 L123.80,226.89 L124.30,226.93 L124.80,227.16 L125.30,228.44 L125.80,228.48 L126.30,228.07 L126.80,227.45 L127.30,227.48 L127.80,228.04 L128.30,228.30 L128.80,227.98 L129.30,227.75 L129.80,226.88 L130.30,227.73 L130.80,228.17 L131.30,228.05 L131.80,226.66 L132.30,227.91 L132.80,227.17 L133.30,226.79 L133.80,228.40 L134.30,227.81 L134.80,227.96 L135.30,226.73 L135.80,228.12 L136.30,228.33 L136.80,228.27 L137.30,227.95 L137.80,228.12 L138.30,228.06 L138.80,227.63 L139.30,227.32 L139.80,228.10 L140.30,228.02 L140.80,228.19 L141.30,227.05 L141.80,228.37 L142.30,227.51 L142.80,228.34 L143.30,226.68 L143.80,228.38 L144.30,228.02 L144.80,226.94 L145.30,228.12 L145.80,226.90 L146.30,226.83 L146.80,227.35 L147.30,226.91 L147.80,227.42 L148.30,228.25 L148.80,227.80 L149.30,227.85 L149.80,227.21 L150.30,228.00 L150.80,228.02 L151.30,227.79 L151.80,228.31 L152.30,228.08 L152.80,227.24 L153.30,226.60 L153.80,227.73 L154.30,228.09 L154.80,227.10 L155.30,227.61 L155.80,228.09 L156.30,228.00 L156.80,226.43 L157.30,227.39 L157.80,226.45 L158.30,226.64 L158.80,228.04 L159.30,227.25 L159.80,227.62 L160.30,227.33 L160.80,227.08 L161.30,226.84 L161.80,227.12 L162.30,228.10 L162.80,227.65 L163.30,226.99 L163.80,226.58 L164.30,226.95 L164.80,227.81 L165.30,227.29 L165.80,227.72 L165.90,227.72" stroke="#000" stroke-width="1.45" fill="none" stroke-linejoin="round"/>
<path d="M47.17,253.00 L47.70,239.00 L47.90,235.84 L48.10,235.47 L48.40,235.21 L48.70,234.97 L49.00,234.74 L49.30,234.54 L49.60,234.35 L49.90,234.19 L50.20,234.04 L50.50,233.91 L50.80,233.79 L51.10,233.70 L51.40,233.62 L51.70,233.56 L52.00,233.53 L52.30,233.50 L52.50,233.50 L53.10,233.47 L53.70,233.40 L54.30,233.29 L54.90,233.15 L55.50,232.99 L56.10,232.83 L56.70,232.67 L57.30,232.50 L57.90,232.34 L58.50,232.28 L59.10,231.92 L59.70,231.97 L60.30,231.59 L60.90,231.77 L61.40,231.40 L61.90,231.33 L62.40,231.57 L62.90,231.19 L63.40,231.03 L63.90,231.32 L64.40,231.08 L64.90,231.19 L65.40,230.81 L65.90,230.81 L66.40,231.06 L66.90,230.69 L67.40,230.99 L67.90,230.33 L68.40,230.78 L68.90,230.19 L69.40,230.44 L69.90,229.94 L70.40,230.04 L70.90,230.70 L71.40,230.20 L71.90,230.51 L72.40,229.92 L72.90,229.98 L73.40,229.68 L73.90,230.12 L74.40,230.43 L74.90,230.02 L75.40,229.83 L75.90,230.45 L76.40,230.39 L76.90,230.09 L77.40,229.34 L77.90,230.00 L78.40,229.74 L78.90,230.40 L79.40,229.58 L79.90,229.97 L80.40,229.91 L80.90,229.53 L81.40,229.72 L81.90,229.92 L82.40,230.25 L82.90,229.62 L83.40,229.40 L83.90,230.34 L84.40,228.87 L84.90,230.10 L85.40,229.84 L85.90,229.62 L86.40,229.42 L86.90,229.92 L87.40,230.16 L87.90,229.87 L88.40,229.90 L88.90,228.59 L89.40,229.10 L89.90,228.73 L90.40,230.25 L90.90,230.13 L91.40,228.67 L91.90,229.53 L92.40,229.49 L92.90,228.42 L93.40,229.10 L93.90,229.80 L94.40,229.57 L94.90,228.84 L95.40,229.79 L95.90,228.84 L96.40,229.33 L96.90,229.07 L97.40,230.18 L97.90,229.51 L98.40,229.81 L98.90,229.54 L99.40,228.94 L99.90,230.09 L100.40,229.58 L100.90,229.53 L101.40,228.69 L101.90,228.45 L102.40,229.27 L102.90,229.76 L103.40,229.69 L103.90,228.78 L104.40,228.36 L104.90,229.10 L105.40,229.82 L105.90,228.38 L106.40,229.52 L106.90,228.37 L107.40,228.65 L107.90,228.12 L108.40,228.60 L108.90,228.76 L109.40,229.92 L109.90,229.90 L110.40,228.35 L110.90,228.58 L111.40,229.84 L111.90,228.34 L112.40,228.58 L112.90,228.81 L113.40,228.14 L113.90,228.43 L114.40,228.69 L114.90,228.67 L115.40,229.82 L115.90,228.42 L116.40,228.28 L116.90,229.68 L117.40,228.76 L117.90,229.52 L118.40,229.12 L118.90,229.39 L119.40,228.46 L119.90,228.12 L120.40,229.33 L120.90,228.75 L121.40,228.92 L121.90,229.13 L122.40,229.29 L122.90,228.33 L123.40,228.50 L123.90,229.60 L124.40,228.82 L124.90,228.33 L125.40,229.00 L125.90,228.26 L126.40,229.27 L126.90,227.81 L127.40,229.37 L127.90,228.84 L128.40,228.41 L128.90,229.58 L129.40,228.22 L129.90,228.17 L130.40,227.82 L130.90,228.77 L131.40,229.17 L131.90,229.02 L132.40,228.48 L132.90,229.26 L133.40,227.86 L133.90,228.25 L134.40,228.92 L134.90,229.56 L135.40,228.89 L135.90,229.00 L136.40,229.16 L136.90,228.39 L137.40,229.48 L137.90,229.07 L138.40,228.27 L138.90,228.36 L139.40,229.18 L139.90,228.27 L140.40,227.93 L140.90,229.30 L141.40,228.61 L141.90,228.59 L142.40,228.88 L142.90,229.34 L143.40,227.80 L143.90,228.20 L144.40,227.65 L144.90,228.34 L145.40,228.51 L145.90,229.21 L146.40,228.83 L146.90,228.65 L147.40,228.30 L147.90,228.63 L148.40,228.03 L148.90,229.16 L149.40,229.05 L149.90,229.14 L150.40,227.76 L150.90,228.80 L151.40,228.96 L151.90,228.45 L152.40,229.24 L152.90,229.23 L153.40,228.92 L153.90,229.07 L154.40,228.72 L154.90,229.18 L155.40,227.68 L155.90,228.82 L156.40,228.81 L156.90,228.63 L157.40,227.95 L157.90,227.53 L158.40,228.60 L158.90,229.03 L159.40,227.93 L159.90,227.80 L160.40,227.82 L160.90,227.56 L161.40,228.72 L161.90,229.31 L162.40,228.96 L162.90,228.07 L163.40,228.75 L163.90,227.49 L164.40,229.02 L164.90,227.99 L165.40,227.34 L165.90,227.34" stroke="#000" stroke-width="1.45" fill="none" stroke-linejoin="round"/>
<path d="M47.80,253.00 L47.70,239.00 L47.90,237.16 L48.10,236.85 L48.40,236.64 L48.70,236.43 L49.00,236.25 L49.30,236.07 L49.60,235.91 L49.90,235.76 L50.20,235.62 L50.50,235.50 L50.80,235.39 L51.10,235.30 L51.40,235.21 L51.70,235.15 L52.00,235.09 L52.30,235.05 L52.60,235.02 L52.90,235.00 L53.10,235.00 L53.70,234.97 L54.30,234.89 L54.90,234.77 L55.50,234.62 L56.10,234.44 L56.70,234.26 L57.30,234.07 L57.90,233.88 L58.50,233.69 L59.10,233.55 L59.70,233.22 L60.30,233.09 L60.90,232.84 L61.50,232.84 L62.00,232.77 L62.50,232.77 L63.00,232.29 L63.50,232.58 L64.00,232.10 L64.50,232.06 L65.00,232.20 L65.50,231.94 L66.00,231.85 L66.50,231.92 L67.00,231.60 L67.50,231.94 L68.00,231.44 L68.50,231.85 L69.00,231.77 L69.50,231.50 L70.00,231.01 L70.50,231.60 L71.00,230.88 L71.50,231.25 L72.00,231.13 L72.50,230.73 L73.00,231.24 L73.50,231.29 L74.00,231.11 L74.50,230.88 L75.00,230.96 L75.50,231.01 L76.00,230.56 L76.50,231.27 L77.00,231.40 L77.50,231.15 L78.00,231.32 L78.50,230.50 L79.00,231.31 L79.50,230.09 L80.00,230.60 L80.50,230.10 L81.00,230.51 L81.50,230.81 L82.00,230.83 L82.50,230.44 L83.00,230.25 L83.50,229.99 L84.00,230.29 L84.50,230.08 L85.00,229.91 L85.50,230.76 L86.00,230.38 L86.50,230.23 L87.00,229.81 L87.50,230.65 L88.00,229.75 L88.50,229.85 L89.00,230.35 L89.50,230.60 L90.00,231.09 L90.50,230.66 L91.00,231.03 L91.50,230.97 L92.00,230.58 L92.50,230.57 L93.00,229.25 L93.50,229.51 L94.00,229.11 L94.50,230.80 L95.00,230.50 L95.50,230.31 L96.00,229.56 L96.50,229.73 L97.00,229.33 L97.50,230.26 L98.00,230.96 L98.50,229.58 L99.00,229.04 L99.50,229.29 L100.00,229.64 L100.50,230.71 L101.00,230.51 L101.50,229.80 L102.00,229.08 L102.50,229.08 L103.00,229.16 L103.50,230.40 L104.00,229.77 L104.50,230.80 L105.00,230.63 L105.50,230.39 L106.00,229.74 L106.50,230.42 L107.00,229.02 L107.50,228.97 L108.00,229.87 L108.50,229.75 L109.00,229.14 L109.50,229.22 L110.00,228.75 L110.50,230.51 L111.00,230.10 L111.50,230.56 L112.00,230.62 L112.50,229.53 L113.00,230.11 L113.50,229.40 L114.00,230.25 L114.50,230.30 L115.00,228.87 L115.50,228.62 L116.00,229.01 L116.50,229.75 L117.00,229.32 L117.50,228.58 L118.00,230.21 L118.50,230.11 L119.00,229.46 L119.50,228.61 L120.00,230.29 L120.50,229.57 L121.00,228.64 L121.50,229.13 L122.00,229.73 L122.50,230.24 L123.00,229.43 L123.50,229.73 L124.00,228.86 L124.50,228.92 L125.00,230.24 L125.50,229.19 L126.00,228.62 L126.50,229.59 L127.00,228.65 L127.50,228.79 L128.00,229.29 L128.50,229.55 L129.00,229.64 L129.50,229.77 L130.00,229.23 L130.50,228.48 L131.00,229.79 L131.50,228.44 L132.00,229.26 L132.50,229.11 L133.00,229.65 L133.50,229.73 L134.00,228.77 L134.50,229.58 L135.00,229.66 L135.50,229.22 L136.00,228.55 L136.50,230.08 L137.00,229.45 L137.50,228.37 L138.00,228.71 L138.50,230.20 L139.00,228.68 L139.50,229.00 L140.00,229.79 L140.50,229.85 L141.00,229.47 L141.50,229.68 L142.00,228.26 L142.50,228.37 L143.00,230.13 L143.50,229.77 L144.00,228.24 L144.50,228.25 L145.00,228.63 L145.50,230.00 L146.00,228.58 L146.50,229.47 L147.00,229.99 L147.50,229.40 L148.00,229.95 L148.50,228.63 L149.00,228.41 L149.50,228.13 L150.00,229.60 L150.50,228.29 L151.00,230.03 L151.50,229.49 L152.00,228.44 L152.50,229.68 L153.00,228.38 L153.50,229.08 L154.00,228.26 L154.50,229.61 L155.00,229.81 L155.50,229.86 L156.00,228.03 L156.50,229.72 L157.00,229.13 L157.50,229.65 L158.00,229.01 L158.50,229.24 L159.00,229.18 L159.50,229.59 L160.00,228.14 L160.50,228.09 L161.00,229.07 L161.50,228.55 L162.00,228.76 L162.50,227.98 L163.00,229.45 L163.50,228.00 L164.00,229.61 L164.50,229.57 L165.00,228.85 L165.50,228.18 L165.90,228.18" stroke="#000" stroke-width="1.45" fill="none" stroke-linejoin="round"/>
<line x1="165.9" y1="209" x2="165.9" y2="241" stroke="#222" stroke-width="1.4"/>
<path d="M32.6,460 H42.5 V447.6 L45,484.3" stroke="#000" stroke-width="1.6" fill="none" stroke-linejoin="miter"/>
<path d="M45.50,484.30 L48.30,470.30 L48.50,402.30 L48.70,400.71 L49.00,399.72 L49.30,398.90 L49.60,398.25 L49.90,397.76 L50.20,397.45 L50.50,397.31 L50.60,397.30 L51.20,398.01 L51.80,399.54 L52.40,401.31 L53.00,403.13 L53.60,404.93 L54.20,406.68 L54.80,408.39 L55.40,410.04 L56.00,411.63 L56.60,413.21 L57.20,414.55 L57.80,416.05 L58.40,417.30 L59.00,418.98 L59.50,419.86 L60.00,420.81 L60.50,421.68 L61.00,422.96 L61.50,423.97 L62.00,424.89 L62.50,425.34 L63.00,426.34 L63.50,427.13 L64.00,428.23 L64.50,428.58 L65.00,429.65 L65.50,430.66 L66.00,431.21 L66.50,431.30 L67.00,432.00 L67.50,432.66 L68.00,433.77 L68.50,434.29 L69.00,434.80 L69.50,435.31 L70.00,435.80 L70.50,436.53 L71.00,437.08 L71.50,437.86 L72.00,438.15 L72.50,438.69 L73.00,439.27 L73.50,439.63 L74.00,439.92 L74.50,439.51 L75.00,440.69 L75.50,441.29 L76.00,441.13 L76.50,442.07 L77.00,441.50 L77.50,442.86 L78.00,442.50 L78.50,443.19 L79.00,442.85 L79.50,443.21 L80.00,443.56 L80.50,443.80 L81.00,443.71 L81.50,444.50 L82.00,445.59 L82.50,445.33 L83.00,446.02 L83.50,445.98 L84.00,446.33 L84.50,446.82 L85.00,446.62 L85.50,445.99 L86.00,446.14 L86.50,446.61 L87.00,446.08 L87.50,446.63 L88.00,448.02 L88.50,448.26 L89.00,447.29 L89.50,448.30 L90.00,448.47 L90.50,448.85 L91.00,448.80 L91.50,448.41 L92.00,447.69 L92.50,449.26 L93.00,448.36 L93.50,449.11 L94.00,448.70 L94.50,449.15 L95.00,450.12 L95.50,448.62 L96.00,449.46 L96.50,449.79 L97.00,449.67 L97.50,450.56 L98.00,449.59 L98.50,450.68 L99.00,450.32 L99.50,450.96 L100.00,449.28 L100.50,449.60 L101.00,449.83 L101.50,451.14 L102.00,449.42 L102.50,449.98 L103.00,450.95 L103.50,451.57 L104.00,450.00 L104.50,450.58 L105.00,451.14 L105.50,451.20 L106.00,451.36 L106.50,451.43 L107.00,450.47 L107.50,450.54 L108.00,450.12 L108.50,451.50 L109.00,450.58 L109.50,450.72 L110.00,452.17 L110.50,451.57 L111.00,451.50 L111.50,451.67 L112.00,451.59 L112.50,451.82 L113.00,451.07 L113.50,450.62 L114.00,450.66 L114.50,450.59 L115.00,451.31 L115.50,450.90 L116.00,450.87 L116.50,451.66 L117.00,452.64 L117.50,452.10 L118.00,451.30 L118.50,452.31 L119.00,451.15 L119.50,451.02 L120.00,451.45 L120.50,451.68 L121.00,452.26 L121.50,451.79 L122.00,452.38 L122.50,451.13 L123.00,452.82 L123.50,451.66 L124.00,452.65 L124.50,451.07 L125.00,452.68 L125.50,451.49 L126.00,452.76 L126.50,452.67 L127.00,452.42 L127.50,451.65 L128.00,451.13 L128.50,451.50 L129.00,452.94 L129.50,451.46 L130.00,452.47 L130.50,452.34 L131.00,452.50 L131.50,451.55 L132.00,451.48 L132.50,451.40 L133.00,453.18 L133.50,451.99 L134.00,452.54 L134.50,452.38 L135.00,451.70 L135.50,451.39 L136.00,451.29 L136.50,452.98 L137.00,451.54 L137.50,453.21 L138.00,452.02 L138.50,452.75 L139.00,451.58 L139.50,452.89 L140.00,451.82 L140.50,452.06 L141.00,452.38 L141.50,451.56 L142.00,451.84 L142.50,452.94 L143.00,451.92 L143.50,452.12 L144.00,452.89 L144.50,451.81 L145.00,451.76 L145.50,451.81 L146.00,452.14 L146.50,452.11 L147.00,452.67 L147.50,452.33 L148.00,453.13 L148.50,451.50 L149.00,452.73 L149.50,453.07 L150.00,451.87 L150.50,451.47 L151.00,452.29 L151.50,451.65 L152.00,452.34 L152.50,452.84 L153.00,451.61 L153.50,451.66 L154.00,452.39 L154.50,451.78 L155.00,451.89 L155.50,452.31 L156.00,451.67 L156.50,451.57 L157.00,452.16 L157.50,452.38 L158.00,453.32 L158.50,452.55 L159.00,451.59 L159.50,451.89 L160.00,452.94 L160.50,452.58 L161.00,453.19 L161.50,453.38 L162.00,453.17 L162.50,451.68 L163.00,453.35 L163.50,452.51 L164.00,451.94 L164.50,451.80 L165.00,453.19 L165.50,451.89 L166.00,451.63 L166.50,452.00 L167.00,453.32 L167.50,452.39 L167.80,452.39" stroke="#000" stroke-width="1.45" fill="none" stroke-linejoin="round"/>
<path d="M45.79,484.30 L48.30,470.30 L48.50,409.90 L48.70,408.71 L49.00,407.92 L49.30,407.23 L49.60,406.62 L49.90,406.11 L50.20,405.69 L50.50,405.35 L50.80,405.11 L51.10,404.96 L51.40,404.90 L51.45,404.90 L52.05,405.34 L52.65,406.41 L53.25,407.75 L53.85,409.18 L54.45,410.62 L55.05,412.06 L55.65,413.46 L56.25,414.83 L56.85,416.16 L57.45,417.52 L58.05,418.56 L58.65,419.89 L59.25,421.00 L59.85,422.07 L60.35,423.18 L60.85,423.92 L61.35,424.66 L61.85,425.93 L62.35,426.48 L62.85,427.09 L63.35,427.74 L63.85,428.87 L64.35,429.50 L64.85,429.87 L65.35,430.84 L65.85,431.69 L66.35,432.18 L66.85,432.57 L67.35,433.37 L67.85,434.04 L68.35,434.64 L68.85,434.76 L69.35,435.87 L69.85,436.52 L70.35,436.84 L70.85,437.44 L71.35,437.44 L71.85,438.44 L72.35,438.14 L72.85,438.61 L73.35,439.42 L73.85,440.17 L74.35,439.63 L74.85,440.16 L75.35,440.31 L75.85,441.15 L76.35,441.12 L76.85,441.52 L77.35,442.56 L77.85,442.67 L78.35,443.45 L78.85,443.03 L79.35,443.70 L79.85,443.04 L80.35,444.66 L80.85,443.88 L81.35,444.50 L81.85,444.80 L82.35,445.72 L82.85,445.25 L83.35,446.27 L83.85,445.90 L84.35,445.46 L84.85,446.69 L85.35,445.83 L85.85,447.39 L86.35,446.64 L86.85,446.42 L87.35,447.91 L87.85,446.93 L88.35,447.25 L88.85,447.29 L89.35,448.06 L89.85,446.98 L90.35,447.80 L90.85,447.53 L91.35,448.99 L91.85,447.47 L92.35,448.82 L92.85,448.25 L93.35,448.76 L93.85,449.10 L94.35,449.52 L94.85,448.48 L95.35,448.80 L95.85,448.66 L96.35,450.45 L96.85,448.93 L97.35,449.00 L97.85,449.86 L98.35,450.07 L98.85,450.77 L99.35,449.20 L99.85,449.64 L100.35,449.59 L100.85,450.50 L101.35,450.31 L101.85,450.30 L102.35,451.33 L102.85,450.95 L103.35,451.41 L103.85,451.67 L104.35,450.36 L104.85,451.77 L105.35,450.76 L105.85,450.11 L106.35,451.89 L106.85,450.32 L107.35,450.20 L107.85,450.80 L108.35,450.85 L108.85,452.25 L109.35,452.11 L109.85,451.25 L110.35,451.51 L110.85,452.20 L111.35,452.15 L111.85,451.89 L112.35,451.65 L112.85,450.89 L113.35,451.18 L113.85,452.05 L114.35,451.94 L114.85,452.40 L115.35,452.63 L115.85,452.79 L116.35,451.28 L116.85,451.08 L117.35,452.75 L117.85,452.12 L118.35,451.37 L118.85,452.42 L119.35,451.57 L119.85,451.56 L120.35,451.84 L120.85,452.18 L121.35,452.51 L121.85,451.33 L122.35,452.68 L122.85,452.47 L123.35,452.19 L123.85,452.61 L124.35,452.88 L124.85,451.32 L125.35,452.27 L125.85,452.69 L126.35,452.77 L126.85,452.66 L127.35,451.74 L127.85,453.32 L128.35,452.99 L128.85,451.90 L129.35,452.30 L129.85,453.37 L130.35,451.88 L130.85,452.30 L131.35,453.42 L131.85,453.31 L132.35,451.98 L132.85,453.00 L133.35,452.26 L133.85,452.88 L134.35,453.10 L134.85,451.83 L135.35,452.03 L135.85,452.02 L136.35,452.13 L136.85,451.68 L137.35,451.89 L137.85,452.44 L138.35,452.48 L138.85,451.80 L139.35,452.82 L139.85,453.54 L140.35,452.82 L140.85,452.38 L141.35,453.09 L141.85,452.56 L142.35,452.04 L142.85,452.66 L143.35,451.74 L143.85,453.06 L144.35,452.04 L144.85,452.46 L145.35,453.65 L145.85,453.27 L146.35,453.41 L146.85,453.03 L147.35,453.02 L147.85,453.16 L148.35,453.69 L148.85,452.15 L149.35,453.30 L149.85,452.37 L150.35,452.28 L150.85,453.42 L151.35,452.98 L151.85,453.48 L152.35,453.54 L152.85,452.97 L153.35,452.19 L153.85,451.83 L154.35,452.87 L154.85,453.25 L155.35,452.35 L155.85,451.95 L156.35,451.82 L156.85,452.16 L157.35,453.21 L157.85,451.83 L158.35,452.28 L158.85,452.35 L159.35,453.25 L159.85,453.80 L160.35,451.87 L160.85,452.06 L161.35,453.70 L161.85,453.78 L162.35,452.14 L162.85,452.51 L163.35,452.89 L163.85,452.48 L164.35,452.68 L164.85,452.80 L165.35,452.37 L165.85,451.96 L166.35,452.02 L166.85,452.18 L167.35,452.04 L167.80,452.04" stroke="#000" stroke-width="1.45" fill="none" stroke-linejoin="round"/>
<path d="M46.08,484.30 L48.30,470.30 L48.50,420.70 L48.70,419.75 L49.00,419.10 L49.30,418.51 L49.60,417.98 L49.90,417.50 L50.20,417.08 L50.50,416.71 L50.80,416.40 L51.10,416.15 L51.40,415.95 L51.70,415.81 L52.00,415.73 L52.30,415.70 L52.30,415.70 L52.90,415.96 L53.50,416.62 L54.10,417.49 L54.70,418.47 L55.30,419.49 L55.90,420.51 L56.50,421.52 L57.10,422.52 L57.70,423.49 L58.30,424.48 L58.90,425.43 L59.50,426.18 L60.10,427.25 L60.70,428.07 L61.20,428.59 L61.70,429.33 L62.20,429.83 L62.70,430.84 L63.20,431.26 L63.70,431.57 L64.20,432.21 L64.70,433.10 L65.20,433.46 L65.70,434.22 L66.20,434.41 L66.70,435.32 L67.20,435.83 L67.70,435.77 L68.20,436.62 L68.70,436.76 L69.20,437.63 L69.70,438.15 L70.20,438.57 L70.70,438.47 L71.20,438.73 L71.70,439.66 L72.20,439.95 L72.70,439.88 L73.20,440.29 L73.70,441.04 L74.20,440.86 L74.70,441.77 L75.20,441.64 L75.70,441.97 L76.20,442.46 L76.70,442.89 L77.20,443.41 L77.70,442.81 L78.20,443.97 L78.70,443.58 L79.20,443.92 L79.70,444.64 L80.20,444.96 L80.70,445.09 L81.20,445.74 L81.70,444.94 L82.20,445.31 L82.70,446.05 L83.20,445.64 L83.70,445.67 L84.20,445.97 L84.70,447.03 L85.20,447.31 L85.70,447.32 L86.20,447.91 L86.70,447.80 L87.20,447.13 L87.70,447.30 L88.20,448.17 L88.70,447.12 L89.20,448.28 L89.70,447.45 L90.20,447.50 L90.70,448.52 L91.20,447.95 L91.70,449.60 L92.20,449.63 L92.70,448.92 L93.20,448.51 L93.70,448.47 L94.20,449.36 L94.70,449.49 L95.20,449.28 L95.70,450.09 L96.20,449.82 L96.70,450.41 L97.20,449.16 L97.70,449.18 L98.20,449.90 L98.70,450.18 L99.20,449.81 L99.70,450.72 L100.20,449.91 L100.70,450.18 L101.20,450.57 L101.70,451.11 L102.20,451.30 L102.70,450.57 L103.20,450.79 L103.70,451.82 L104.20,451.90 L104.70,451.33 L105.20,450.36 L105.70,451.12 L106.20,451.54 L106.70,450.88 L107.20,450.45 L107.70,452.39 L108.20,452.30 L108.70,450.79 L109.20,451.51 L109.70,451.87 L110.20,451.27 L110.70,450.85 L111.20,452.26 L111.70,452.34 L112.20,451.72 L112.70,451.05 L113.20,451.71 L113.70,451.15 L114.20,452.92 L114.70,451.13 L115.20,451.64 L115.70,452.64 L116.20,451.40 L116.70,451.38 L117.20,451.34 L117.70,451.55 L118.20,452.32 L118.70,452.95 L119.20,451.65 L119.70,451.69 L120.20,452.90 L120.70,452.24 L121.20,452.09 L121.70,451.69 L122.20,451.95 L122.70,453.43 L123.20,451.74 L123.70,452.05 L124.20,453.03 L124.70,453.36 L125.20,453.40 L125.70,452.56 L126.20,453.54 L126.70,452.86 L127.20,452.24 L127.70,452.61 L128.20,453.13 L128.70,453.19 L129.20,451.99 L129.70,452.14 L130.20,453.68 L130.70,451.99 L131.20,453.42 L131.70,452.48 L132.20,452.32 L132.70,452.34 L133.20,452.78 L133.70,453.84 L134.20,452.17 L134.70,453.59 L135.20,452.54 L135.70,452.25 L136.20,453.41 L136.70,452.61 L137.20,452.31 L137.70,452.78 L138.20,453.60 L138.70,453.69 L139.20,453.12 L139.70,452.00 L140.20,453.52 L140.70,453.21 L141.20,453.81 L141.70,453.92 L142.20,452.68 L142.70,453.73 L143.20,453.68 L143.70,452.58 L144.20,452.79 L144.70,452.81 L145.20,452.77 L145.70,452.83 L146.20,452.30 L146.70,452.54 L147.20,453.91 L147.70,452.92 L148.20,453.37 L148.70,453.88 L149.20,453.62 L149.70,452.61 L150.20,453.96 L150.70,453.74 L151.20,454.11 L151.70,453.59 L152.20,453.65 L152.70,453.77 L153.20,452.66 L153.70,453.47 L154.20,452.92 L154.70,453.84 L155.20,452.43 L155.70,453.25 L156.20,452.85 L156.70,453.82 L157.20,452.87 L157.70,453.87 L158.20,453.88 L158.70,453.95 L159.20,452.47 L159.70,454.07 L160.20,453.69 L160.70,453.56 L161.20,453.51 L161.70,452.30 L162.20,453.95 L162.70,453.31 L163.20,453.13 L163.70,452.90 L164.20,453.78 L164.70,453.79 L165.20,453.96 L165.70,452.65 L166.20,452.91 L166.70,452.73 L167.20,452.43 L167.70,452.89 L167.80,452.89" stroke="#000" stroke-width="1.45" fill="none" stroke-linejoin="round"/>
<path d="M46.36,484.30 L48.30,470.30 L48.50,427.90 L48.70,427.11 L49.00,426.56 L49.30,426.05 L49.60,425.58 L49.90,425.15 L50.20,424.75 L50.50,424.39 L50.80,424.07 L51.10,423.79 L51.40,423.55 L51.70,423.35 L52.00,423.18 L52.30,423.05 L52.60,422.96 L52.90,422.91 L53.15,422.90 L53.75,423.06 L54.35,423.50 L54.95,424.10 L55.55,424.80 L56.15,425.54 L56.75,426.30 L57.35,427.06 L57.95,427.82 L58.55,428.56 L59.15,429.15 L59.75,430.10 L60.35,430.61 L60.95,431.22 L61.55,431.86 L62.05,432.69 L62.55,432.97 L63.05,433.60 L63.55,434.07 L64.05,434.78 L64.55,435.35 L65.05,435.44 L65.55,436.09 L66.05,436.71 L66.55,436.87 L67.05,437.59 L67.55,437.89 L68.05,437.99 L68.55,438.81 L69.05,438.96 L69.55,438.95 L70.05,439.71 L70.55,440.28 L71.05,440.35 L71.55,440.66 L72.05,440.92 L72.55,441.69 L73.05,441.80 L73.55,441.64 L74.05,442.09 L74.55,442.38 L75.05,443.31 L75.55,443.30 L76.05,442.92 L76.55,444.09 L77.05,443.31 L77.55,444.22 L78.05,444.27 L78.55,444.87 L79.05,444.73 L79.55,444.51 L80.05,445.30 L80.55,445.92 L81.05,446.09 L81.55,445.68 L82.05,445.68 L82.55,446.64 L83.05,446.92 L83.55,446.22 L84.05,447.42 L84.55,447.77 L85.05,447.06 L85.55,447.14 L86.05,447.84 L86.55,448.37 L87.05,447.30 L87.55,447.61 L88.05,447.80 L88.55,448.65 L89.05,447.82 L89.55,448.60 L90.05,448.65 L90.55,449.09 L91.05,448.22 L91.55,449.90 L92.05,450.11 L92.55,449.37 L93.05,449.95 L93.55,448.84 L94.05,450.40 L94.55,449.79 L95.05,450.31 L95.55,450.62 L96.05,449.71 L96.55,450.92 L97.05,449.58 L97.55,449.30 L98.05,450.35 L98.55,451.23 L99.05,451.31 L99.55,451.50 L100.05,450.69 L100.55,451.61 L101.05,450.94 L101.55,450.18 L102.05,451.23 L102.55,451.64 L103.05,450.95 L103.55,451.37 L104.05,450.75 L104.55,450.85 L105.05,451.20 L105.55,451.44 L106.05,451.41 L106.55,450.71 L107.05,450.60 L107.55,451.32 L108.05,452.12 L108.55,452.24 L109.05,451.26 L109.55,451.35 L110.05,451.92 L110.55,451.28 L111.05,452.18 L111.55,452.83 L112.05,451.47 L112.55,452.28 L113.05,452.59 L113.55,452.68 L114.05,452.65 L114.55,452.68 L115.05,451.84 L115.55,453.01 L116.05,453.22 L116.55,451.51 L117.05,453.32 L117.55,452.35 L118.05,451.67 L118.55,451.67 L119.05,453.15 L119.55,452.94 L120.05,451.90 L120.55,452.56 L121.05,452.95 L121.55,453.69 L122.05,452.39 L122.55,453.28 L123.05,452.26 L123.55,452.19 L124.05,452.14 L124.55,452.66 L125.05,453.10 L125.55,452.49 L126.05,452.23 L126.55,452.36 L127.05,452.11 L127.55,452.35 L128.05,452.61 L128.55,453.01 L129.05,452.38 L129.55,452.99 L130.05,452.93 L130.55,454.01 L131.05,453.05 L131.55,453.99 L132.05,453.06 L132.55,452.52 L133.05,453.33 L133.55,452.45 L134.05,452.51 L134.55,452.33 L135.05,453.60 L135.55,454.14 L136.05,453.03 L136.55,452.94 L137.05,453.10 L137.55,452.96 L138.05,453.65 L138.55,453.06 L139.05,452.59 L139.55,454.03 L140.05,453.46 L140.55,452.33 L141.05,454.03 L141.55,453.80 L142.05,453.06 L142.55,453.62 L143.05,454.21 L143.55,453.18 L144.05,453.25 L144.55,452.99 L145.05,453.51 L145.55,453.73 L146.05,453.88 L146.55,454.32 L147.05,452.72 L147.55,453.17 L148.05,454.14 L148.55,454.03 L149.05,453.63 L149.55,453.82 L150.05,453.15 L150.55,454.36 L151.05,453.58 L151.55,453.29 L152.05,452.85 L152.55,452.73 L153.05,454.29 L153.55,454.11 L154.05,452.56 L154.55,453.16 L155.05,453.48 L155.55,453.52 L156.05,453.26 L156.55,454.32 L157.05,453.24 L157.55,453.61 L158.05,454.40 L158.55,453.83 L159.05,453.51 L159.55,453.22 L160.05,453.33 L160.55,453.78 L161.05,454.14 L161.55,453.09 L162.05,453.31 L162.55,453.35 L163.05,453.31 L163.55,454.41 L164.05,453.66 L164.55,453.14 L165.05,453.26 L165.55,454.24 L166.05,452.92 L166.55,453.98 L167.05,452.65 L167.55,452.99 L167.80,452.99" stroke="#000" stroke-width="1.45" fill="none" stroke-linejoin="round"/>
<path d="M46.65,484.30 L48.30,470.30 L48.50,438.70 L48.70,438.02 L49.00,437.55 L49.30,437.10 L49.60,436.68 L49.90,436.29 L50.20,435.92 L50.50,435.59 L50.80,435.28 L51.10,434.99 L51.40,434.74 L51.70,434.51 L52.00,434.32 L52.30,434.14 L52.60,434.00 L52.90,433.89 L53.20,433.80 L53.50,433.74 L53.80,433.71 L54.00,433.70 L54.60,433.79 L55.20,434.02 L55.80,434.36 L56.40,434.76 L57.00,435.20 L57.60,435.66 L58.20,436.12 L58.80,436.58 L59.40,437.04 L60.00,437.36 L60.60,438.04 L61.20,438.25 L61.80,438.70 L62.40,439.04 L62.90,439.46 L63.40,440.01 L63.90,440.34 L64.40,440.76 L64.90,441.11 L65.40,441.20 L65.90,441.72 L66.40,441.51 L66.90,442.32 L67.40,442.29 L67.90,442.39 L68.40,443.05 L68.90,443.40 L69.40,443.30 L69.90,443.32 L70.40,444.19 L70.90,444.34 L71.40,444.44 L71.90,445.01 L72.40,444.38 L72.90,444.60 L73.40,444.87 L73.90,444.97 L74.40,445.86 L74.90,445.98 L75.40,445.62 L75.90,445.86 L76.40,446.05 L76.90,446.72 L77.40,446.97 L77.90,447.50 L78.40,446.94 L78.90,447.87 L79.40,447.35 L79.90,447.45 L80.40,447.41 L80.90,447.53 L81.40,448.69 L81.90,448.87 L82.40,448.61 L82.90,447.98 L83.40,448.11 L83.90,448.19 L84.40,448.61 L84.90,449.33 L85.40,448.39 L85.90,449.25 L86.40,449.61 L86.90,448.66 L87.40,449.44 L87.90,450.14 L88.40,449.88 L88.90,449.77 L89.40,450.63 L89.90,450.23 L90.40,449.85 L90.90,450.05 L91.40,451.16 L91.90,451.10 L92.40,451.30 L92.90,450.71 L93.40,449.97 L93.90,450.10 L94.40,450.60 L94.90,451.29 L95.40,449.99 L95.90,451.66 L96.40,451.70 L96.90,451.23 L97.40,450.28 L97.90,451.93 L98.40,451.23 L98.90,451.80 L99.40,451.66 L99.90,452.04 L100.40,451.46 L100.90,452.62 L101.40,452.67 L101.90,452.67 L102.40,452.10 L102.90,451.55 L103.40,451.72 L103.90,451.56 L104.40,452.88 L104.90,452.70 L105.40,452.74 L105.90,452.85 L106.40,453.23 L106.90,452.67 L107.40,451.98 L107.90,452.90 L108.40,451.94 L108.90,452.68 L109.40,451.82 L109.90,453.25 L110.40,452.55 L110.90,452.16 L111.40,453.49 L111.90,451.84 L112.40,453.57 L112.90,453.26 L113.40,452.07 L113.90,453.33 L114.40,452.98 L114.90,453.68 L115.40,453.07 L115.90,452.78 L116.40,453.82 L116.90,452.15 L117.40,453.56 L117.90,452.24 L118.40,452.61 L118.90,452.31 L119.40,453.85 L119.90,453.01 L120.40,453.60 L120.90,452.69 L121.40,453.66 L121.90,453.51 L122.40,452.43 L122.90,453.25 L123.40,453.72 L123.90,452.73 L124.40,453.62 L124.90,452.89 L125.40,453.09 L125.90,454.21 L126.40,454.27 L126.90,454.40 L127.40,453.27 L127.90,453.58 L128.40,454.07 L128.90,453.98 L129.40,453.39 L129.90,454.22 L130.40,453.31 L130.90,454.42 L131.40,453.48 L131.90,452.79 L132.40,454.06 L132.90,452.87 L133.40,453.95 L133.90,452.71 L134.40,454.59 L134.90,453.71 L135.40,454.12 L135.90,452.91 L136.40,453.93 L136.90,453.42 L137.40,453.18 L137.90,454.32 L138.40,452.76 L138.90,453.66 L139.40,452.89 L139.90,454.43 L140.40,454.52 L140.90,452.81 L141.40,453.68 L141.90,453.70 L142.40,454.20 L142.90,454.23 L143.40,453.47 L143.90,454.66 L144.40,453.17 L144.90,453.08 L145.40,454.44 L145.90,453.06 L146.40,453.20 L146.90,453.83 L147.40,453.51 L147.90,453.17 L148.40,454.71 L148.90,453.80 L149.40,454.43 L149.90,453.37 L150.40,454.70 L150.90,453.32 L151.40,454.70 L151.90,454.11 L152.40,454.84 L152.90,454.44 L153.40,454.16 L153.90,453.97 L154.40,454.62 L154.90,453.80 L155.40,453.12 L155.90,454.75 L156.40,454.54 L156.90,454.30 L157.40,454.43 L157.90,453.40 L158.40,453.87 L158.90,454.59 L159.40,454.88 L159.90,454.80 L160.40,453.28 L160.90,454.33 L161.40,454.07 L161.90,453.78 L162.40,453.31 L162.90,453.25 L163.40,453.92 L163.90,453.97 L164.40,453.52 L164.90,453.72 L165.40,454.10 L165.90,454.52 L166.40,454.17 L166.90,453.32 L167.40,454.77 L167.80,454.77" stroke="#000" stroke-width="1.45" fill="none" stroke-linejoin="round"/>
<path d="M46.94,484.30 L48.30,470.30 L48.50,444.20 L48.70,443.61 L49.00,443.19 L49.30,442.79 L49.60,442.41 L49.90,442.06 L50.20,441.72 L50.50,441.41 L50.80,441.11 L51.10,440.84 L51.40,440.59 L51.70,440.36 L52.00,440.15 L52.30,439.96 L52.60,439.79 L52.90,439.64 L53.20,439.52 L53.50,439.41 L53.80,439.33 L54.10,439.27 L54.40,439.22 L54.70,439.20 L54.85,439.20 L55.45,439.25 L56.05,439.39 L56.65,439.61 L57.25,439.87 L57.85,440.15 L58.45,440.46 L59.05,440.77 L59.65,441.08 L60.25,441.40 L60.85,441.67 L61.45,442.17 L62.05,442.50 L62.65,442.49 L63.25,442.96 L63.75,443.37 L64.25,443.34 L64.75,443.65 L65.25,443.76 L65.75,443.83 L66.25,444.13 L66.75,444.29 L67.25,444.59 L67.75,445.02 L68.25,445.18 L68.75,445.65 L69.25,445.66 L69.75,445.62 L70.25,446.25 L70.75,446.20 L71.25,446.31 L71.75,446.75 L72.25,446.76 L72.75,446.66 L73.25,447.05 L73.75,446.92 L74.25,447.72 L74.75,447.17 L75.25,448.06 L75.75,447.27 L76.25,447.34 L76.75,448.07 L77.25,447.82 L77.75,448.29 L78.25,447.97 L78.75,448.95 L79.25,448.88 L79.75,449.03 L80.25,449.46 L80.75,449.68 L81.25,449.39 L81.75,449.56 L82.25,448.70 L82.75,448.86 L83.25,449.50 L83.75,450.38 L84.25,449.53 L84.75,450.01 L85.25,449.26 L85.75,449.97 L86.25,450.83 L86.75,450.43 L87.25,450.91 L87.75,449.67 L88.25,450.06 L88.75,450.10 L89.25,451.29 L89.75,450.11 L90.25,451.65 L90.75,450.54 L91.25,451.73 L91.75,451.14 L92.25,450.85 L92.75,452.14 L93.25,451.14 L93.75,451.78 L94.25,450.61 L94.75,452.18 L95.25,452.55 L95.75,450.87 L96.25,452.21 L96.75,451.31 L97.25,451.13 L97.75,451.62 L98.25,452.27 L98.75,452.91 L99.25,453.04 L99.75,453.09 L100.25,452.40 L100.75,452.51 L101.25,451.58 L101.75,452.76 L102.25,452.45 L102.75,452.12 L103.25,453.24 L103.75,452.00 L104.25,451.81 L104.75,451.89 L105.25,451.91 L105.75,452.83 L106.25,453.30 L106.75,452.05 L107.25,452.78 L107.75,452.96 L108.25,452.97 L108.75,452.71 L109.25,453.00 L109.75,451.98 L110.25,452.10 L110.75,452.86 L111.25,452.52 L111.75,453.59 L112.25,452.59 L112.75,453.79 L113.25,452.65 L113.75,452.38 L114.25,453.18 L114.75,453.03 L115.25,452.95 L115.75,453.84 L116.25,452.78 L116.75,453.70 L117.25,454.05 L117.75,453.31 L118.25,453.43 L118.75,454.30 L119.25,453.68 L119.75,452.86 L120.25,452.66 L120.75,452.70 L121.25,453.22 L121.75,452.76 L122.25,453.90 L122.75,453.47 L123.25,453.25 L123.75,453.68 L124.25,454.55 L124.75,453.18 L125.25,453.02 L125.75,453.34 L126.25,453.39 L126.75,454.58 L127.25,454.19 L127.75,453.65 L128.25,453.14 L128.75,452.91 L129.25,453.08 L129.75,454.54 L130.25,454.16 L130.75,453.19 L131.25,454.14 L131.75,453.02 L132.25,453.93 L132.75,453.60 L133.25,453.15 L133.75,454.44 L134.25,454.40 L134.75,454.00 L135.25,453.32 L135.75,454.34 L136.25,453.88 L136.75,454.34 L137.25,453.21 L137.75,454.85 L138.25,453.06 L138.75,453.51 L139.25,453.87 L139.75,453.48 L140.25,453.26 L140.75,454.47 L141.25,455.09 L141.75,453.78 L142.25,453.65 L142.75,454.47 L143.25,453.58 L143.75,453.95 L144.25,454.53 L144.75,454.02 L145.25,453.48 L145.75,453.32 L146.25,454.27 L146.75,455.17 L147.25,455.04 L147.75,453.40 L148.25,454.21 L148.75,454.19 L149.25,453.61 L149.75,454.57 L150.25,454.22 L150.75,454.86 L151.25,453.83 L151.75,455.12 L152.25,454.88 L152.75,454.21 L153.25,453.55 L153.75,454.24 L154.25,453.53 L154.75,454.65 L155.25,454.68 L155.75,454.45 L156.25,455.25 L156.75,453.39 L157.25,454.73 L157.75,454.91 L158.25,453.54 L158.75,453.96 L159.25,453.43 L159.75,454.49 L160.25,454.77 L160.75,454.03 L161.25,454.73 L161.75,454.07 L162.25,454.77 L162.75,453.90 L163.25,455.30 L163.75,454.23 L164.25,453.36 L164.75,453.54 L165.25,454.81 L165.75,455.09 L166.25,454.64 L166.75,453.68 L167.25,455.12 L167.75,454.81 L167.80,454.81" stroke="#000" stroke-width="1.45" fill="none" stroke-linejoin="round"/>
<path d="M47.22,484.30 L48.30,470.30 L48.50,451.74 L48.70,451.27 L49.00,450.94 L49.30,450.62 L49.60,450.32 L49.90,450.03 L50.20,449.75 L50.50,449.49 L50.80,449.25 L51.10,449.02 L51.40,448.80 L51.70,448.60 L52.00,448.41 L52.30,448.24 L52.60,448.08 L52.90,447.94 L53.20,447.81 L53.50,447.69 L53.80,447.59 L54.10,447.51 L54.40,447.44 L54.70,447.38 L55.00,447.34 L55.30,447.31 L55.60,447.30 L55.70,447.30 L56.30,447.32 L56.90,447.38 L57.50,447.47 L58.10,447.58 L58.70,447.71 L59.30,447.85 L59.90,447.99 L60.50,448.13 L61.10,448.28 L61.70,448.31 L62.30,448.53 L62.90,448.77 L63.50,448.66 L64.10,448.80 L64.60,449.04 L65.10,449.39 L65.60,449.57 L66.10,449.34 L66.60,449.77 L67.10,449.81 L67.60,449.97 L68.10,449.91 L68.60,450.26 L69.10,450.15 L69.60,450.46 L70.10,450.29 L70.60,450.11 L71.10,450.44 L71.60,450.50 L72.10,450.47 L72.60,450.58 L73.10,450.78 L73.60,450.93 L74.10,450.68 L74.60,450.81 L75.10,451.10 L75.60,451.18 L76.10,451.16 L76.60,451.49 L77.10,451.06 L77.60,451.50 L78.10,451.28 L78.60,451.91 L79.10,451.91 L79.60,452.07 L80.10,451.82 L80.60,451.55 L81.10,452.46 L81.60,452.00 L82.10,451.88 L82.60,451.82 L83.10,452.02 L83.60,452.51 L84.10,452.72 L84.60,452.30 L85.10,452.72 L85.60,452.00 L86.10,452.41 L86.60,452.31 L87.10,452.27 L87.60,452.40 L88.10,453.08 L88.60,453.10 L89.10,452.27 L89.60,452.36 L90.10,453.34 L90.60,453.16 L91.10,453.25 L91.60,453.22 L92.10,453.37 L92.60,452.64 L93.10,452.27 L93.60,452.87 L94.10,452.27 L94.60,454.10 L95.10,453.29 L95.60,453.61 L96.10,454.24 L96.60,453.95 L97.10,452.83 L97.60,453.08 L98.10,452.66 L98.60,454.06 L99.10,453.97 L99.60,453.50 L100.10,453.30 L100.60,453.13 L101.10,453.59 L101.60,454.07 L102.10,454.46 L102.60,454.39 L103.10,454.46 L103.60,453.62 L104.10,453.61 L104.60,453.42 L105.10,454.77 L105.60,453.21 L106.10,453.18 L106.60,453.45 L107.10,454.75 L107.60,454.64 L108.10,453.62 L108.60,454.68 L109.10,454.77 L109.60,453.87 L110.10,453.42 L110.60,454.60 L111.10,453.82 L111.60,453.33 L112.10,454.91 L112.60,454.00 L113.10,453.94 L113.60,454.35 L114.10,453.69 L114.60,453.23 L115.10,453.99 L115.60,453.98 L116.10,453.26 L116.60,454.00 L117.10,454.79 L117.60,453.95 L118.10,454.66 L118.60,454.56 L119.10,453.70 L119.60,453.38 L120.10,454.70 L120.60,454.59 L121.10,453.96 L121.60,453.79 L122.10,455.11 L122.60,455.23 L123.10,453.89 L123.60,454.61 L124.10,454.60 L124.60,454.10 L125.10,453.54 L125.60,454.13 L126.10,454.78 L126.60,454.70 L127.10,454.53 L127.60,453.76 L128.10,453.95 L128.60,454.16 L129.10,454.38 L129.60,454.28 L130.10,455.37 L130.60,453.81 L131.10,455.55 L131.60,454.07 L132.10,455.31 L132.60,454.09 L133.10,454.79 L133.60,454.38 L134.10,453.71 L134.60,455.23 L135.10,455.26 L135.60,454.19 L136.10,455.21 L136.60,454.62 L137.10,455.65 L137.60,453.79 L138.10,454.44 L138.60,454.15 L139.10,454.95 L139.60,455.26 L140.10,455.39 L140.60,454.81 L141.10,454.49 L141.60,455.32 L142.10,453.94 L142.60,454.26 L143.10,455.25 L143.60,454.63 L144.10,455.74 L144.60,453.94 L145.10,454.68 L145.60,454.19 L146.10,453.77 L146.60,453.96 L147.10,453.96 L147.60,454.52 L148.10,454.65 L148.60,454.81 L149.10,454.38 L149.60,455.20 L150.10,454.84 L150.60,455.77 L151.10,454.15 L151.60,454.84 L152.10,454.81 L152.60,454.57 L153.10,455.55 L153.60,454.25 L154.10,455.59 L154.60,454.55 L155.10,454.51 L155.60,455.07 L156.10,454.97 L156.60,454.42 L157.10,454.02 L157.60,455.77 L158.10,454.60 L158.60,454.09 L159.10,455.18 L159.60,454.93 L160.10,454.52 L160.60,454.53 L161.10,455.56 L161.60,454.55 L162.10,454.71 L162.60,455.80 L163.10,454.61 L163.60,454.69 L164.10,454.21 L164.60,455.22 L165.10,455.22 L165.60,454.79 L166.10,454.71 L166.60,454.36 L167.10,455.48 L167.60,454.82 L167.80,454.82" stroke="#000" stroke-width="1.45" fill="none" stroke-linejoin="round"/>
<path d="M47.51,484.30 L48.30,470.30 L48.50,455.70 L48.70,455.33 L49.00,455.07 L49.30,454.81 L49.60,454.57 L49.90,454.33 L50.20,454.11 L50.50,453.90 L50.80,453.69 L51.10,453.50 L51.40,453.32 L51.70,453.15 L52.00,452.99 L52.30,452.83 L52.60,452.69 L52.90,452.56 L53.20,452.44 L53.50,452.33 L53.80,452.23 L54.10,452.14 L54.40,452.06 L54.70,452.00 L55.00,451.94 L55.30,451.89 L55.60,451.85 L55.90,451.82 L56.20,451.81 L56.50,451.80 L56.55,451.80 L57.15,451.81 L57.75,451.83 L58.35,451.87 L58.95,451.92 L59.55,451.97 L60.15,452.03 L60.75,452.09 L61.35,452.15 L61.95,452.22 L62.55,452.38 L63.15,452.30 L63.75,452.49 L64.35,452.29 L64.95,452.42 L65.45,452.79 L65.95,452.72 L66.45,452.78 L66.95,452.74 L67.45,452.77 L67.95,452.66 L68.45,452.69 L68.95,453.02 L69.45,453.10 L69.95,452.86 L70.45,453.17 L70.95,452.85 L71.45,453.24 L71.95,452.94 L72.45,453.24 L72.95,453.12 L73.45,453.36 L73.95,453.04 L74.45,453.38 L74.95,453.54 L75.45,453.13 L75.95,453.32 L76.45,453.72 L76.95,453.63 L77.45,453.74 L77.95,453.95 L78.45,453.76 L78.95,453.40 L79.45,453.68 L79.95,454.17 L80.45,453.89 L80.95,454.15 L81.45,453.70 L81.95,453.84 L82.45,454.54 L82.95,454.38 L83.45,454.19 L83.95,453.48 L84.45,454.20 L84.95,453.41 L85.45,454.72 L85.95,454.81 L86.45,454.49 L86.95,453.82 L87.45,454.73 L87.95,453.71 L88.45,454.77 L88.95,454.30 L89.45,453.49 L89.95,454.96 L90.45,454.23 L90.95,454.92 L91.45,454.70 L91.95,454.45 L92.45,455.07 L92.95,453.89 L93.45,455.19 L93.95,454.17 L94.45,453.59 L94.95,454.20 L95.45,453.68 L95.95,453.70 L96.45,454.81 L96.95,453.82 L97.45,453.92 L97.95,454.20 L98.45,454.19 L98.95,455.49 L99.45,455.47 L99.95,455.42 L100.45,455.67 L100.95,454.59 L101.45,455.31 L101.95,454.30 L102.45,455.60 L102.95,455.39 L103.45,455.24 L103.95,454.25 L104.45,453.99 L104.95,455.67 L105.45,454.93 L105.95,455.07 L106.45,455.58 L106.95,454.15 L107.45,455.28 L107.95,454.82 L108.45,455.47 L108.95,454.82 L109.45,454.31 L109.95,455.84 L110.45,454.50 L110.95,455.44 L111.45,455.62 L111.95,454.47 L112.45,455.37 L112.95,454.78 L113.45,454.45 L113.95,454.44 L114.45,455.93 L114.95,454.76 L115.45,455.06 L115.95,455.05 L116.45,454.11 L116.95,455.57 L117.45,455.56 L117.95,455.83 L118.45,454.80 L118.95,454.51 L119.45,454.79 L119.95,455.57 L120.45,455.43 L120.95,454.93 L121.45,455.18 L121.95,454.44 L122.45,455.98 L122.95,455.09 L123.45,455.17 L123.95,455.74 L124.45,454.56 L124.95,455.62 L125.45,454.89 L125.95,455.81 L126.45,454.38 L126.95,454.75 L127.45,455.47 L127.95,455.17 L128.45,454.97 L128.95,455.38 L129.45,454.66 L129.95,455.10 L130.45,454.24 L130.95,455.84 L131.45,454.75 L131.95,455.91 L132.45,455.36 L132.95,455.46 L133.45,455.51 L133.95,454.52 L134.45,455.82 L134.95,454.86 L135.45,456.00 L135.95,455.86 L136.45,455.64 L136.95,455.92 L137.45,455.17 L137.95,455.64 L138.45,456.21 L138.95,454.68 L139.45,454.51 L139.95,455.14 L140.45,455.34 L140.95,454.62 L141.45,454.77 L141.95,456.06 L142.45,455.11 L142.95,454.63 L143.45,454.70 L143.95,455.49 L144.45,454.72 L144.95,455.29 L145.45,455.42 L145.95,455.23 L146.45,455.36 L146.95,456.03 L147.45,454.39 L147.95,456.22 L148.45,454.76 L148.95,454.44 L149.45,455.90 L149.95,455.51 L150.45,455.45 L150.95,454.81 L151.45,455.94 L151.95,454.99 L152.45,455.84 L152.95,454.84 L153.45,455.53 L153.95,455.68 L154.45,455.13 L154.95,455.35 L155.45,454.52 L155.95,455.68 L156.45,455.78 L156.95,454.71 L157.45,455.50 L157.95,455.87 L158.45,454.61 L158.95,456.09 L159.45,456.15 L159.95,454.51 L160.45,454.91 L160.95,454.58 L161.45,454.92 L161.95,454.59 L162.45,455.40 L162.95,454.92 L163.45,455.02 L163.95,455.35 L164.45,455.17 L164.95,456.00 L165.45,455.87 L165.95,454.66 L166.45,454.88 L166.95,454.45 L167.45,455.09 L167.80,455.09" stroke="#000" stroke-width="1.45" fill="none" stroke-linejoin="round"/>
<path d="M47.80,484.30 L48.30,470.30 L48.50,458.08 L48.70,457.77 L49.00,457.55 L49.30,457.33 L49.60,457.13 L49.90,456.93 L50.20,456.74 L50.50,456.56 L50.80,456.38 L51.10,456.21 L51.40,456.05 L51.70,455.90 L52.00,455.76 L52.30,455.62 L52.60,455.49 L52.90,455.37 L53.20,455.26 L53.50,455.16 L53.80,455.06 L54.10,454.97 L54.40,454.89 L54.70,454.81 L55.00,454.75 L55.30,454.69 L55.60,454.64 L55.90,454.60 L56.20,454.56 L56.50,454.53 L56.80,454.52 L57.10,454.50 L57.40,454.50 L57.40,454.50 L58.00,454.50 L58.60,454.51 L59.20,454.53 L59.80,454.55 L60.40,454.58 L61.00,454.61 L61.60,454.64 L62.20,454.67 L62.80,454.70 L63.40,454.62 L64.00,454.83 L64.60,454.90 L65.20,455.02 L65.80,454.74 L66.30,454.68 L66.80,455.03 L67.30,454.90 L67.80,455.19 L68.30,454.93 L68.80,454.91 L69.30,454.79 L69.80,455.34 L70.30,455.10 L70.80,455.07 L71.30,455.09 L71.80,455.35 L72.30,455.43 L72.80,455.18 L73.30,454.97 L73.80,455.17 L74.30,455.60 L74.80,455.21 L75.30,455.45 L75.80,455.38 L76.30,455.31 L76.80,455.44 L77.30,455.13 L77.80,455.46 L78.30,455.80 L78.80,454.99 L79.30,455.32 L79.80,455.90 L80.30,456.04 L80.80,454.94 L81.30,455.68 L81.80,455.71 L82.30,455.99 L82.80,455.54 L83.30,455.11 L83.80,455.34 L84.30,455.91 L84.80,455.95 L85.30,455.24 L85.80,455.87 L86.30,455.91 L86.80,455.93 L87.30,454.99 L87.80,455.63 L88.30,455.46 L88.80,455.90 L89.30,455.50 L89.80,455.17 L90.30,456.07 L90.80,455.44 L91.30,456.30 L91.80,455.49 L92.30,455.91 L92.80,456.39 L93.30,455.17 L93.80,456.29 L94.30,455.08 L94.80,456.70 L95.30,455.00 L95.80,456.34 L96.30,455.66 L96.80,455.30 L97.30,455.73 L97.80,455.95 L98.30,455.79 L98.80,455.21 L99.30,456.02 L99.80,455.58 L100.30,456.93 L100.80,455.77 L101.30,455.88 L101.80,455.47 L102.30,456.96 L102.80,455.68 L103.30,456.34 L103.80,456.72 L104.30,455.84 L104.80,456.58 L105.30,455.63 L105.80,455.30 L106.30,455.17 L106.80,455.99 L107.30,456.85 L107.80,455.51 L108.30,456.00 L108.80,456.65 L109.30,455.68 L109.80,455.44 L110.30,456.18 L110.80,456.00 L111.30,457.03 L111.80,456.95 L112.30,455.64 L112.80,456.29 L113.30,456.01 L113.80,455.25 L114.30,456.08 L114.80,457.02 L115.30,455.80 L115.80,456.38 L116.30,456.63 L116.80,455.34 L117.30,457.07 L117.80,455.44 L118.30,455.83 L118.80,456.66 L119.30,455.28 L119.80,455.99 L120.30,455.50 L120.80,456.20 L121.30,455.29 L121.80,455.56 L122.30,455.71 L122.80,455.43 L123.30,455.45 L123.80,455.66 L124.30,456.31 L124.80,455.56 L125.30,456.93 L125.80,456.12 L126.30,455.80 L126.80,455.78 L127.30,456.98 L127.80,455.40 L128.30,456.79 L128.80,455.51 L129.30,457.20 L129.80,456.13 L130.30,456.51 L130.80,457.05 L131.30,455.53 L131.80,455.46 L132.30,456.72 L132.80,456.51 L133.30,456.78 L133.80,455.90 L134.30,456.34 L134.80,455.72 L135.30,456.22 L135.80,455.91 L136.30,456.52 L136.80,455.95 L137.30,455.91 L137.80,456.65 L138.30,455.53 L138.80,456.97 L139.30,456.36 L139.80,455.83 L140.30,455.60 L140.80,456.39 L141.30,456.38 L141.80,456.82 L142.30,456.13 L142.80,456.21 L143.30,457.17 L143.80,455.93 L144.30,457.35 L144.80,457.18 L145.30,457.37 L145.80,457.28 L146.30,455.91 L146.80,457.03 L147.30,456.62 L147.80,455.81 L148.30,457.40 L148.80,456.70 L149.30,457.03 L149.80,456.52 L150.30,455.57 L150.80,457.14 L151.30,455.76 L151.80,455.93 L152.30,456.65 L152.80,455.80 L153.30,456.34 L153.80,456.85 L154.30,455.61 L154.80,456.74 L155.30,455.63 L155.80,456.38 L156.30,456.73 L156.80,456.80 L157.30,455.52 L157.80,455.81 L158.30,457.35 L158.80,456.21 L159.30,456.28 L159.80,456.18 L160.30,456.83 L160.80,456.92 L161.30,456.74 L161.80,456.24 L162.30,456.58 L162.80,456.47 L163.30,455.82 L163.80,457.34 L164.30,457.37 L164.80,457.00 L165.30,457.43 L165.80,456.38 L166.30,457.13 L166.80,455.93 L167.30,456.94 L167.80,456.88 L167.80,456.88" stroke="#000" stroke-width="1.45" fill="none" stroke-linejoin="round"/>
<line x1="167.8" y1="425" x2="167.8" y2="483.8" stroke="#222" stroke-width="1.4"/>
<path d="M32.8,534.2 H41.3 V517.3 L44,557" stroke="#000" stroke-width="1.6" fill="none" stroke-linejoin="miter"/>
<path d="M45.20,557.00 L48.00,543.00 L48.20,516.30 L48.40,514.50 L48.70,513.41 L49.00,512.55 L49.30,511.91 L49.60,511.50 L49.90,511.31 L50.00,511.30 L50.60,511.51 L51.20,511.95 L51.80,512.47 L52.40,512.99 L53.00,513.50 L53.60,514.00 L54.20,514.47 L54.80,514.93 L55.40,515.37 L56.00,515.93 L56.60,516.31 L57.20,516.72 L57.80,516.84 L58.40,517.42 L58.90,517.55 L59.40,517.74 L59.90,518.02 L60.40,518.52 L60.90,518.79 L61.40,519.04 L61.90,519.16 L62.40,519.04 L62.90,519.23 L63.40,519.72 L63.90,519.65 L64.40,519.92 L64.90,519.91 L65.40,520.12 L65.90,520.77 L66.40,520.49 L66.90,521.22 L67.40,520.89 L67.90,521.54 L68.40,521.14 L68.90,521.24 L69.40,521.50 L69.90,521.21 L70.40,521.80 L70.90,521.85 L71.40,521.53 L71.90,522.66 L72.40,522.18 L72.90,521.81 L73.40,523.13 L73.90,522.28 L74.40,522.41 L74.90,522.18 L75.40,522.36 L75.90,523.31 L76.40,523.22 L76.90,523.19 L77.40,522.88 L77.90,523.02 L78.40,524.16 L78.90,523.29 L79.40,524.36 L79.90,524.28 L80.40,523.08 L80.90,524.37 L81.40,523.02 L81.90,524.28 L82.40,524.52 L82.90,524.39 L83.40,524.18 L83.90,524.73 L84.40,523.55 L84.90,524.34 L85.40,523.86 L85.90,524.17 L86.40,523.80 L86.90,524.89 L87.40,524.67 L87.90,525.15 L88.40,524.89 L88.90,524.87 L89.40,525.62 L89.90,525.44 L90.40,524.94 L90.90,524.45 L91.40,525.82 L91.90,524.63 L92.40,524.08 L92.90,524.63 L93.40,525.49 L93.90,526.02 L94.40,525.43 L94.90,525.50 L95.40,526.14 L95.90,525.83 L96.40,525.13 L96.90,525.20 L97.40,525.89 L97.90,524.95 L98.40,524.52 L98.90,525.67 L99.40,526.12 L99.90,524.92 L100.40,525.90 L100.90,526.39 L101.40,524.74 L101.90,524.78 L102.40,525.60 L102.90,525.28 L103.40,526.66 L103.90,526.79 L104.40,525.60 L104.90,526.39 L105.40,526.06 L105.90,525.08 L106.40,526.86 L106.90,525.13 L107.40,524.93 L107.90,525.79 L108.40,524.85 L108.90,525.89 L109.40,525.76 L109.90,526.98 L110.40,525.81 L110.90,526.79 L111.40,526.66 L111.90,526.25 L112.40,525.51 L112.90,525.68 L113.40,526.11 L113.90,525.91 L114.40,526.48 L114.90,526.19 L115.40,525.81 L115.90,526.46 L116.40,527.33 L116.90,525.60 L117.40,525.91 L117.90,525.22 L118.40,525.42 L118.90,525.35 L119.40,526.17 L119.90,527.10 L120.40,526.81 L120.90,527.42 L121.40,527.15 L121.90,526.61 L122.40,526.62 L122.90,525.38 L123.40,526.22 L123.90,525.96 L124.40,526.77 L124.90,525.56 L125.40,526.62 L125.90,526.27 L126.40,526.54 L126.90,526.36 L127.40,525.71 L127.90,527.11 L128.40,527.28 L128.90,526.84 L129.40,525.80 L129.90,526.87 L130.40,527.48 L130.90,527.75 L131.40,527.26 L131.90,525.71 L132.40,527.55 L132.90,527.09 L133.40,526.25 L133.90,527.68 L134.40,527.48 L134.90,527.65 L135.40,526.23 L135.90,526.97 L136.40,526.54 L136.90,526.37 L137.40,527.41 L137.90,527.10 L138.40,526.48 L138.90,526.96 L139.40,527.82 L139.90,527.03 L140.40,527.81 L140.90,527.05 L141.40,528.00 L141.90,525.89 L142.40,526.85 L142.90,527.06 L143.40,527.45 L143.90,528.00 L144.40,527.24 L144.90,526.93 L145.40,527.29 L145.90,527.07 L146.40,527.46 L146.90,528.00 L147.40,525.96 L147.90,526.64 L148.40,527.87 L148.90,526.08 L149.40,527.70 L149.90,526.04 L150.40,527.40 L150.90,527.75 L151.40,526.52 L151.90,526.84 L152.40,526.51 L152.90,527.57 L153.40,527.19 L153.90,527.36 L154.40,526.76 L154.90,527.34 L155.40,528.15 L155.90,527.77 L156.40,528.16 L156.90,526.62 L157.40,527.22 L157.90,526.94 L158.40,526.86 L158.90,527.87 L159.40,526.49 L159.90,527.34 L160.40,527.82 L160.90,528.19 L161.40,526.18 L161.90,526.74 L162.40,527.23 L162.90,528.21 L163.40,526.52 L163.90,528.01 L164.40,527.04 L164.90,527.38 L165.40,528.22 L165.90,526.33 L166.40,526.92 L166.90,526.54 L167.40,526.50 L167.80,526.50" stroke="#000" stroke-width="1.45" fill="none" stroke-linejoin="round"/>
<path d="M45.49,557.00 L48.00,543.00 L48.20,521.01 L48.40,519.56 L48.70,518.64 L49.00,517.87 L49.30,517.23 L49.60,516.74 L49.90,516.38 L50.20,516.17 L50.50,516.10 L50.50,516.10 L51.10,516.22 L51.70,516.50 L52.30,516.86 L52.90,517.23 L53.50,517.60 L54.10,517.97 L54.70,518.33 L55.30,518.67 L55.90,519.00 L56.50,519.25 L57.10,519.69 L57.70,519.94 L58.30,520.02 L58.90,520.59 L59.40,520.66 L59.90,520.68 L60.40,521.24 L60.90,521.44 L61.40,521.27 L61.90,521.89 L62.40,521.99 L62.90,521.76 L63.40,521.75 L63.90,522.53 L64.40,522.65 L64.90,522.23 L65.40,522.90 L65.90,523.05 L66.40,523.06 L66.90,523.37 L67.40,523.64 L67.90,523.14 L68.40,523.75 L68.90,523.95 L69.40,523.44 L69.90,523.93 L70.40,524.03 L70.90,524.32 L71.40,524.09 L71.90,523.84 L72.40,523.89 L72.90,524.33 L73.40,523.90 L73.90,524.90 L74.40,525.02 L74.90,524.24 L75.40,524.93 L75.90,524.97 L76.40,524.25 L76.90,525.26 L77.40,525.32 L77.90,524.69 L78.40,524.43 L78.90,524.76 L79.40,525.59 L79.90,525.16 L80.40,525.79 L80.90,524.75 L81.40,524.70 L81.90,525.16 L82.40,526.14 L82.90,524.92 L83.40,524.79 L83.90,526.07 L84.40,524.89 L84.90,526.01 L85.40,524.94 L85.90,525.29 L86.40,526.14 L86.90,526.61 L87.40,525.71 L87.90,525.83 L88.40,524.99 L88.90,525.67 L89.40,525.49 L89.90,526.70 L90.40,526.58 L90.90,526.77 L91.40,526.24 L91.90,526.64 L92.40,525.41 L92.90,526.01 L93.40,525.84 L93.90,525.84 L94.40,526.88 L94.90,525.75 L95.40,526.02 L95.90,525.95 L96.40,527.26 L96.90,526.79 L97.40,526.47 L97.90,526.27 L98.40,527.48 L98.90,527.55 L99.40,526.49 L99.90,526.77 L100.40,527.45 L100.90,526.14 L101.40,526.16 L101.90,525.84 L102.40,526.74 L102.90,527.35 L103.40,526.02 L103.90,526.65 L104.40,527.90 L104.90,526.80 L105.40,526.60 L105.90,527.62 L106.40,527.76 L106.90,526.64 L107.40,526.10 L107.90,527.25 L108.40,527.49 L108.90,527.91 L109.40,527.35 L109.90,526.59 L110.40,527.07 L110.90,526.58 L111.40,526.95 L111.90,527.01 L112.40,528.00 L112.90,528.01 L113.40,528.07 L113.90,527.09 L114.40,528.18 L114.90,526.38 L115.40,528.11 L115.90,527.51 L116.40,528.03 L116.90,527.04 L117.40,528.32 L117.90,526.21 L118.40,528.03 L118.90,527.98 L119.40,527.02 L119.90,528.03 L120.40,526.69 L120.90,527.89 L121.40,527.27 L121.90,527.16 L122.40,526.70 L122.90,528.04 L123.40,527.90 L123.90,526.50 L124.40,528.47 L124.90,526.81 L125.40,527.16 L125.90,527.26 L126.40,527.63 L126.90,528.33 L127.40,528.46 L127.90,527.78 L128.40,527.20 L128.90,526.65 L129.40,526.57 L129.90,527.57 L130.40,527.72 L130.90,527.43 L131.40,528.62 L131.90,527.38 L132.40,527.25 L132.90,527.41 L133.40,526.87 L133.90,528.57 L134.40,527.81 L134.90,527.72 L135.40,527.47 L135.90,527.09 L136.40,527.24 L136.90,527.64 L137.40,527.55 L137.90,528.73 L138.40,527.82 L138.90,527.05 L139.40,526.72 L139.90,526.96 L140.40,527.37 L140.90,528.34 L141.40,528.59 L141.90,527.16 L142.40,528.36 L142.90,527.62 L143.40,527.84 L143.90,527.84 L144.40,526.77 L144.90,526.83 L145.40,528.16 L145.90,528.21 L146.40,527.54 L146.90,528.73 L147.40,528.52 L147.90,527.38 L148.40,526.87 L148.90,527.95 L149.40,528.18 L149.90,527.24 L150.40,526.85 L150.90,527.83 L151.40,526.84 L151.90,528.39 L152.40,528.15 L152.90,527.40 L153.40,527.77 L153.90,527.31 L154.40,527.21 L154.90,527.20 L155.40,528.60 L155.90,527.81 L156.40,528.39 L156.90,527.59 L157.40,528.61 L157.90,528.15 L158.40,528.28 L158.90,527.71 L159.40,528.09 L159.90,527.28 L160.40,529.00 L160.90,528.34 L161.40,528.04 L161.90,528.28 L162.40,527.10 L162.90,527.62 L163.40,527.40 L163.90,528.75 L164.40,526.93 L164.90,527.88 L165.40,528.82 L165.90,528.63 L166.40,528.50 L166.90,527.58 L167.40,527.44 L167.80,527.44" stroke="#000" stroke-width="1.45" fill="none" stroke-linejoin="round"/>
<path d="M45.78,557.00 L48.00,543.00 L48.20,524.18 L48.40,523.06 L48.70,522.33 L49.00,521.69 L49.30,521.14 L49.60,520.67 L49.90,520.30 L50.20,520.02 L50.50,519.82 L50.80,519.72 L51.00,519.70 L51.60,519.77 L52.20,519.96 L52.80,520.20 L53.40,520.47 L54.00,520.74 L54.60,521.02 L55.20,521.28 L55.80,521.54 L56.40,521.79 L57.00,522.10 L57.60,522.19 L58.20,522.57 L58.80,522.63 L59.40,523.02 L59.90,523.10 L60.40,523.39 L60.90,523.64 L61.40,523.45 L61.90,523.95 L62.40,523.49 L62.90,524.17 L63.40,523.73 L63.90,524.21 L64.40,524.21 L64.90,524.61 L65.40,524.37 L65.90,524.38 L66.40,524.97 L66.90,524.87 L67.40,525.15 L67.90,525.00 L68.40,524.66 L68.90,525.45 L69.40,524.98 L69.90,525.32 L70.40,524.89 L70.90,525.24 L71.40,525.76 L71.90,525.95 L72.40,525.88 L72.90,525.71 L73.40,526.13 L73.90,526.12 L74.40,525.59 L74.90,526.07 L75.40,526.21 L75.90,526.45 L76.40,525.77 L76.90,525.97 L77.40,526.07 L77.90,525.75 L78.40,526.16 L78.90,526.79 L79.40,526.60 L79.90,526.01 L80.40,526.94 L80.90,525.98 L81.40,527.07 L81.90,526.09 L82.40,526.03 L82.90,526.33 L83.40,526.83 L83.90,526.42 L84.40,527.58 L84.90,527.72 L85.40,526.53 L85.90,527.45 L86.40,527.38 L86.90,527.15 L87.40,526.57 L87.90,528.00 L88.40,528.06 L88.90,526.13 L89.40,526.81 L89.90,526.82 L90.40,526.57 L90.90,527.10 L91.40,528.15 L91.90,526.25 L92.40,528.06 L92.90,526.93 L93.40,526.30 L93.90,528.27 L94.40,526.91 L94.90,526.80 L95.40,526.62 L95.90,527.19 L96.40,526.66 L96.90,526.81 L97.40,526.99 L97.90,527.73 L98.40,527.46 L98.90,527.17 L99.40,527.67 L99.90,528.23 L100.40,528.14 L100.90,527.32 L101.40,528.60 L101.90,528.34 L102.40,527.85 L102.90,527.68 L103.40,527.37 L103.90,526.96 L104.40,528.63 L104.90,528.03 L105.40,526.93 L105.90,528.76 L106.40,528.69 L106.90,526.83 L107.40,528.31 L107.90,527.30 L108.40,527.97 L108.90,528.64 L109.40,527.59 L109.90,527.93 L110.40,528.31 L110.90,527.28 L111.40,528.25 L111.90,527.82 L112.40,529.06 L112.90,527.32 L113.40,528.48 L113.90,527.02 L114.40,527.55 L114.90,527.21 L115.40,527.29 L115.90,528.14 L116.40,527.37 L116.90,528.75 L117.40,527.22 L117.90,528.39 L118.40,528.92 L118.90,527.32 L119.40,527.53 L119.90,528.74 L120.40,528.10 L120.90,529.13 L121.40,527.83 L121.90,527.97 L122.40,529.21 L122.90,527.87 L123.40,529.25 L123.90,529.09 L124.40,527.58 L124.90,528.35 L125.40,529.23 L125.90,527.43 L126.40,529.04 L126.90,528.89 L127.40,528.84 L127.90,528.52 L128.40,527.43 L128.90,529.32 L129.40,527.45 L129.90,528.95 L130.40,528.83 L130.90,527.94 L131.40,528.76 L131.90,528.16 L132.40,528.92 L132.90,527.37 L133.40,529.34 L133.90,528.13 L134.40,529.06 L134.90,528.34 L135.40,529.10 L135.90,527.98 L136.40,528.52 L136.90,527.38 L137.40,528.41 L137.90,527.52 L138.40,529.24 L138.90,528.84 L139.40,528.30 L139.90,529.51 L140.40,529.45 L140.90,529.48 L141.40,527.57 L141.90,528.94 L142.40,529.00 L142.90,528.73 L143.40,527.44 L143.90,529.44 L144.40,528.38 L144.90,528.73 L145.40,529.22 L145.90,528.04 L146.40,527.50 L146.90,529.47 L147.40,528.04 L147.90,527.54 L148.40,527.76 L148.90,529.65 L149.40,529.10 L149.90,527.93 L150.40,527.80 L150.90,529.46 L151.40,528.95 L151.90,528.77 L152.40,527.78 L152.90,528.41 L153.40,529.59 L153.90,527.52 L154.40,528.44 L154.90,527.64 L155.40,529.72 L155.90,527.76 L156.40,529.63 L156.90,529.39 L157.40,529.15 L157.90,527.64 L158.40,529.08 L158.90,528.64 L159.40,528.64 L159.90,527.88 L160.40,528.69 L160.90,529.33 L161.40,527.86 L161.90,529.50 L162.40,528.50 L162.90,528.17 L163.40,528.11 L163.90,528.60 L164.40,529.02 L164.90,528.85 L165.40,529.56 L165.90,528.73 L166.40,528.73 L166.90,529.78 L167.40,528.08 L167.80,528.08" stroke="#000" stroke-width="1.45" fill="none" stroke-linejoin="round"/>
<path d="M46.06,557.00 L48.00,543.00 L48.20,527.34 L48.40,526.47 L48.70,525.89 L49.00,525.36 L49.30,524.90 L49.60,524.49 L49.90,524.15 L50.20,523.86 L50.50,523.63 L50.80,523.46 L51.10,523.35 L51.40,523.30 L51.50,523.30 L52.10,523.34 L52.70,523.45 L53.30,523.60 L53.90,523.77 L54.50,523.95 L55.10,524.13 L55.70,524.31 L56.30,524.49 L56.90,524.66 L57.50,524.66 L58.10,524.91 L58.70,525.05 L59.30,525.11 L59.90,525.37 L60.40,525.30 L60.90,525.85 L61.40,525.73 L61.90,526.05 L62.40,526.05 L62.90,526.17 L63.40,526.29 L63.90,526.07 L64.40,526.45 L64.90,526.15 L65.40,526.49 L65.90,526.60 L66.40,526.82 L66.90,526.39 L67.40,526.60 L67.90,527.09 L68.40,527.15 L68.90,527.38 L69.40,526.61 L69.90,526.75 L70.40,526.69 L70.90,527.39 L71.40,527.47 L71.90,527.42 L72.40,527.62 L72.90,527.37 L73.40,527.47 L73.90,527.96 L74.40,527.67 L74.90,527.72 L75.40,527.68 L75.90,527.59 L76.40,527.99 L76.90,527.78 L77.40,527.18 L77.90,527.64 L78.40,527.67 L78.90,527.71 L79.40,527.94 L79.90,527.66 L80.40,527.73 L80.90,527.82 L81.40,527.75 L81.90,528.78 L82.40,527.32 L82.90,527.21 L83.40,528.46 L83.90,527.91 L84.40,528.03 L84.90,528.31 L85.40,527.92 L85.90,527.70 L86.40,527.28 L86.90,528.96 L87.40,529.12 L87.90,527.85 L88.40,528.22 L88.90,527.95 L89.40,527.41 L89.90,529.18 L90.40,529.09 L90.90,527.83 L91.40,527.87 L91.90,528.86 L92.40,529.09 L92.90,528.39 L93.40,528.22 L93.90,527.90 L94.40,529.16 L94.90,529.32 L95.40,529.32 L95.90,527.70 L96.40,528.77 L96.90,529.64 L97.40,529.06 L97.90,528.51 L98.40,527.84 L98.90,527.66 L99.40,529.15 L99.90,527.70 L100.40,529.35 L100.90,529.04 L101.40,528.63 L101.90,529.56 L102.40,529.66 L102.90,528.98 L103.40,527.85 L103.90,528.94 L104.40,528.58 L104.90,528.22 L105.40,529.72 L105.90,529.29 L106.40,527.97 L106.90,528.21 L107.40,528.47 L107.90,528.99 L108.40,528.45 L108.90,528.71 L109.40,529.54 L109.90,528.16 L110.40,529.36 L110.90,528.51 L111.40,529.87 L111.90,529.89 L112.40,528.53 L112.90,529.15 L113.40,528.07 L113.90,528.73 L114.40,529.21 L114.90,529.25 L115.40,528.61 L115.90,527.94 L116.40,528.14 L116.90,529.11 L117.40,528.26 L117.90,528.56 L118.40,529.26 L118.90,529.89 L119.40,529.05 L119.90,528.48 L120.40,529.21 L120.90,528.54 L121.40,529.66 L121.90,528.29 L122.40,528.53 L122.90,528.92 L123.40,529.96 L123.90,528.33 L124.40,528.40 L124.90,528.27 L125.40,528.46 L125.90,528.73 L126.40,528.87 L126.90,529.68 L127.40,528.90 L127.90,529.06 L128.40,528.89 L128.90,529.73 L129.40,530.02 L129.90,528.97 L130.40,530.07 L130.90,528.60 L131.40,530.20 L131.90,529.21 L132.40,529.56 L132.90,528.91 L133.40,528.67 L133.90,528.38 L134.40,530.03 L134.90,528.88 L135.40,529.63 L135.90,529.11 L136.40,529.26 L136.90,528.56 L137.40,528.50 L137.90,528.85 L138.40,529.62 L138.90,529.32 L139.40,528.13 L139.90,529.70 L140.40,529.09 L140.90,528.29 L141.40,528.72 L141.90,528.61 L142.40,529.96 L142.90,529.37 L143.40,528.88 L143.90,528.71 L144.40,528.81 L144.90,528.79 L145.40,528.94 L145.90,529.92 L146.40,529.92 L146.90,529.72 L147.40,530.14 L147.90,529.63 L148.40,528.45 L148.90,528.30 L149.40,528.56 L149.90,528.77 L150.40,529.37 L150.90,530.02 L151.40,529.50 L151.90,529.16 L152.40,528.75 L152.90,530.38 L153.40,529.89 L153.90,528.98 L154.40,528.33 L154.90,530.40 L155.40,528.80 L155.90,530.11 L156.40,528.50 L156.90,529.68 L157.40,529.04 L157.90,530.21 L158.40,528.91 L158.90,528.48 L159.40,528.70 L159.90,530.04 L160.40,530.42 L160.90,529.68 L161.40,529.77 L161.90,528.90 L162.40,528.88 L162.90,528.47 L163.40,530.45 L163.90,528.38 L164.40,529.63 L164.90,529.06 L165.40,528.70 L165.90,529.25 L166.40,530.34 L166.90,528.84 L167.40,528.66 L167.80,528.66" stroke="#000" stroke-width="1.45" fill="none" stroke-linejoin="round"/>
<path d="M46.35,557.00 L48.00,543.00 L48.20,530.25 L48.40,529.55 L48.70,529.08 L49.00,528.65 L49.30,528.26 L49.60,527.91 L49.90,527.61 L50.20,527.34 L50.50,527.11 L50.80,526.93 L51.10,526.78 L51.40,526.68 L51.70,526.62 L52.00,526.60 L52.00,526.60 L52.60,526.62 L53.20,526.67 L53.80,526.75 L54.40,526.85 L55.00,526.94 L55.60,527.04 L56.20,527.15 L56.80,527.24 L57.40,527.34 L58.00,527.48 L58.60,527.58 L59.20,527.62 L59.80,527.56 L60.40,527.95 L60.90,527.65 L61.40,527.73 L61.90,527.82 L62.40,528.03 L62.90,528.06 L63.40,528.16 L63.90,528.33 L64.40,528.50 L64.90,528.26 L65.40,527.99 L65.90,528.63 L66.40,528.04 L66.90,528.31 L67.40,528.20 L67.90,528.63 L68.40,528.83 L68.90,528.27 L69.40,528.46 L69.90,529.03 L70.40,528.91 L70.90,528.35 L71.40,528.98 L71.90,529.14 L72.40,528.74 L72.90,528.48 L73.40,529.09 L73.90,528.71 L74.40,528.50 L74.90,528.55 L75.40,528.87 L75.90,528.53 L76.40,528.89 L76.90,529.14 L77.40,529.16 L77.90,528.97 L78.40,529.57 L78.90,528.54 L79.40,528.91 L79.90,529.85 L80.40,529.77 L80.90,529.89 L81.40,529.67 L81.90,529.32 L82.40,529.75 L82.90,529.41 L83.40,528.64 L83.90,528.89 L84.40,528.62 L84.90,530.03 L85.40,529.03 L85.90,529.20 L86.40,529.46 L86.90,528.63 L87.40,529.81 L87.90,530.01 L88.40,530.03 L88.90,530.22 L89.40,529.08 L89.90,528.73 L90.40,530.03 L90.90,529.90 L91.40,529.22 L91.90,529.17 L92.40,528.76 L92.90,530.26 L93.40,529.45 L93.90,530.24 L94.40,529.21 L94.90,529.17 L95.40,529.61 L95.90,530.13 L96.40,530.44 L96.90,529.28 L97.40,530.04 L97.90,529.41 L98.40,530.42 L98.90,530.21 L99.40,529.76 L99.90,529.35 L100.40,529.16 L100.90,530.51 L101.40,530.33 L101.90,529.25 L102.40,528.77 L102.90,529.02 L103.40,530.72 L103.90,528.69 L104.40,530.39 L104.90,529.78 L105.40,529.84 L105.90,529.81 L106.40,529.54 L106.90,529.86 L107.40,528.84 L107.90,530.67 L108.40,528.88 L108.90,528.97 L109.40,530.15 L109.90,530.08 L110.40,530.45 L110.90,530.21 L111.40,530.73 L111.90,528.81 L112.40,528.72 L112.90,529.22 L113.40,530.42 L113.90,529.05 L114.40,529.88 L114.90,530.41 L115.40,529.07 L115.90,529.89 L116.40,530.71 L116.90,530.38 L117.40,529.62 L117.90,529.80 L118.40,529.36 L118.90,530.87 L119.40,530.48 L119.90,530.26 L120.40,529.44 L120.90,530.38 L121.40,529.84 L121.90,530.53 L122.40,529.58 L122.90,530.72 L123.40,530.29 L123.90,529.78 L124.40,530.03 L124.90,530.57 L125.40,529.97 L125.90,530.92 L126.40,528.82 L126.90,530.79 L127.40,530.39 L127.90,529.90 L128.40,530.69 L128.90,529.15 L129.40,529.57 L129.90,530.40 L130.40,530.65 L130.90,529.66 L131.40,531.03 L131.90,530.27 L132.40,528.95 L132.90,529.12 L133.40,529.02 L133.90,530.11 L134.40,529.57 L134.90,529.43 L135.40,529.85 L135.90,529.04 L136.40,530.87 L136.90,530.71 L137.40,530.10 L137.90,529.85 L138.40,529.56 L138.90,530.21 L139.40,529.65 L139.90,531.03 L140.40,530.99 L140.90,530.49 L141.40,530.71 L141.90,529.06 L142.40,529.17 L142.90,529.66 L143.40,529.18 L143.90,529.83 L144.40,531.08 L144.90,530.74 L145.40,531.02 L145.90,529.40 L146.40,529.40 L146.90,528.97 L147.40,529.52 L147.90,529.05 L148.40,530.08 L148.90,529.59 L149.40,530.41 L149.90,530.16 L150.40,530.24 L150.90,529.59 L151.40,530.55 L151.90,530.45 L152.40,530.51 L152.90,529.98 L153.40,529.96 L153.90,529.57 L154.40,529.03 L154.90,529.97 L155.40,530.30 L155.90,529.36 L156.40,530.84 L156.90,530.89 L157.40,530.83 L157.90,530.75 L158.40,530.03 L158.90,529.35 L159.40,529.56 L159.90,530.59 L160.40,531.13 L160.90,529.21 L161.40,528.98 L161.90,529.75 L162.40,529.74 L162.90,530.29 L163.40,529.22 L163.90,530.83 L164.40,529.72 L164.90,530.98 L165.40,529.70 L165.90,529.65 L166.40,529.37 L166.90,531.11 L167.40,530.28 L167.80,530.28" stroke="#000" stroke-width="1.45" fill="none" stroke-linejoin="round"/>
<path d="M46.64,557.00 L48.00,543.00 L48.20,533.15 L48.40,532.60 L48.70,532.22 L49.00,531.87 L49.30,531.54 L49.60,531.25 L49.90,530.99 L50.20,530.75 L50.50,530.54 L50.80,530.36 L51.10,530.21 L51.40,530.09 L51.70,530.00 L52.00,529.94 L52.30,529.91 L52.50,529.90 L53.10,529.90 L53.70,529.92 L54.30,529.93 L54.90,529.96 L55.50,529.98 L56.10,530.00 L56.70,530.03 L57.30,530.05 L57.90,530.08 L58.50,530.21 L59.10,529.96 L59.70,530.16 L60.30,530.27 L60.90,530.41 L61.40,530.42 L61.90,530.01 L62.40,530.16 L62.90,530.53 L63.40,530.28 L63.90,530.56 L64.40,530.13 L64.90,529.98 L65.40,530.63 L65.90,530.15 L66.40,530.38 L66.90,530.24 L67.40,530.42 L67.90,530.74 L68.40,530.77 L68.90,530.73 L69.40,530.17 L69.90,530.72 L70.40,529.94 L70.90,530.34 L71.40,530.90 L71.90,530.18 L72.40,530.30 L72.90,530.55 L73.40,530.16 L73.90,530.72 L74.40,530.66 L74.90,529.99 L75.40,531.02 L75.90,529.95 L76.40,530.76 L76.90,530.31 L77.40,530.03 L77.90,529.93 L78.40,531.23 L78.90,530.97 L79.40,530.47 L79.90,530.98 L80.40,531.27 L80.90,531.21 L81.40,530.61 L81.90,530.19 L82.40,530.59 L82.90,531.37 L83.40,530.96 L83.90,530.87 L84.40,531.18 L84.90,530.42 L85.40,530.69 L85.90,531.23 L86.40,530.03 L86.90,531.27 L87.40,529.69 L87.90,530.67 L88.40,530.75 L88.90,529.90 L89.40,531.47 L89.90,530.49 L90.40,529.96 L90.90,530.43 L91.40,530.82 L91.90,530.47 L92.40,529.54 L92.90,529.73 L93.40,531.10 L93.90,529.82 L94.40,530.10 L94.90,531.32 L95.40,531.44 L95.90,531.48 L96.40,529.93 L96.90,529.56 L97.40,531.21 L97.90,530.87 L98.40,530.36 L98.90,529.60 L99.40,530.51 L99.90,530.08 L100.40,530.85 L100.90,531.72 L101.40,530.03 L101.90,529.73 L102.40,531.10 L102.90,529.81 L103.40,530.06 L103.90,530.54 L104.40,531.74 L104.90,530.29 L105.40,530.27 L105.90,530.62 L106.40,529.94 L106.90,530.47 L107.40,531.12 L107.90,530.30 L108.40,531.34 L108.90,529.99 L109.40,529.81 L109.90,530.97 L110.40,530.59 L110.90,531.61 L111.40,529.83 L111.90,531.24 L112.40,531.07 L112.90,530.41 L113.40,529.88 L113.90,530.95 L114.40,531.27 L114.90,530.64 L115.40,530.64 L115.90,531.11 L116.40,530.95 L116.90,530.54 L117.40,530.02 L117.90,530.63 L118.40,530.82 L118.90,531.58 L119.40,531.80 L119.90,530.84 L120.40,530.34 L120.90,530.11 L121.40,531.00 L121.90,531.24 L122.40,530.16 L122.90,531.14 L123.40,531.82 L123.90,530.48 L124.40,531.69 L124.90,530.58 L125.40,531.06 L125.90,531.53 L126.40,530.07 L126.90,530.39 L127.40,531.79 L127.90,529.77 L128.40,530.30 L128.90,530.68 L129.40,531.27 L129.90,531.02 L130.40,531.68 L130.90,531.11 L131.40,529.64 L131.90,529.79 L132.40,529.72 L132.90,530.59 L133.40,529.70 L133.90,530.79 L134.40,531.03 L134.90,530.08 L135.40,531.52 L135.90,530.55 L136.40,531.75 L136.90,530.43 L137.40,531.01 L137.90,530.84 L138.40,530.22 L138.90,531.36 L139.40,529.65 L139.90,530.19 L140.40,530.35 L140.90,531.59 L141.40,530.75 L141.90,529.73 L142.40,530.31 L142.90,530.99 L143.40,531.43 L143.90,529.89 L144.40,531.37 L144.90,530.51 L145.40,530.80 L145.90,530.58 L146.40,530.62 L146.90,531.83 L147.40,531.68 L147.90,531.67 L148.40,531.27 L148.90,531.20 L149.40,529.97 L149.90,529.73 L150.40,531.48 L150.90,531.14 L151.40,531.05 L151.90,530.35 L152.40,530.25 L152.90,531.69 L153.40,530.83 L153.90,529.70 L154.40,530.41 L154.90,530.43 L155.40,529.81 L155.90,531.81 L156.40,531.65 L156.90,531.46 L157.40,529.67 L157.90,530.58 L158.40,529.91 L158.90,531.26 L159.40,531.45 L159.90,531.40 L160.40,531.41 L160.90,529.93 L161.40,529.70 L161.90,529.87 L162.40,531.52 L162.90,531.49 L163.40,530.80 L163.90,530.18 L164.40,531.55 L164.90,529.93 L165.40,530.38 L165.90,529.67 L166.40,531.83 L166.90,530.58 L167.40,531.37 L167.80,531.37" stroke="#000" stroke-width="1.45" fill="none" stroke-linejoin="round"/>
<path d="M46.92,557.00 L48.00,543.00 L48.20,534.12 L48.40,533.64 L48.70,533.31 L49.00,533.00 L49.30,532.71 L49.60,532.44 L49.90,532.20 L50.20,531.98 L50.50,531.78 L50.80,531.60 L51.10,531.45 L51.40,531.32 L51.70,531.21 L52.00,531.12 L52.30,531.06 L52.60,531.02 L52.90,531.00 L53.00,531.00 L53.60,531.00 L54.20,531.01 L54.80,531.01 L55.40,531.02 L56.00,531.03 L56.60,531.04 L57.20,531.05 L57.80,531.06 L58.40,531.08 L59.00,531.19 L59.60,531.13 L60.20,531.30 L60.80,531.23 L61.40,531.32 L61.90,531.36 L62.40,530.92 L62.90,531.28 L63.40,531.00 L63.90,531.05 L64.40,531.06 L64.90,531.49 L65.40,530.88 L65.90,531.14 L66.40,530.91 L66.90,531.57 L67.40,531.19 L67.90,531.37 L68.40,531.22 L68.90,531.44 L69.40,531.07 L69.90,531.14 L70.40,531.46 L70.90,531.43 L71.40,531.62 L71.90,531.04 L72.40,531.61 L72.90,531.50 L73.40,531.33 L73.90,531.14 L74.40,531.33 L74.90,530.75 L75.40,530.76 L75.90,531.02 L76.40,530.78 L76.90,530.67 L77.40,531.56 L77.90,531.59 L78.40,531.44 L78.90,530.86 L79.40,531.60 L79.90,531.76 L80.40,531.46 L80.90,530.87 L81.40,531.39 L81.90,531.12 L82.40,530.92 L82.90,530.72 L83.40,531.90 L83.90,531.52 L84.40,532.05 L84.90,530.72 L85.40,530.88 L85.90,531.32 L86.40,530.50 L86.90,530.94 L87.40,531.38 L87.90,531.27 L88.40,532.11 L88.90,531.47 L89.40,531.59 L89.90,531.49 L90.40,531.90 L90.90,531.04 L91.40,530.26 L91.90,532.35 L92.40,531.95 L92.90,530.50 L93.40,530.47 L93.90,530.71 L94.40,531.67 L94.90,530.51 L95.40,530.27 L95.90,531.32 L96.40,530.24 L96.90,530.80 L97.40,531.07 L97.90,530.68 L98.40,530.24 L98.90,530.81 L99.40,530.77 L99.90,530.95 L100.40,531.15 L100.90,531.03 L101.40,530.95 L101.90,530.28 L102.40,532.08 L102.90,531.87 L103.40,531.33 L103.90,530.25 L104.40,530.76 L104.90,532.23 L105.40,531.25 L105.90,530.70 L106.40,532.05 L106.90,532.21 L107.40,530.52 L107.90,531.35 L108.40,531.48 L108.90,530.51 L109.40,530.95 L109.90,531.61 L110.40,531.73 L110.90,531.63 L111.40,531.62 L111.90,531.08 L112.40,530.40 L112.90,530.29 L113.40,532.10 L113.90,532.16 L114.40,532.25 L114.90,530.42 L115.40,531.95 L115.90,530.64 L116.40,531.02 L116.90,530.70 L117.40,532.15 L117.90,532.06 L118.40,532.09 L118.90,531.10 L119.40,532.32 L119.90,530.83 L120.40,531.52 L120.90,531.74 L121.40,530.78 L121.90,531.10 L122.40,530.48 L122.90,532.02 L123.40,530.67 L123.90,530.56 L124.40,530.88 L124.90,531.67 L125.40,531.67 L125.90,531.42 L126.40,532.14 L126.90,531.92 L127.40,530.73 L127.90,531.44 L128.40,530.64 L128.90,530.80 L129.40,530.59 L129.90,530.44 L130.40,531.04 L130.90,532.22 L131.40,531.71 L131.90,530.46 L132.40,530.75 L132.90,531.57 L133.40,531.44 L133.90,530.33 L134.40,530.48 L134.90,531.52 L135.40,531.60 L135.90,530.45 L136.40,531.97 L136.90,530.80 L137.40,531.57 L137.90,531.44 L138.40,531.02 L138.90,532.36 L139.40,531.15 L139.90,531.21 L140.40,531.46 L140.90,532.12 L141.40,532.45 L141.90,531.97 L142.40,531.46 L142.90,531.85 L143.40,531.68 L143.90,532.39 L144.40,532.41 L144.90,531.95 L145.40,530.75 L145.90,531.53 L146.40,531.25 L146.90,530.79 L147.40,532.00 L147.90,530.77 L148.40,531.84 L148.90,531.36 L149.40,531.22 L149.90,531.83 L150.40,531.88 L150.90,532.46 L151.40,532.48 L151.90,532.04 L152.40,530.86 L152.90,531.75 L153.40,531.37 L153.90,532.35 L154.40,531.27 L154.90,531.07 L155.40,530.34 L155.90,531.32 L156.40,531.45 L156.90,530.96 L157.40,530.51 L157.90,531.35 L158.40,530.44 L158.90,530.66 L159.40,531.26 L159.90,531.05 L160.40,531.38 L160.90,531.45 L161.40,531.14 L161.90,530.58 L162.40,530.33 L162.90,531.52 L163.40,532.42 L163.90,530.90 L164.40,531.06 L164.90,530.99 L165.40,531.92 L165.90,531.37 L166.40,532.04 L166.90,530.30 L167.40,530.58 L167.80,530.58" stroke="#000" stroke-width="1.45" fill="none" stroke-linejoin="round"/>
<path d="M47.21,557.00 L48.00,543.00 L48.20,535.00 L48.40,534.58 L48.70,534.28 L49.00,534.01 L49.30,533.75 L49.60,533.51 L49.90,533.29 L50.20,533.08 L50.50,532.89 L50.80,532.72 L51.10,532.57 L51.40,532.44 L51.70,532.32 L52.00,532.22 L52.30,532.14 L52.60,532.08 L52.90,532.04 L53.20,532.01 L53.50,532.00 L53.50,532.00 L54.10,532.00 L54.70,532.00 L55.30,532.00 L55.90,532.00 L56.50,532.00 L57.10,532.00 L57.70,532.00 L58.30,532.00 L58.90,532.00 L59.50,531.90 L60.10,531.95 L60.70,531.96 L61.30,531.95 L61.90,532.22 L62.40,531.97 L62.90,532.04 L63.40,532.25 L63.90,532.08 L64.40,532.06 L64.90,532.21 L65.40,531.89 L65.90,531.68 L66.40,532.32 L66.90,532.03 L67.40,532.06 L67.90,531.66 L68.40,532.20 L68.90,531.89 L69.40,532.13 L69.90,531.80 L70.40,532.39 L70.90,531.87 L71.40,531.78 L71.90,532.40 L72.40,531.71 L72.90,531.76 L73.40,531.99 L73.90,532.54 L74.40,531.56 L74.90,531.66 L75.40,532.36 L75.90,531.48 L76.40,531.89 L76.90,532.36 L77.40,532.28 L77.90,532.39 L78.40,531.48 L78.90,532.54 L79.40,531.80 L79.90,532.46 L80.40,531.96 L80.90,532.59 L81.40,531.97 L81.90,531.62 L82.40,531.44 L82.90,531.99 L83.40,531.26 L83.90,531.44 L84.40,532.64 L84.90,532.13 L85.40,532.64 L85.90,531.38 L86.40,531.96 L86.90,531.94 L87.40,531.27 L87.90,531.55 L88.40,532.81 L88.90,532.44 L89.40,532.02 L89.90,532.22 L90.40,532.73 L90.90,532.93 L91.40,532.20 L91.90,531.05 L92.40,532.80 L92.90,531.27 L93.40,531.43 L93.90,531.20 L94.40,532.03 L94.90,532.18 L95.40,531.91 L95.90,531.93 L96.40,531.21 L96.90,532.48 L97.40,532.08 L97.90,531.58 L98.40,532.73 L98.90,532.97 L99.40,532.93 L99.90,533.07 L100.40,531.05 L100.90,531.75 L101.40,531.89 L101.90,531.46 L102.40,532.54 L102.90,532.89 L103.40,531.20 L103.90,532.01 L104.40,533.03 L104.90,532.86 L105.40,531.89 L105.90,531.13 L106.40,531.90 L106.90,532.04 L107.40,532.63 L107.90,531.31 L108.40,531.51 L108.90,533.07 L109.40,530.93 L109.90,532.24 L110.40,531.11 L110.90,532.55 L111.40,531.83 L111.90,532.94 L112.40,531.39 L112.90,532.83 L113.40,531.40 L113.90,531.00 L114.40,531.09 L114.90,531.07 L115.40,531.76 L115.90,533.04 L116.40,531.68 L116.90,532.48 L117.40,530.98 L117.90,532.03 L118.40,532.09 L118.90,531.12 L119.40,532.18 L119.90,531.88 L120.40,531.62 L120.90,532.73 L121.40,532.42 L121.90,531.16 L122.40,531.13 L122.90,531.02 L123.40,531.48 L123.90,532.30 L124.40,533.03 L124.90,533.03 L125.40,532.80 L125.90,531.17 L126.40,532.64 L126.90,532.58 L127.40,531.94 L127.90,533.09 L128.40,532.22 L128.90,531.16 L129.40,531.37 L129.90,531.19 L130.40,532.24 L130.90,532.27 L131.40,532.79 L131.90,530.92 L132.40,530.92 L132.90,533.04 L133.40,531.48 L133.90,531.48 L134.40,532.81 L134.90,531.14 L135.40,532.64 L135.90,532.87 L136.40,532.14 L136.90,532.24 L137.40,530.91 L137.90,532.23 L138.40,532.25 L138.90,532.60 L139.40,532.04 L139.90,531.15 L140.40,531.39 L140.90,532.34 L141.40,531.07 L141.90,531.14 L142.40,531.45 L142.90,532.65 L143.40,532.10 L143.90,531.69 L144.40,533.02 L144.90,532.18 L145.40,531.42 L145.90,532.14 L146.40,532.78 L146.90,531.71 L147.40,531.86 L147.90,532.17 L148.40,533.07 L148.90,532.30 L149.40,531.30 L149.90,532.18 L150.40,531.61 L150.90,531.94 L151.40,532.47 L151.90,530.94 L152.40,532.02 L152.90,531.59 L153.40,532.22 L153.90,532.71 L154.40,531.93 L154.90,532.29 L155.40,531.54 L155.90,531.46 L156.40,532.02 L156.90,532.07 L157.40,531.39 L157.90,532.58 L158.40,532.00 L158.90,531.68 L159.40,531.46 L159.90,532.74 L160.40,532.88 L160.90,532.96 L161.40,531.45 L161.90,531.06 L162.40,532.29 L162.90,530.95 L163.40,532.78 L163.90,532.39 L164.40,531.64 L164.90,531.87 L165.40,532.40 L165.90,531.25 L166.40,531.70 L166.90,532.63 L167.40,532.40 L167.80,532.40" stroke="#000" stroke-width="1.45" fill="none" stroke-linejoin="round"/>
<path d="M47.50,557.00 L48.00,543.00 L48.20,535.88 L48.40,535.51 L48.70,535.25 L49.00,535.00 L49.30,534.77 L49.60,534.55 L49.90,534.34 L50.20,534.16 L50.50,533.98 L50.80,533.82 L51.10,533.67 L51.40,533.54 L51.70,533.42 L52.00,533.32 L52.30,533.23 L52.60,533.16 L52.90,533.10 L53.20,533.05 L53.50,533.02 L53.80,533.00 L54.00,533.00 L54.60,533.00 L55.20,532.99 L55.80,532.99 L56.40,532.98 L57.00,532.97 L57.60,532.96 L58.20,532.95 L58.80,532.94 L59.40,532.93 L60.00,532.95 L60.60,532.77 L61.20,532.79 L61.80,532.79 L62.40,532.67 L62.90,532.94 L63.40,532.91 L63.90,533.09 L64.40,532.89 L64.90,533.10 L65.40,532.82 L65.90,532.85 L66.40,532.68 L66.90,532.80 L67.40,533.14 L67.90,532.80 L68.40,532.41 L68.90,532.68 L69.40,532.54 L69.90,532.90 L70.40,532.80 L70.90,532.76 L71.40,533.19 L71.90,533.03 L72.40,532.35 L72.90,532.28 L73.40,532.98 L73.90,532.87 L74.40,532.93 L74.90,532.75 L75.40,532.20 L75.90,532.69 L76.40,533.16 L76.90,532.87 L77.40,532.15 L77.90,532.24 L78.40,533.28 L78.90,532.79 L79.40,532.26 L79.90,533.02 L80.40,533.34 L80.90,533.26 L81.40,532.94 L81.90,533.19 L82.40,532.07 L82.90,532.65 L83.40,533.21 L83.90,532.45 L84.40,532.11 L84.90,533.33 L85.40,533.06 L85.90,531.84 L86.40,531.92 L86.90,532.80 L87.40,533.53 L87.90,532.91 L88.40,533.41 L88.90,531.93 L89.40,532.84 L89.90,532.06 L90.40,532.35 L90.90,531.97 L91.40,532.61 L91.90,531.74 L92.40,533.01 L92.90,532.99 L93.40,533.56 L93.90,533.27 L94.40,531.74 L94.90,533.49 L95.40,532.77 L95.90,533.63 L96.40,532.66 L96.90,531.75 L97.40,533.12 L97.90,531.95 L98.40,533.73 L98.90,532.75 L99.40,533.55 L99.90,532.65 L100.40,532.28 L100.90,533.02 L101.40,533.13 L101.90,532.58 L102.40,532.17 L102.90,532.49 L103.40,533.13 L103.90,532.06 L104.40,531.91 L104.90,532.62 L105.40,533.01 L105.90,531.70 L106.40,532.15 L106.90,533.69 L107.40,532.14 L107.90,533.25 L108.40,532.23 L108.90,531.74 L109.40,532.62 L109.90,533.46 L110.40,533.26 L110.90,531.66 L111.40,533.10 L111.90,532.91 L112.40,532.61 L112.90,533.01 L113.40,532.70 L113.90,531.95 L114.40,533.08 L114.90,531.83 L115.40,532.23 L115.90,533.42 L116.40,532.79 L116.90,532.67 L117.40,533.10 L117.90,532.63 L118.40,532.39 L118.90,532.76 L119.40,531.59 L119.90,532.31 L120.40,531.63 L120.90,533.73 L121.40,533.54 L121.90,532.98 L122.40,531.89 L122.90,533.42 L123.40,532.16 L123.90,533.31 L124.40,532.97 L124.90,532.87 L125.40,533.17 L125.90,532.12 L126.40,533.37 L126.90,532.73 L127.40,533.20 L127.90,533.38 L128.40,532.09 L128.90,532.44 L129.40,532.33 L129.90,531.70 L130.40,533.46 L130.90,533.04 L131.40,532.61 L131.90,532.73 L132.40,533.47 L132.90,531.68 L133.40,532.32 L133.90,533.04 L134.40,532.71 L134.90,532.62 L135.40,532.10 L135.90,532.02 L136.40,533.00 L136.90,532.28 L137.40,533.59 L137.90,533.51 L138.40,533.66 L138.90,532.13 L139.40,532.66 L139.90,531.76 L140.40,532.32 L140.90,531.69 L141.40,532.63 L141.90,533.63 L142.40,533.20 L142.90,532.32 L143.40,532.13 L143.90,533.57 L144.40,531.64 L144.90,533.38 L145.40,533.41 L145.90,531.67 L146.40,533.61 L146.90,532.94 L147.40,532.38 L147.90,532.46 L148.40,532.86 L148.90,532.68 L149.40,533.43 L149.90,533.49 L150.40,532.24 L150.90,531.54 L151.40,533.23 L151.90,532.94 L152.40,532.96 L152.90,531.68 L153.40,531.69 L153.90,533.50 L154.40,532.32 L154.90,532.56 L155.40,533.66 L155.90,531.95 L156.40,532.91 L156.90,531.65 L157.40,532.75 L157.90,533.14 L158.40,531.86 L158.90,533.19 L159.40,533.65 L159.90,533.33 L160.40,533.26 L160.90,533.60 L161.40,533.09 L161.90,532.72 L162.40,533.33 L162.90,533.29 L163.40,532.90 L163.90,532.99 L164.40,531.91 L164.90,532.26 L165.40,532.23 L165.90,533.40 L166.40,533.23 L166.90,532.15 L167.40,533.70 L167.80,533.70" stroke="#000" stroke-width="1.45" fill="none" stroke-linejoin="round"/>
<line x1="167.8" y1="508.7" x2="167.8" y2="558.2" stroke="#222" stroke-width="1.4"/>
<path d="M46.7,511.9 V557" stroke="#000" stroke-width="1.5" fill="none" />
<line x1="146.3" y1="93.4" x2="146.3" y2="134" stroke="#3a3a3a" stroke-width="1.5"/>
<text x="150.4" y="118.2" font-size="10.2" font-weight="normal" fill="#000" text-anchor="start" textLength="29.3" lengthAdjust="spacingAndGlyphs" >0.5 nA</text>
<line x1="114.7" y1="161.7" x2="161.5" y2="161.7" stroke="#333" stroke-width="1.4"/>
<text x="123" y="178.8" font-size="10.2" font-weight="normal" fill="#000" text-anchor="start" textLength="33.4" lengthAdjust="spacingAndGlyphs" >500 mS</text>
<text x="11.8" y="145.8" font-size="9.4" font-weight="normal" fill="#000" text-anchor="start" textLength="24.8" lengthAdjust="spacingAndGlyphs" >0.1 Hz</text>
<text x="12.3" y="222.5" font-size="9.4" font-weight="normal" fill="#000" text-anchor="start" textLength="19" lengthAdjust="spacingAndGlyphs" >1  Hz</text>
<line x1="147.4" y1="396.6" x2="147.4" y2="437" stroke="#3a3a3a" stroke-width="1.5"/>
<text x="151.8" y="416.7" font-size="10.2" font-weight="normal" fill="#000" text-anchor="start" textLength="28.7" lengthAdjust="spacingAndGlyphs" >0.5 nA</text>
<line x1="109.7" y1="466.5" x2="156.4" y2="466.5" stroke="#333" stroke-width="1.4"/>
<text x="116.6" y="483.3" font-size="10.2" font-weight="normal" fill="#000" text-anchor="start" textLength="32.9" lengthAdjust="spacingAndGlyphs" >500 mS</text>
<text x="12" y="449" font-size="9.4" font-weight="normal" fill="#000" text-anchor="start" textLength="24.3" lengthAdjust="spacingAndGlyphs" >0.1 Hz</text>
<text x="12.8" y="525.3" font-size="9.4" font-weight="normal" fill="#000" text-anchor="start" textLength="19" lengthAdjust="spacingAndGlyphs" >1  Hz</text>
<line x1="274.5" y1="65.3" x2="274.5" y2="204.9" stroke="#6a6a6a" stroke-width="1.3"/>
<line x1="274.5" y1="204.9" x2="434.5" y2="204.9" stroke="#6a6a6a" stroke-width="1.3"/>
<line x1="268.5" y1="65.3" x2="274.5" y2="65.3" stroke="#222" stroke-width="1.4"/>
<text x="264.9" y="69.0" font-size="10.4" font-weight="bold" fill="#111" text-anchor="end" textLength="13.8" lengthAdjust="spacingAndGlyphs" >15</text>
<line x1="268.5" y1="100.19999999999999" x2="274.5" y2="100.19999999999999" stroke="#222" stroke-width="1.4"/>
<text x="264.9" y="103.89999999999999" font-size="10.4" font-weight="bold" fill="#111" text-anchor="end" textLength="13.8" lengthAdjust="spacingAndGlyphs" >10</text>
<line x1="268.5" y1="135.1" x2="274.5" y2="135.1" stroke="#222" stroke-width="1.4"/>
<text x="264.9" y="138.79999999999998" font-size="10.4" font-weight="bold" fill="#111" text-anchor="end" textLength="6.6000000000000005" lengthAdjust="spacingAndGlyphs" >5</text>
<line x1="268.5" y1="170.0" x2="274.5" y2="170.0" stroke="#222" stroke-width="1.4"/>
<text x="264.9" y="173.7" font-size="10.4" font-weight="bold" fill="#111" text-anchor="end" textLength="6.6000000000000005" lengthAdjust="spacingAndGlyphs" >0</text>
<line x1="268.5" y1="204.9" x2="274.5" y2="204.9" stroke="#222" stroke-width="1.4"/>
<text x="264.9" y="208.6" font-size="10.4" font-weight="bold" fill="#111" text-anchor="end" textLength="15.200000000000001" lengthAdjust="spacingAndGlyphs" >−5</text>
<line x1="274.5" y1="204.9" x2="274.5" y2="210.4" stroke="#222" stroke-width="1.4"/>
<text x="274.5" y="222.3" font-size="10.4" font-weight="bold" fill="#111" text-anchor="middle" textLength="22.4" lengthAdjust="spacingAndGlyphs" >−40</text>
<line x1="306.5" y1="204.9" x2="306.5" y2="210.4" stroke="#222" stroke-width="1.4"/>
<text x="306.5" y="222.3" font-size="10.4" font-weight="bold" fill="#111" text-anchor="middle" textLength="22.4" lengthAdjust="spacingAndGlyphs" >−20</text>
<line x1="338.5" y1="204.9" x2="338.5" y2="210.4" stroke="#222" stroke-width="1.4"/>
<text x="338.5" y="222.3" font-size="10.4" font-weight="bold" fill="#111" text-anchor="middle" textLength="6.6000000000000005" lengthAdjust="spacingAndGlyphs" >0</text>
<line x1="370.5" y1="204.9" x2="370.5" y2="210.4" stroke="#222" stroke-width="1.4"/>
<text x="370.5" y="222.3" font-size="10.4" font-weight="bold" fill="#111" text-anchor="middle" textLength="13.8" lengthAdjust="spacingAndGlyphs" >20</text>
<line x1="402.5" y1="204.9" x2="402.5" y2="210.4" stroke="#222" stroke-width="1.4"/>
<text x="402.5" y="222.3" font-size="10.4" font-weight="bold" fill="#111" text-anchor="middle" textLength="13.8" lengthAdjust="spacingAndGlyphs" >40</text>
<line x1="434.5" y1="204.9" x2="434.5" y2="210.4" stroke="#222" stroke-width="1.4"/>
<text x="434.5" y="222.3" font-size="10.4" font-weight="bold" fill="#111" text-anchor="middle" textLength="13.8" lengthAdjust="spacingAndGlyphs" >60</text>
<text x="354.5" y="234.5" font-size="10.5" font-weight="bold" fill="#1a1a1a" text-anchor="middle" textLength="75" lengthAdjust="spacingAndGlyphs" >Voltage (mV)</text>
<text transform="translate(246.9,134.6) rotate(-90)" x="0" y="0" font-size="10.5" font-weight="bold" text-anchor="middle" fill="#1a1a1a" textLength="90" lengthAdjust="spacingAndGlyphs">Current (pA/pF)</text>
<path d="M290.5,171.8 L306.5,169.3 L322.5,167.5 L338.5,164.6 L354.5,159.0 L370.5,152.3 L386.5,145.2 L402.5,138.9 L418.5,132.6" stroke="#2a2a2a" stroke-width="1.15" fill="none" />
<line x1="306.5" y1="168.60399999999998" x2="306.5" y2="170.0" stroke="#2a2a2a" stroke-width="1.2"/>
<line x1="322.5" y1="166.4402" x2="322.5" y2="168.5342" stroke="#2a2a2a" stroke-width="1.2"/>
<line x1="338.5" y1="163.22940000000003" x2="338.5" y2="166.0214" stroke="#2a2a2a" stroke-width="1.2"/>
<line x1="354.5" y1="157.2266" x2="354.5" y2="160.7166" stroke="#2a2a2a" stroke-width="1.2"/>
<line x1="370.5" y1="149.8278" x2="370.5" y2="154.71380000000002" stroke="#2a2a2a" stroke-width="1.2"/>
<line x1="386.5" y1="141.731" x2="386.5" y2="148.711" stroke="#2a2a2a" stroke-width="1.2"/>
<line x1="402.5" y1="134.68120000000002" x2="402.5" y2="143.0572" stroke="#2a2a2a" stroke-width="1.2"/>
<line x1="418.5" y1="127.7012" x2="418.5" y2="137.4732" stroke="#2a2a2a" stroke-width="1.2"/>
<path d="M290.5,171.8 L306.5,165.8 L322.5,160.1 L338.5,151.6 L354.5,140.0 L370.5,127.7 L386.5,115.0 L402.5,101.6 L418.5,89.7" stroke="#e52d2d" stroke-width="1.15" fill="none" />
<line x1="306.5" y1="164.76500000000001" x2="306.5" y2="166.859" stroke="#e52d2d" stroke-width="1.2"/>
<line x1="322.5" y1="158.3434" x2="322.5" y2="161.8334" stroke="#e52d2d" stroke-width="1.2"/>
<line x1="338.5" y1="149.1298" x2="338.5" y2="154.0158" stroke="#e52d2d" stroke-width="1.2"/>
<line x1="354.5" y1="136.845" x2="354.5" y2="143.12699999999998" stroke="#e52d2d" stroke-width="1.2"/>
<line x1="370.5" y1="123.5132" x2="370.5" y2="131.8892" stroke="#e52d2d" stroke-width="1.2"/>
<line x1="386.5" y1="110.11160000000001" x2="386.5" y2="119.8836" stroke="#e52d2d" stroke-width="1.2"/>
<line x1="402.5" y1="96.01199999999999" x2="402.5" y2="107.17999999999999" stroke="#e52d2d" stroke-width="1.2"/>
<line x1="418.5" y1="83.448" x2="418.5" y2="96.01199999999999" stroke="#e52d2d" stroke-width="1.2"/>
<text x="320.2" y="151.2" font-size="10.5" font-weight="normal" fill="#444" text-anchor="middle" >‡</text>
<line x1="333.4" y1="134.1" x2="333.4" y2="143.8" stroke="#1a1a1a" stroke-width="1.5"/>
<line x1="338.9" y1="134.1" x2="338.9" y2="143.8" stroke="#1a1a1a" stroke-width="1.5"/>
<line x1="349.8" y1="121.4" x2="349.8" y2="130.9" stroke="#1a1a1a" stroke-width="1.5"/>
<line x1="355.3" y1="121.4" x2="355.3" y2="130.9" stroke="#1a1a1a" stroke-width="1.5"/>
<line x1="365.45" y1="108.9" x2="365.45" y2="118.4" stroke="#1a1a1a" stroke-width="1.5"/>
<line x1="370.95" y1="108.9" x2="370.95" y2="118.4" stroke="#1a1a1a" stroke-width="1.5"/>
<line x1="381.85" y1="97.3" x2="381.85" y2="106.8" stroke="#1a1a1a" stroke-width="1.5"/>
<line x1="387.35" y1="97.3" x2="387.35" y2="106.8" stroke="#1a1a1a" stroke-width="1.5"/>
<line x1="398.35" y1="79.4" x2="398.35" y2="88.9" stroke="#1a1a1a" stroke-width="1.5"/>
<line x1="403.85" y1="79.4" x2="403.85" y2="88.9" stroke="#1a1a1a" stroke-width="1.5"/>
<line x1="414.05" y1="65.5" x2="414.05" y2="75" stroke="#1a1a1a" stroke-width="1.5"/>
<line x1="419.55" y1="65.5" x2="419.55" y2="75" stroke="#1a1a1a" stroke-width="1.5"/>
<line x1="279.3" y1="68.8" x2="294.3" y2="68.8" stroke="#555" stroke-width="1.1"/>
<line x1="279.3" y1="83.9" x2="294.3" y2="83.9" stroke="#e46464" stroke-width="1.1"/>
<text x="309.9" y="72.6" font-size="10.5" font-weight="bold" fill="#1a1a1a" text-anchor="start" textLength="60" lengthAdjust="spacingAndGlyphs" >1 Hz CON1</text>
<text x="298.9" y="87.7" font-size="10.5" font-weight="bold" fill="#1a1a1a" text-anchor="start" textLength="71" lengthAdjust="spacingAndGlyphs" >0.1 Hz CON1</text>
<line x1="275.3" y1="367.09999999999997" x2="275.3" y2="507.5" stroke="#6a6a6a" stroke-width="1.3"/>
<line x1="275.3" y1="507.5" x2="434.4" y2="507.5" stroke="#6a6a6a" stroke-width="1.3"/>
<line x1="269.3" y1="367.09999999999997" x2="275.3" y2="367.09999999999997" stroke="#222" stroke-width="1.4"/>
<text x="265.7" y="370.79999999999995" font-size="10.4" font-weight="bold" fill="#111" text-anchor="end" textLength="13.8" lengthAdjust="spacingAndGlyphs" >15</text>
<line x1="269.3" y1="402.2" x2="275.3" y2="402.2" stroke="#222" stroke-width="1.4"/>
<text x="265.7" y="405.9" font-size="10.4" font-weight="bold" fill="#111" text-anchor="end" textLength="13.8" lengthAdjust="spacingAndGlyphs" >10</text>
<line x1="269.3" y1="437.29999999999995" x2="275.3" y2="437.29999999999995" stroke="#222" stroke-width="1.4"/>
<text x="265.7" y="440.99999999999994" font-size="10.4" font-weight="bold" fill="#111" text-anchor="end" textLength="6.6000000000000005" lengthAdjust="spacingAndGlyphs" >5</text>
<line x1="269.3" y1="472.4" x2="275.3" y2="472.4" stroke="#222" stroke-width="1.4"/>
<text x="265.7" y="476.09999999999997" font-size="10.4" font-weight="bold" fill="#111" text-anchor="end" textLength="6.6000000000000005" lengthAdjust="spacingAndGlyphs" >0</text>
<line x1="269.3" y1="507.5" x2="275.3" y2="507.5" stroke="#222" stroke-width="1.4"/>
<text x="265.7" y="511.2" font-size="10.4" font-weight="bold" fill="#111" text-anchor="end" textLength="15.200000000000001" lengthAdjust="spacingAndGlyphs" >−5</text>
<line x1="275.4" y1="507.5" x2="275.4" y2="513.0" stroke="#222" stroke-width="1.4"/>
<text x="275.4" y="524.9" font-size="10.4" font-weight="bold" fill="#111" text-anchor="middle" textLength="22.4" lengthAdjust="spacingAndGlyphs" >−40</text>
<line x1="307.2" y1="507.5" x2="307.2" y2="513.0" stroke="#222" stroke-width="1.4"/>
<text x="307.2" y="524.9" font-size="10.4" font-weight="bold" fill="#111" text-anchor="middle" textLength="22.4" lengthAdjust="spacingAndGlyphs" >−20</text>
<line x1="339.0" y1="507.5" x2="339.0" y2="513.0" stroke="#222" stroke-width="1.4"/>
<text x="339.0" y="524.9" font-size="10.4" font-weight="bold" fill="#111" text-anchor="middle" textLength="6.6000000000000005" lengthAdjust="spacingAndGlyphs" >0</text>
<line x1="370.8" y1="507.5" x2="370.8" y2="513.0" stroke="#222" stroke-width="1.4"/>
<text x="370.8" y="524.9" font-size="10.4" font-weight="bold" fill="#111" text-anchor="middle" textLength="13.8" lengthAdjust="spacingAndGlyphs" >20</text>
<line x1="402.6" y1="507.5" x2="402.6" y2="513.0" stroke="#222" stroke-width="1.4"/>
<text x="402.6" y="524.9" font-size="10.4" font-weight="bold" fill="#111" text-anchor="middle" textLength="13.8" lengthAdjust="spacingAndGlyphs" >40</text>
<line x1="434.4" y1="507.5" x2="434.4" y2="513.0" stroke="#222" stroke-width="1.4"/>
<text x="434.4" y="524.9" font-size="10.4" font-weight="bold" fill="#111" text-anchor="middle" textLength="13.8" lengthAdjust="spacingAndGlyphs" >60</text>
<text x="355" y="538" font-size="10.5" font-weight="bold" fill="#1a1a1a" text-anchor="middle" textLength="75" lengthAdjust="spacingAndGlyphs" >Voltage (mV)</text>
<text transform="translate(247,436.5) rotate(-90)" x="0" y="0" font-size="10.5" font-weight="bold" text-anchor="middle" fill="#1a1a1a" textLength="90" lengthAdjust="spacingAndGlyphs">Current (pA/pF)</text>
<path d="M291.3,473.8 L307.2,471.5 L323.1,469.0 L339.0,464.7 L354.9,458.0 L370.8,450.0 L386.7,443.7 L402.6,436.7 L418.5,431.0" stroke="#2a2a2a" stroke-width="1.15" fill="none" />
<line x1="307.2" y1="470.798" x2="307.2" y2="472.202" stroke="#2a2a2a" stroke-width="1.2"/>
<line x1="323.1" y1="468.298" x2="323.1" y2="469.702" stroke="#2a2a2a" stroke-width="1.2"/>
<line x1="339.0" y1="463.647" x2="339.0" y2="465.753" stroke="#2a2a2a" stroke-width="1.2"/>
<line x1="354.9" y1="456.596" x2="354.9" y2="459.404" stroke="#2a2a2a" stroke-width="1.2"/>
<line x1="370.8" y1="448.245" x2="370.8" y2="451.755" stroke="#2a2a2a" stroke-width="1.2"/>
<line x1="386.7" y1="441.594" x2="386.7" y2="445.806" stroke="#2a2a2a" stroke-width="1.2"/>
<line x1="402.6" y1="433.892" x2="402.6" y2="439.508" stroke="#2a2a2a" stroke-width="1.2"/>
<line x1="418.5" y1="427.49" x2="418.5" y2="434.51" stroke="#2a2a2a" stroke-width="1.2"/>
<path d="M291.3,473.8 L307.2,470.6 L323.1,465.2 L339.0,457.4 L354.9,446.8 L370.8,434.8 L386.7,421.2 L402.6,410.4 L418.5,400.1" stroke="#e52d2d" stroke-width="1.15" fill="none" />
<line x1="307.2" y1="469.898" x2="307.2" y2="471.302" stroke="#e52d2d" stroke-width="1.2"/>
<line x1="323.1" y1="463.796" x2="323.1" y2="466.604" stroke="#e52d2d" stroke-width="1.2"/>
<line x1="339.0" y1="455.294" x2="339.0" y2="459.506" stroke="#e52d2d" stroke-width="1.2"/>
<line x1="354.9" y1="443.992" x2="354.9" y2="449.608" stroke="#e52d2d" stroke-width="1.2"/>
<line x1="370.8" y1="430.939" x2="370.8" y2="438.661" stroke="#e52d2d" stroke-width="1.2"/>
<line x1="386.7" y1="416.988" x2="386.7" y2="425.412" stroke="#e52d2d" stroke-width="1.2"/>
<line x1="402.6" y1="405.486" x2="402.6" y2="415.31399999999996" stroke="#e52d2d" stroke-width="1.2"/>
<line x1="418.5" y1="394.48400000000004" x2="418.5" y2="405.716" stroke="#e52d2d" stroke-width="1.2"/>
<text x="338.5" y="449.8" font-size="11.5" font-weight="normal" fill="#000" text-anchor="middle" >§</text>
<text x="354.7" y="439.3" font-size="11.5" font-weight="normal" fill="#000" text-anchor="middle" >§</text>
<line x1="368.25" y1="417.9" x2="368.25" y2="427.3" stroke="#1a1a1a" stroke-width="1.5"/>
<line x1="373.75" y1="417.9" x2="373.75" y2="427.3" stroke="#1a1a1a" stroke-width="1.5"/>
<line x1="382.55" y1="402.1" x2="382.55" y2="411.5" stroke="#1a1a1a" stroke-width="1.5"/>
<line x1="388.05" y1="402.1" x2="388.05" y2="411.5" stroke="#1a1a1a" stroke-width="1.5"/>
<line x1="399.35" y1="393.1" x2="399.35" y2="402.5" stroke="#1a1a1a" stroke-width="1.5"/>
<line x1="404.85" y1="393.1" x2="404.85" y2="402.5" stroke="#1a1a1a" stroke-width="1.5"/>
<line x1="415.55" y1="380.5" x2="415.55" y2="389.9" stroke="#1a1a1a" stroke-width="1.5"/>
<line x1="421.05" y1="380.5" x2="421.05" y2="389.9" stroke="#1a1a1a" stroke-width="1.5"/>
<line x1="280.4" y1="371" x2="295.4" y2="371" stroke="#555" stroke-width="1.1"/>
<line x1="280.4" y1="385.8" x2="295.4" y2="385.8" stroke="#e46464" stroke-width="1.1"/>
<text x="311.4" y="374.8" font-size="10.5" font-weight="bold" fill="#1a1a1a" text-anchor="start" textLength="56" lengthAdjust="spacingAndGlyphs" >1 Hz BrS1</text>
<text x="300.6" y="389.6" font-size="10.5" font-weight="bold" fill="#1a1a1a" text-anchor="start" textLength="67" lengthAdjust="spacingAndGlyphs" >0.1 Hz BrS1</text>
<line x1="522.9" y1="61.7" x2="522.9" y2="205.3" stroke="#000" stroke-width="1.5"/>
<line x1="522.9" y1="205.3" x2="738.8" y2="205.3" stroke="#000" stroke-width="1.5"/>
<line x1="518.9" y1="205.3" x2="522.9" y2="205.3" stroke="#000" stroke-width="1.4"/>
<text x="516.9" y="209.0" font-size="10.5" font-weight="bold" fill="#1a1a1a" text-anchor="end" >0</text>
<line x1="518.9" y1="172.65" x2="522.9" y2="172.65" stroke="#000" stroke-width="1.4"/>
<text x="516.9" y="176.35" font-size="10.5" font-weight="bold" fill="#1a1a1a" text-anchor="end" >5</text>
<line x1="518.9" y1="140.0" x2="522.9" y2="140.0" stroke="#000" stroke-width="1.4"/>
<text x="516.9" y="143.7" font-size="10.5" font-weight="bold" fill="#1a1a1a" text-anchor="end" >10</text>
<line x1="518.9" y1="107.35000000000001" x2="522.9" y2="107.35000000000001" stroke="#000" stroke-width="1.4"/>
<text x="516.9" y="111.05000000000001" font-size="10.5" font-weight="bold" fill="#1a1a1a" text-anchor="end" >15</text>
<line x1="518.9" y1="74.70000000000002" x2="522.9" y2="74.70000000000002" stroke="#000" stroke-width="1.4"/>
<text x="516.9" y="78.40000000000002" font-size="10.5" font-weight="bold" fill="#1a1a1a" text-anchor="end" >20</text>
<line x1="577" y1="205.3" x2="577" y2="210.3" stroke="#000" stroke-width="1.4"/>
<line x1="685" y1="205.3" x2="685" y2="210.3" stroke="#000" stroke-width="1.4"/>
<line x1="577" y1="140.45710000000003" x2="685" y2="111.921" stroke="#111" stroke-width="0.75"/>
<line x1="577" y1="149.79500000000002" x2="685" y2="93.637" stroke="#111" stroke-width="0.75"/>
<line x1="577" y1="151.8846" x2="685" y2="96.24900000000001" stroke="#111" stroke-width="0.75"/>
<line x1="577" y1="153.90890000000002" x2="685" y2="113.227" stroke="#111" stroke-width="0.75"/>
<line x1="577" y1="155.8026" x2="685" y2="99.51400000000001" stroke="#111" stroke-width="0.75"/>
<line x1="577" y1="162.3979" x2="685" y2="67.517" stroke="#111" stroke-width="0.75"/>
<line x1="577" y1="164.8793" x2="685" y2="103.43200000000002" stroke="#111" stroke-width="0.75"/>
<line x1="577" y1="167.42600000000002" x2="685" y2="120.41000000000001" stroke="#111" stroke-width="0.75"/>
<line x1="577" y1="169.7115" x2="685" y2="130.858" stroke="#111" stroke-width="0.75"/>
<line x1="577" y1="172.32350000000002" x2="685" y2="140.0" stroke="#111" stroke-width="0.75"/>
<line x1="577" y1="178.7229" x2="685" y2="140.65300000000002" stroke="#111" stroke-width="0.75"/>
<line x1="577" y1="180.4207" x2="685" y2="146.53" stroke="#111" stroke-width="0.75"/>
<line x1="577" y1="181.46550000000002" x2="685" y2="148.489" stroke="#111" stroke-width="0.75"/>
<line x1="577" y1="182.44500000000002" x2="685" y2="155.019" stroke="#111" stroke-width="0.75"/>
<line x1="577" y1="183.42450000000002" x2="685" y2="157.631" stroke="#111" stroke-width="0.75"/>
<line x1="577" y1="184.404" x2="685" y2="159.59" stroke="#111" stroke-width="0.75"/>
<line x1="577" y1="185.38350000000003" x2="685" y2="160.243" stroke="#111" stroke-width="0.75"/>
<line x1="577" y1="186.03650000000002" x2="685" y2="162.85500000000002" stroke="#111" stroke-width="0.75"/>
<line x1="577" y1="186.49360000000001" x2="685" y2="164.81400000000002" stroke="#111" stroke-width="0.75"/>
<line x1="577" y1="187.669" x2="685" y2="166.12" stroke="#111" stroke-width="0.75"/>
<line x1="577" y1="189.62800000000001" x2="685" y2="167.42600000000002" stroke="#111" stroke-width="0.75"/>
<line x1="577" y1="191.9135" x2="685" y2="171.344" stroke="#111" stroke-width="0.75"/>
<circle cx="577" cy="140.5" r="2.5" fill="#000"/>
<circle cx="577" cy="149.8" r="2.5" fill="#000"/>
<circle cx="577" cy="151.9" r="2.5" fill="#000"/>
<circle cx="577" cy="153.9" r="2.5" fill="#000"/>
<circle cx="577" cy="155.8" r="2.5" fill="#000"/>
<circle cx="577" cy="162.4" r="2.5" fill="#000"/>
<circle cx="577" cy="164.9" r="2.5" fill="#000"/>
<circle cx="577" cy="167.4" r="2.5" fill="#000"/>
<circle cx="577" cy="169.7" r="2.5" fill="#000"/>
<circle cx="577" cy="172.3" r="2.5" fill="#000"/>
<circle cx="577" cy="178.7" r="2.5" fill="#000"/>
<circle cx="577" cy="180.4" r="2.5" fill="#000"/>
<circle cx="577" cy="181.5" r="2.5" fill="#000"/>
<circle cx="577" cy="182.4" r="2.5" fill="#000"/>
<circle cx="577" cy="183.4" r="2.5" fill="#000"/>
<circle cx="577" cy="184.4" r="2.5" fill="#000"/>
<circle cx="577" cy="185.4" r="2.5" fill="#000"/>
<circle cx="577" cy="186.0" r="2.5" fill="#000"/>
<circle cx="577" cy="186.5" r="2.5" fill="#000"/>
<circle cx="577" cy="187.7" r="2.5" fill="#000"/>
<circle cx="577" cy="189.6" r="2.5" fill="#000"/>
<circle cx="577" cy="191.9" r="2.5" fill="#000"/>
<circle cx="685" cy="67.5" r="2.5" fill="#000"/>
<circle cx="685" cy="93.6" r="2.5" fill="#000"/>
<circle cx="685" cy="96.2" r="2.5" fill="#000"/>
<circle cx="685" cy="99.5" r="2.5" fill="#000"/>
<circle cx="685" cy="103.4" r="2.5" fill="#000"/>
<circle cx="685" cy="111.9" r="2.5" fill="#000"/>
<circle cx="685" cy="113.2" r="2.5" fill="#000"/>
<circle cx="685" cy="120.4" r="2.5" fill="#000"/>
<circle cx="685" cy="130.9" r="2.5" fill="#000"/>
<circle cx="685" cy="140.0" r="2.5" fill="#000"/>
<circle cx="685" cy="140.7" r="2.5" fill="#000"/>
<circle cx="685" cy="146.5" r="2.5" fill="#000"/>
<circle cx="685" cy="148.5" r="2.5" fill="#000"/>
<circle cx="685" cy="155.0" r="2.5" fill="#000"/>
<circle cx="685" cy="157.6" r="2.5" fill="#000"/>
<circle cx="685" cy="159.6" r="2.5" fill="#000"/>
<circle cx="685" cy="160.2" r="2.5" fill="#000"/>
<circle cx="685" cy="162.9" r="2.5" fill="#000"/>
<circle cx="685" cy="164.8" r="2.5" fill="#000"/>
<circle cx="685" cy="166.1" r="2.5" fill="#000"/>
<circle cx="685" cy="167.4" r="2.5" fill="#000"/>
<circle cx="685" cy="171.3" r="2.5" fill="#000"/>
<text x="556.1" y="23.7" font-size="12.1" font-weight="bold" fill="#1a1a1a"><tspan font-style="italic">I</tspan><tspan font-size="8.5" dy="2.5">to</tspan><tspan dy="-2.5"> recorded in CON1 at 1.0</tspan></text>
<text x="587.4" y="39.3" font-size="11.5" font-weight="bold" fill="#1a1a1a" text-anchor="start" textLength="87" lengthAdjust="spacingAndGlyphs" >&amp; 0.1 Hz (n=22)</text>
<text x="549" y="53.5" font-size="10.5" font-weight="normal" fill="#222" text-anchor="start" textLength="47.4" lengthAdjust="spacingAndGlyphs" >4.95±0.50</text>
<text x="662" y="53.5" font-size="10.5" font-weight="normal" fill="#222" text-anchor="start" textLength="52.2" lengthAdjust="spacingAndGlyphs" >11.22±0.95</text>
<text x="627.8" y="54" font-size="11.5" font-weight="bold" fill="#222" text-anchor="middle" >§</text>
<path d="M577.3,62.4 V58.4 H684.7 V62.4" stroke="#6f9bcb" stroke-width="1.1" fill="none" />
<path d="M689,66.7 H691.3 V101.7 H689 M691.3,84.2 H694" stroke="#6f9bcb" stroke-width="1.1" fill="none" />
<path d="M689,106.3 H691.3 V169.4 H689 M691.3,137.85 H694" stroke="#6f9bcb" stroke-width="1.1" fill="none" />
<text x="700.6" y="86" font-size="10.5" font-weight="normal" fill="#222" text-anchor="start" textLength="51" lengthAdjust="spacingAndGlyphs" >17.34±0.97</text>
<text x="700.2" y="101.5" font-size="10.5" font-weight="normal" fill="#222" text-anchor="start" textLength="23.6" lengthAdjust="spacingAndGlyphs" >(n=5)</text>
<text x="726.3" y="102.1" font-size="12" font-weight="bold" fill="#111" text-anchor="start" textLength="5.8" lengthAdjust="spacingAndGlyphs" >ǂ</text>
<text x="700.6" y="135" font-size="10.5" font-weight="normal" fill="#222" text-anchor="start" textLength="46.7" lengthAdjust="spacingAndGlyphs" >9.41±0.75</text>
<text x="700.6" y="149" font-size="10.5" font-weight="normal" fill="#222" text-anchor="start" textLength="29" lengthAdjust="spacingAndGlyphs" >(n=17)</text>
<text x="541.4" y="95" font-size="11" font-weight="bold" fill="#3b2fc9" text-anchor="start" textLength="53" lengthAdjust="spacingAndGlyphs" font-style="italic" >At +50 mV</text>
<text transform="translate(496.8,133) rotate(-90)" x="0" y="0" font-size="11.2" font-weight="bold" text-anchor="middle" fill="#1a1a1a" textLength="90" lengthAdjust="spacingAndGlyphs">Current (pA/pF)</text>
<text transform="translate(515.3,242) rotate(-15)" font-size="11.3" font-weight="bold" fill="#1a1a1a" textLength="63" lengthAdjust="spacingAndGlyphs">CON1 1.0 Hz</text>
<text transform="translate(622.6,241.8) rotate(-15)" font-size="11.3" font-weight="bold" fill="#1a1a1a" textLength="63" lengthAdjust="spacingAndGlyphs">CON1 0.1 Hz</text>
<text x="630.8" y="264.5" font-size="12.2" font-weight="bold" fill="#1a1a1a" text-anchor="middle" textLength="111.5" lengthAdjust="spacingAndGlyphs" >Pacing Frequencies</text>
<line x1="522.9" y1="365.1" x2="522.9" y2="508.6" stroke="#000" stroke-width="1.5"/>
<line x1="522.9" y1="508.6" x2="738.8" y2="508.6" stroke="#000" stroke-width="1.5"/>
<line x1="518.9" y1="508.6" x2="522.9" y2="508.6" stroke="#000" stroke-width="1.4"/>
<text x="516.9" y="512.3000000000001" font-size="10.5" font-weight="bold" fill="#1a1a1a" text-anchor="end" >0</text>
<line x1="518.9" y1="475.90000000000003" x2="522.9" y2="475.90000000000003" stroke="#000" stroke-width="1.4"/>
<text x="516.9" y="479.6" font-size="10.5" font-weight="bold" fill="#1a1a1a" text-anchor="end" >5</text>
<line x1="518.9" y1="443.20000000000005" x2="522.9" y2="443.20000000000005" stroke="#000" stroke-width="1.4"/>
<text x="516.9" y="446.90000000000003" font-size="10.5" font-weight="bold" fill="#1a1a1a" text-anchor="end" >10</text>
<line x1="518.9" y1="410.5" x2="522.9" y2="410.5" stroke="#000" stroke-width="1.4"/>
<text x="516.9" y="414.2" font-size="10.5" font-weight="bold" fill="#1a1a1a" text-anchor="end" >15</text>
<line x1="518.9" y1="377.8" x2="522.9" y2="377.8" stroke="#000" stroke-width="1.4"/>
<text x="516.9" y="381.5" font-size="10.5" font-weight="bold" fill="#1a1a1a" text-anchor="end" >20</text>
<line x1="577" y1="508.6" x2="577" y2="513.6" stroke="#000" stroke-width="1.4"/>
<line x1="685" y1="508.6" x2="685" y2="513.6" stroke="#000" stroke-width="1.4"/>
<line x1="577" y1="432.6052" x2="685" y2="407.6224" stroke="#111" stroke-width="0.75"/>
<line x1="577" y1="445.4236" x2="685" y2="382.31260000000003" stroke="#111" stroke-width="0.75"/>
<line x1="577" y1="453.92560000000003" x2="685" y2="388.9834" stroke="#111" stroke-width="0.75"/>
<line x1="577" y1="456.934" x2="685" y2="399.7744" stroke="#111" stroke-width="0.75"/>
<line x1="577" y1="459.02680000000004" x2="685" y2="412.52740000000006" stroke="#111" stroke-width="0.75"/>
<line x1="577" y1="461.70820000000003" x2="685" y2="425.869" stroke="#111" stroke-width="0.75"/>
<line x1="577" y1="462.82000000000005" x2="685" y2="432.01660000000004" stroke="#111" stroke-width="0.75"/>
<line x1="577" y1="463.9972" x2="685" y2="428.485" stroke="#111" stroke-width="0.75"/>
<line x1="577" y1="464.78200000000004" x2="685" y2="436.00600000000003" stroke="#111" stroke-width="0.75"/>
<line x1="577" y1="466.0246" x2="685" y2="434.04400000000004" stroke="#111" stroke-width="0.75"/>
<line x1="577" y1="467.398" x2="685" y2="442.6768" stroke="#111" stroke-width="0.75"/>
<line x1="577" y1="468.706" x2="685" y2="439.9954" stroke="#111" stroke-width="0.75"/>
<line x1="577" y1="469.6216" x2="685" y2="448.432" stroke="#111" stroke-width="0.75"/>
<line x1="577" y1="470.668" x2="685" y2="475.1152" stroke="#111" stroke-width="0.75"/>
<line x1="577" y1="471.51820000000004" x2="685" y2="446.0122" stroke="#111" stroke-width="0.75"/>
<line x1="577" y1="473.0224" x2="685" y2="453.01" stroke="#111" stroke-width="0.75"/>
<line x1="577" y1="473.93800000000005" x2="685" y2="477.0118" stroke="#111" stroke-width="0.75"/>
<line x1="577" y1="474.98440000000005" x2="685" y2="450.0016" stroke="#111" stroke-width="0.75"/>
<line x1="577" y1="475.90000000000003" x2="685" y2="457.588" stroke="#111" stroke-width="0.75"/>
<line x1="577" y1="477.0118" x2="685" y2="454.97200000000004" stroke="#111" stroke-width="0.75"/>
<line x1="577" y1="479.17" x2="685" y2="461.9698" stroke="#111" stroke-width="0.75"/>
<line x1="577" y1="484.99060000000003" x2="685" y2="459.4846" stroke="#111" stroke-width="0.75"/>
<line x1="577" y1="487.01800000000003" x2="685" y2="464.9782" stroke="#111" stroke-width="0.75"/>
<line x1="577" y1="488.98" x2="685" y2="468.379" stroke="#111" stroke-width="0.75"/>
<line x1="577" y1="490.48420000000004" x2="685" y2="466.744" stroke="#111" stroke-width="0.75"/>
<line x1="577" y1="491.9884" x2="685" y2="470.995" stroke="#111" stroke-width="0.75"/>
<circle cx="577" cy="432.6" r="2.5" fill="#000"/>
<circle cx="577" cy="445.4" r="2.5" fill="#000"/>
<circle cx="577" cy="453.9" r="2.5" fill="#000"/>
<circle cx="577" cy="456.9" r="2.5" fill="#000"/>
<circle cx="577" cy="459.0" r="2.5" fill="#000"/>
<circle cx="577" cy="461.7" r="2.5" fill="#000"/>
<circle cx="577" cy="462.8" r="2.5" fill="#000"/>
<circle cx="577" cy="464.0" r="2.5" fill="#000"/>
<circle cx="577" cy="464.8" r="2.5" fill="#000"/>
<circle cx="577" cy="466.0" r="2.5" fill="#000"/>
<circle cx="577" cy="467.4" r="2.5" fill="#000"/>
<circle cx="577" cy="468.7" r="2.5" fill="#000"/>
<circle cx="577" cy="469.6" r="2.5" fill="#000"/>
<circle cx="577" cy="470.7" r="2.5" fill="#000"/>
<circle cx="577" cy="471.5" r="2.5" fill="#000"/>
<circle cx="577" cy="473.0" r="2.5" fill="#000"/>
<circle cx="577" cy="473.9" r="2.5" fill="#000"/>
<circle cx="577" cy="475.0" r="2.5" fill="#000"/>
<circle cx="577" cy="475.9" r="2.5" fill="#000"/>
<circle cx="577" cy="477.0" r="2.5" fill="#000"/>
<circle cx="577" cy="479.2" r="2.5" fill="#000"/>
<circle cx="577" cy="485.0" r="2.5" fill="#000"/>
<circle cx="577" cy="487.0" r="2.5" fill="#000"/>
<circle cx="577" cy="489.0" r="2.5" fill="#000"/>
<circle cx="577" cy="490.5" r="2.5" fill="#000"/>
<circle cx="577" cy="492.0" r="2.5" fill="#000"/>
<circle cx="685" cy="382.3" r="2.5" fill="#000"/>
<circle cx="685" cy="389.0" r="2.5" fill="#000"/>
<circle cx="685" cy="399.8" r="2.5" fill="#000"/>
<circle cx="685" cy="407.6" r="2.5" fill="#000"/>
<circle cx="685" cy="412.5" r="2.5" fill="#000"/>
<circle cx="685" cy="425.9" r="2.5" fill="#000"/>
<circle cx="685" cy="428.5" r="2.5" fill="#000"/>
<circle cx="685" cy="432.0" r="2.5" fill="#000"/>
<circle cx="685" cy="434.0" r="2.5" fill="#000"/>
<circle cx="685" cy="436.0" r="2.5" fill="#000"/>
<circle cx="685" cy="440.0" r="2.5" fill="#000"/>
<circle cx="685" cy="442.7" r="2.5" fill="#000"/>
<circle cx="685" cy="446.0" r="2.5" fill="#000"/>
<circle cx="685" cy="448.4" r="2.5" fill="#000"/>
<circle cx="685" cy="450.0" r="2.5" fill="#000"/>
<circle cx="685" cy="453.0" r="2.5" fill="#000"/>
<circle cx="685" cy="455.0" r="2.5" fill="#000"/>
<circle cx="685" cy="457.6" r="2.5" fill="#000"/>
<circle cx="685" cy="459.5" r="2.5" fill="#000"/>
<circle cx="685" cy="462.0" r="2.5" fill="#000"/>
<circle cx="685" cy="465.0" r="2.5" fill="#000"/>
<circle cx="685" cy="466.7" r="2.5" fill="#000"/>
<circle cx="685" cy="468.4" r="2.5" fill="#000"/>
<circle cx="685" cy="471.0" r="2.5" fill="#000"/>
<circle cx="685" cy="475.1" r="2.5" fill="#000"/>
<circle cx="685" cy="477.0" r="2.5" fill="#000"/>
<text x="558.5" y="327.3" font-size="12.1" font-weight="bold" fill="#1a1a1a"><tspan font-style="italic">I</tspan><tspan font-size="8.5" dy="2.5">to</tspan><tspan dy="-2.5"> recorded in BrS1 at 1.0</tspan></text>
<text x="587" y="343.1" font-size="11.5" font-weight="bold" fill="#1a1a1a" text-anchor="start" textLength="87" lengthAdjust="spacingAndGlyphs" >&amp; 0.1 Hz (n=26)</text>
<text x="553.7" y="365.6" font-size="10.5" font-weight="normal" fill="#222" text-anchor="start" textLength="46.7" lengthAdjust="spacingAndGlyphs" >6.05±0.44</text>
<text x="654.9" y="365.6" font-size="10.5" font-weight="normal" fill="#222" text-anchor="start" textLength="52.2" lengthAdjust="spacingAndGlyphs" >10.36±0.82</text>
<text x="630.8" y="370" font-size="11.5" font-weight="bold" fill="#222" text-anchor="middle" >§</text>
<path d="M575.8,378 V374 H684.7 V378" stroke="#6f9bcb" stroke-width="1.1" fill="none" />
<path d="M689,379.2 H691.3 V413.4 H689 M691.3,396.29999999999995 H694" stroke="#6f9bcb" stroke-width="1.1" fill="none" />
<path d="M689,421.3 H691.3 V478.9 H689 M691.3,450.1 H694" stroke="#6f9bcb" stroke-width="1.1" fill="none" />
<text x="700.6" y="396.5" font-size="10.5" font-weight="normal" fill="#222" text-anchor="start" textLength="52" lengthAdjust="spacingAndGlyphs" >16.97±0.88</text>
<text x="700.2" y="411" font-size="10.5" font-weight="normal" fill="#222" text-anchor="start" textLength="23.6" lengthAdjust="spacingAndGlyphs" >(n=5)</text>
<text x="726.3" y="411.6" font-size="12" font-weight="bold" fill="#111" text-anchor="start" textLength="5.8" lengthAdjust="spacingAndGlyphs" >ǂ</text>
<text x="700.6" y="449" font-size="10.5" font-weight="normal" fill="#222" text-anchor="start" textLength="47" lengthAdjust="spacingAndGlyphs" >8.79±0.60</text>
<text x="700.6" y="463" font-size="10.5" font-weight="normal" fill="#222" text-anchor="start" textLength="29" lengthAdjust="spacingAndGlyphs" >(n=21)</text>
<text x="541.4" y="408.5" font-size="11" font-weight="bold" fill="#3b2fc9" text-anchor="start" textLength="53" lengthAdjust="spacingAndGlyphs" font-style="italic" >At +50 mV</text>
<text transform="translate(496.8,436.3) rotate(-90)" x="0" y="0" font-size="11.2" font-weight="bold" text-anchor="middle" fill="#1a1a1a" textLength="90" lengthAdjust="spacingAndGlyphs">Current (pA/pF)</text>
<text transform="translate(518.9,542.3) rotate(-15)" font-size="11.3" font-weight="bold" fill="#1a1a1a" textLength="59.5" lengthAdjust="spacingAndGlyphs">BrS1 1.0 Hz</text>
<text transform="translate(626.9,542.3) rotate(-15)" font-size="11.3" font-weight="bold" fill="#1a1a1a" textLength="59.5" lengthAdjust="spacingAndGlyphs">BrS1 0.1 Hz</text>
<text x="630.8" y="566.5" font-size="12.2" font-weight="bold" fill="#1a1a1a" text-anchor="middle" textLength="111.5" lengthAdjust="spacingAndGlyphs" >Pacing Frequencies</text>
<rect x="753.5" y="556" width="5" height="1.6" fill="#eef27a"/>
<rect x="755.5" y="573.5" width="2.6" height="4" fill="#e6f030"/>
</svg></body></html>
